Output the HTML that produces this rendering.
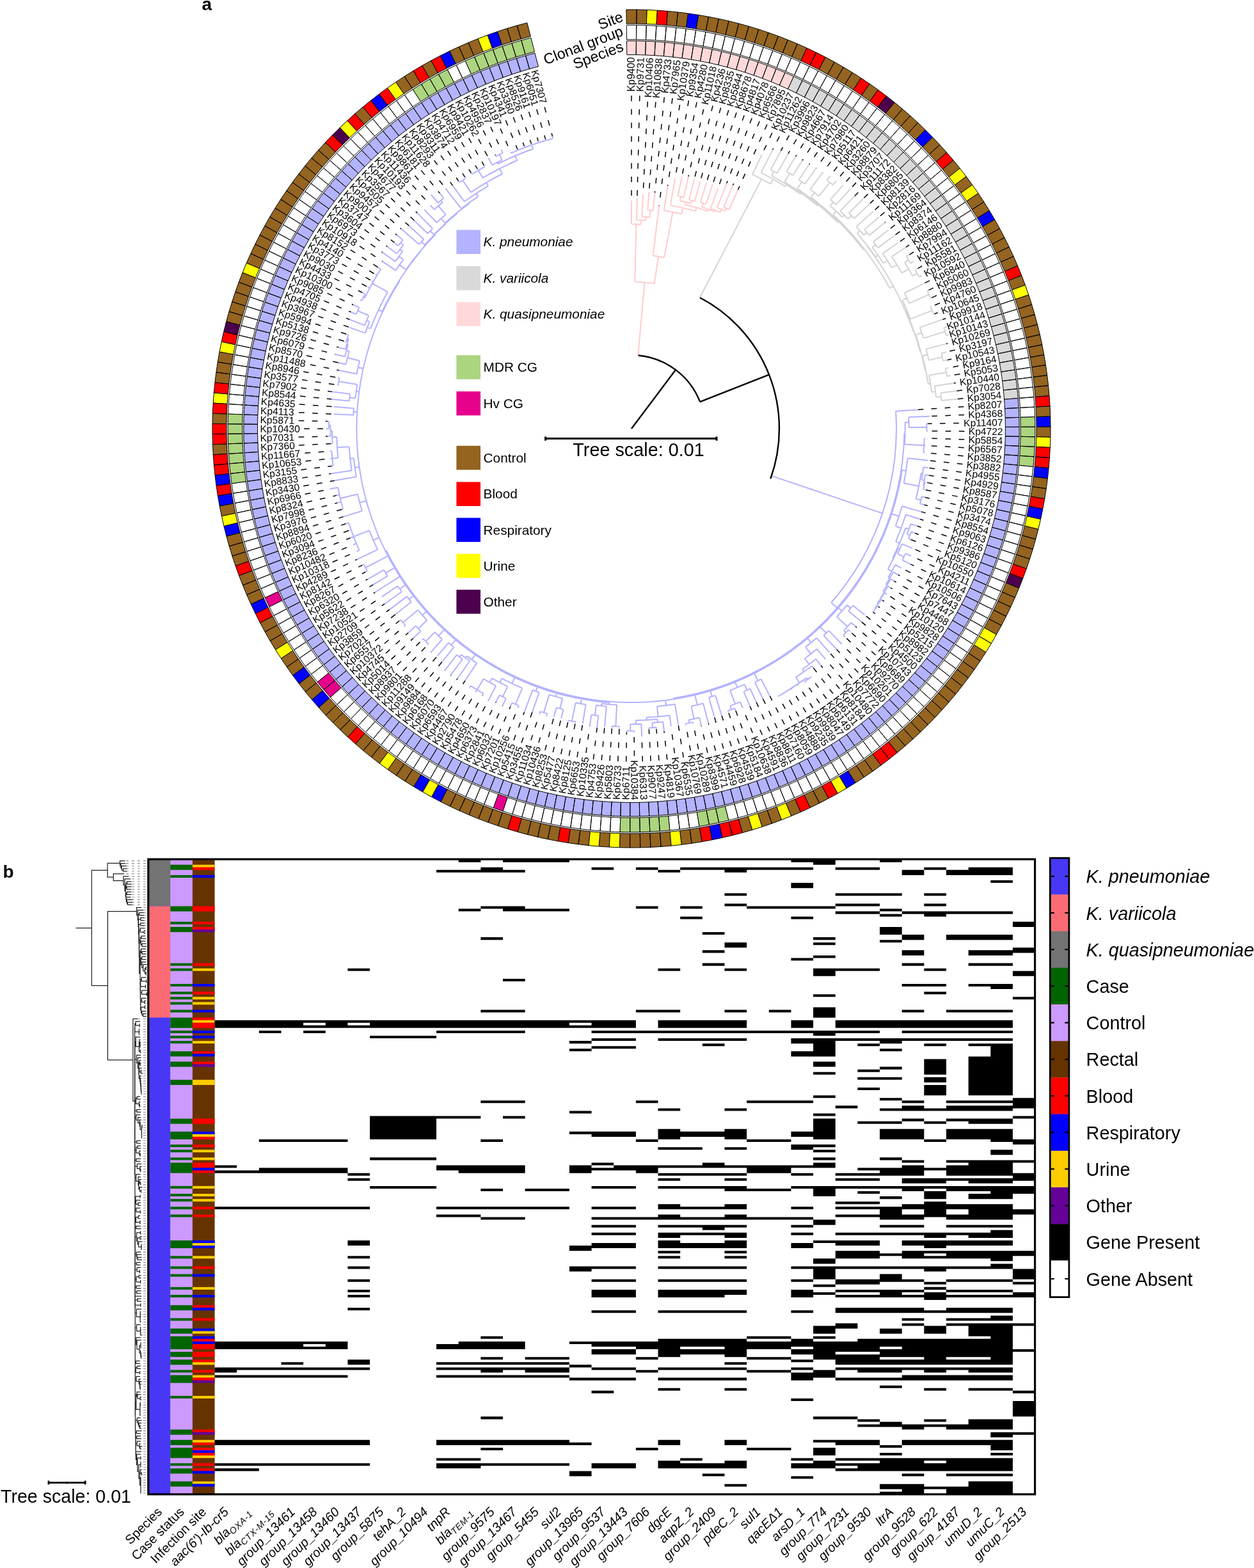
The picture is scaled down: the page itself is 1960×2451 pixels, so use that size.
<!DOCTYPE html>
<html lang="en"><head><meta charset="utf-8"><title>Klebsiella phylogeny and gene presence</title>
<style>html,body{margin:0;padding:0;background:#fff}svg{display:block}</style></head>
<body>
<svg xmlns="http://www.w3.org/2000/svg" width="1960" height="2451" viewBox="0 0 1960 2451">
<rect width="1960" height="2451" fill="#fff"/>
<g id="rings" stroke="#000" stroke-width="1" stroke-linejoin="miter">
<path fill="#ffd9d9" d="M979.79 85.64L979.52 63.95A606.1 606.1 0 0 1 994.48 63.95L994.21 85.64A584.4 584.4 0 0 0 979.79 85.64ZM994.21 85.64L994.48 63.95A606.1 606.1 0 0 1 1009.42 64.31L1008.62 86A584.4 584.4 0 0 0 994.21 85.64ZM1008.62 86L1009.42 64.31A606.1 606.1 0 0 1 1024.36 65.05L1023.02 86.71A584.4 584.4 0 0 0 1008.62 86ZM1023.02 86.71L1024.36 65.05A606.1 606.1 0 0 1 1039.27 66.16L1037.39 87.78A584.4 584.4 0 0 0 1023.02 86.71ZM1037.39 87.78L1039.27 66.16A606.1 606.1 0 0 1 1054.14 67.63L1051.74 89.2A584.4 584.4 0 0 0 1037.39 87.78ZM1051.74 89.2L1054.14 67.63A606.1 606.1 0 0 1 1068.98 69.47L1066.05 90.97A584.4 584.4 0 0 0 1051.74 89.2ZM1066.05 90.97L1068.98 69.47A606.1 606.1 0 0 1 1083.77 71.67L1080.3 93.1A584.4 584.4 0 0 0 1066.05 90.97ZM1080.3 93.1L1083.77 71.67A606.1 606.1 0 0 1 1098.5 74.24L1094.51 95.57A584.4 584.4 0 0 0 1080.3 93.1ZM1094.51 95.57L1098.5 74.24A606.1 606.1 0 0 1 1113.16 77.18L1108.64 98.4A584.4 584.4 0 0 0 1094.51 95.57ZM1108.64 98.4L1113.16 77.18A606.1 606.1 0 0 1 1127.74 80.47L1122.7 101.57A584.4 584.4 0 0 0 1108.64 98.4ZM1122.7 101.57L1127.74 80.47A606.1 606.1 0 0 1 1142.24 84.12L1136.68 105.09A584.4 584.4 0 0 0 1122.7 101.57ZM1136.68 105.09L1142.24 84.12A606.1 606.1 0 0 1 1156.65 88.13L1150.57 108.96A584.4 584.4 0 0 0 1136.68 105.09ZM1150.57 108.96L1156.65 88.13A606.1 606.1 0 0 1 1170.95 92.49L1164.36 113.16A584.4 584.4 0 0 0 1150.57 108.96ZM1164.36 113.16L1170.95 92.49A606.1 606.1 0 0 1 1185.14 97.2L1178.04 117.71A584.4 584.4 0 0 0 1164.36 113.16ZM1178.04 117.71L1185.14 97.2A606.1 606.1 0 0 1 1199.2 102.26L1191.61 122.59A584.4 584.4 0 0 0 1178.04 117.71ZM1191.61 122.59L1199.2 102.26A606.1 606.1 0 0 1 1213.14 107.67L1205.05 127.8A584.4 584.4 0 0 0 1191.61 122.59ZM1205.05 127.8L1213.14 107.67A606.1 606.1 0 0 1 1226.95 113.42L1218.35 133.35A584.4 584.4 0 0 0 1205.05 127.8ZM1218.35 133.35L1226.95 113.42A606.1 606.1 0 0 1 1240.6 119.51L1231.52 139.21A584.4 584.4 0 0 0 1218.35 133.35Z"/>
<path fill="#d9d9d9" d="M1231.52 139.21L1240.6 119.51A606.1 606.1 0 0 1 1254.1 125.93L1244.54 145.41A584.4 584.4 0 0 0 1231.52 139.21ZM1244.54 145.41L1254.1 125.93A606.1 606.1 0 0 1 1267.44 132.68L1257.4 151.92A584.4 584.4 0 0 0 1244.54 145.41ZM1257.4 151.92L1267.44 132.68A606.1 606.1 0 0 1 1280.61 139.76L1270.1 158.75A584.4 584.4 0 0 0 1257.4 151.92ZM1270.1 158.75L1280.61 139.76A606.1 606.1 0 0 1 1293.6 147.17L1282.62 165.89A584.4 584.4 0 0 0 1270.1 158.75ZM1282.62 165.89L1293.6 147.17A606.1 606.1 0 0 1 1306.4 154.89L1294.97 173.33A584.4 584.4 0 0 0 1282.62 165.89ZM1294.97 173.33L1306.4 154.89A606.1 606.1 0 0 1 1319.01 162.92L1307.12 181.08A584.4 584.4 0 0 0 1294.97 173.33ZM1307.12 181.08L1319.01 162.92A606.1 606.1 0 0 1 1331.42 171.27L1319.09 189.12A584.4 584.4 0 0 0 1307.12 181.08ZM1319.09 189.12L1331.42 171.27A606.1 606.1 0 0 1 1343.61 179.91L1330.85 197.46A584.4 584.4 0 0 0 1319.09 189.12ZM1330.85 197.46L1343.61 179.91A606.1 606.1 0 0 1 1355.59 188.86L1342.4 206.09A584.4 584.4 0 0 0 1330.85 197.46ZM1342.4 206.09L1355.59 188.86A606.1 606.1 0 0 1 1367.35 198.1L1353.73 214.99A584.4 584.4 0 0 0 1342.4 206.09ZM1353.73 214.99L1367.35 198.1A606.1 606.1 0 0 1 1378.87 207.62L1364.84 224.18A584.4 584.4 0 0 0 1353.73 214.99ZM1364.84 224.18L1378.87 207.62A606.1 606.1 0 0 1 1390.16 217.43L1375.72 233.63A584.4 584.4 0 0 0 1364.84 224.18ZM1375.72 233.63L1390.16 217.43A606.1 606.1 0 0 1 1401.2 227.51L1386.37 243.35A584.4 584.4 0 0 0 1375.72 233.63ZM1386.37 243.35L1401.2 227.51A606.1 606.1 0 0 1 1411.99 237.86L1396.77 253.33A584.4 584.4 0 0 0 1386.37 243.35ZM1396.77 253.33L1411.99 237.86A606.1 606.1 0 0 1 1422.52 248.48L1406.92 263.57A584.4 584.4 0 0 0 1396.77 253.33ZM1406.92 263.57L1422.52 248.48A606.1 606.1 0 0 1 1432.78 259.35L1416.82 274.05A584.4 584.4 0 0 0 1406.92 263.57ZM1416.82 274.05L1432.78 259.35A606.1 606.1 0 0 1 1442.78 270.47L1426.46 284.77A584.4 584.4 0 0 0 1416.82 274.05ZM1426.46 284.77L1442.78 270.47A606.1 606.1 0 0 1 1452.49 281.83L1435.83 295.73A584.4 584.4 0 0 0 1426.46 284.77ZM1435.83 295.73L1452.49 281.83A606.1 606.1 0 0 1 1461.92 293.43L1444.92 306.91A584.4 584.4 0 0 0 1435.83 295.73ZM1444.92 306.91L1461.92 293.43A606.1 606.1 0 0 1 1471.07 305.26L1453.74 318.32A584.4 584.4 0 0 0 1444.92 306.91ZM1453.74 318.32L1471.07 305.26A606.1 606.1 0 0 1 1479.92 317.31L1462.27 329.94A584.4 584.4 0 0 0 1453.74 318.32ZM1462.27 329.94L1479.92 317.31A606.1 606.1 0 0 1 1488.47 329.58L1470.51 341.77A584.4 584.4 0 0 0 1462.27 329.94ZM1470.51 341.77L1488.47 329.58A606.1 606.1 0 0 1 1496.71 342.05L1478.46 353.79A584.4 584.4 0 0 0 1470.51 341.77ZM1478.46 353.79L1496.71 342.05A606.1 606.1 0 0 1 1504.65 354.72L1486.11 366.01A584.4 584.4 0 0 0 1478.46 353.79ZM1486.11 366.01L1504.65 354.72A606.1 606.1 0 0 1 1512.27 367.59L1493.46 378.41A584.4 584.4 0 0 0 1486.11 366.01ZM1493.46 378.41L1512.27 367.59A606.1 606.1 0 0 1 1519.56 380.64L1500.5 391A584.4 584.4 0 0 0 1493.46 378.41ZM1500.5 391L1519.56 380.64A606.1 606.1 0 0 1 1526.54 393.86L1507.22 403.75A584.4 584.4 0 0 0 1500.5 391ZM1507.22 403.75L1526.54 393.86A606.1 606.1 0 0 1 1533.19 407.25L1513.63 416.66A584.4 584.4 0 0 0 1507.22 403.75ZM1513.63 416.66L1533.19 407.25A606.1 606.1 0 0 1 1539.5 420.8L1519.72 429.73A584.4 584.4 0 0 0 1513.63 416.66ZM1519.72 429.73L1539.5 420.8A606.1 606.1 0 0 1 1545.48 434.51L1525.49 442.94A584.4 584.4 0 0 0 1519.72 429.73ZM1525.49 442.94L1545.48 434.51A606.1 606.1 0 0 1 1551.12 448.35L1530.92 456.29A584.4 584.4 0 0 0 1525.49 442.94ZM1530.92 456.29L1551.12 448.35A606.1 606.1 0 0 1 1556.41 462.34L1536.03 469.77A584.4 584.4 0 0 0 1530.92 456.29ZM1536.03 469.77L1556.41 462.34A606.1 606.1 0 0 1 1561.36 476.45L1540.8 483.37A584.4 584.4 0 0 0 1536.03 469.77ZM1540.8 483.37L1561.36 476.45A606.1 606.1 0 0 1 1565.96 490.67L1545.23 497.09A584.4 584.4 0 0 0 1540.8 483.37ZM1545.23 497.09L1565.96 490.67A606.1 606.1 0 0 1 1570.21 505.01L1549.33 510.91A584.4 584.4 0 0 0 1545.23 497.09ZM1549.33 510.91L1570.21 505.01A606.1 606.1 0 0 1 1574.1 519.44L1553.08 524.83A584.4 584.4 0 0 0 1549.33 510.91ZM1553.08 524.83L1574.1 519.44A606.1 606.1 0 0 1 1577.64 533.97L1556.49 538.84A584.4 584.4 0 0 0 1553.08 524.83ZM1556.49 538.84L1577.64 533.97A606.1 606.1 0 0 1 1580.81 548.58L1559.55 552.93A584.4 584.4 0 0 0 1556.49 538.84ZM1559.55 552.93L1580.81 548.58A606.1 606.1 0 0 1 1583.63 563.26L1562.27 567.08A584.4 584.4 0 0 0 1559.55 552.93ZM1562.27 567.08L1583.63 563.26A606.1 606.1 0 0 1 1586.08 578.01L1564.63 581.31A584.4 584.4 0 0 0 1562.27 567.08ZM1564.63 581.31L1586.08 578.01A606.1 606.1 0 0 1 1588.17 592.82L1566.64 595.58A584.4 584.4 0 0 0 1564.63 581.31ZM1566.64 595.58L1588.17 592.82A606.1 606.1 0 0 1 1589.89 607.67L1568.3 609.9A584.4 584.4 0 0 0 1566.64 595.58ZM1568.3 609.9L1589.89 607.67A606.1 606.1 0 0 1 1591.24 622.56L1569.61 624.26A584.4 584.4 0 0 0 1568.3 609.9Z"/>
<path fill="#b3b3ff" d="M1569.61 624.26L1591.24 622.56A606.1 606.1 0 0 1 1592.23 637.48L1570.56 638.64A584.4 584.4 0 0 0 1569.61 624.26ZM1570.56 638.64L1592.23 637.48A606.1 606.1 0 0 1 1592.84 652.42L1571.15 653.05A584.4 584.4 0 0 0 1570.56 638.64ZM1571.15 653.05L1592.84 652.42A606.1 606.1 0 0 1 1593.09 667.36L1571.39 667.46A584.4 584.4 0 0 0 1571.15 653.05ZM1571.39 667.46L1593.09 667.36A606.1 606.1 0 0 1 1592.97 682.32L1571.28 681.87A584.4 584.4 0 0 0 1571.39 667.46ZM1571.28 681.87L1592.97 682.32A606.1 606.1 0 0 1 1592.49 697.26L1570.81 696.28A584.4 584.4 0 0 0 1571.28 681.87ZM1570.81 696.28L1592.49 697.26A606.1 606.1 0 0 1 1591.63 712.19L1569.98 710.68A584.4 584.4 0 0 0 1570.81 696.28ZM1569.98 710.68L1591.63 712.19A606.1 606.1 0 0 1 1590.41 727.09L1568.8 725.04A584.4 584.4 0 0 0 1569.98 710.68ZM1568.8 725.04L1590.41 727.09A606.1 606.1 0 0 1 1588.81 741.95L1567.27 739.38A584.4 584.4 0 0 0 1568.8 725.04ZM1567.27 739.38L1588.81 741.95A606.1 606.1 0 0 1 1586.86 756.78L1565.38 753.67A584.4 584.4 0 0 0 1567.27 739.38ZM1565.38 753.67L1586.86 756.78A606.1 606.1 0 0 1 1584.53 771.54L1563.14 767.91A584.4 584.4 0 0 0 1565.38 753.67ZM1563.14 767.91L1584.53 771.54A606.1 606.1 0 0 1 1581.85 786.25L1560.55 782.09A584.4 584.4 0 0 0 1563.14 767.91ZM1560.55 782.09L1581.85 786.25A606.1 606.1 0 0 1 1578.8 800.89L1557.61 796.2A584.4 584.4 0 0 0 1560.55 782.09ZM1557.61 796.2L1578.8 800.89A606.1 606.1 0 0 1 1575.39 815.45L1554.32 810.24A584.4 584.4 0 0 0 1557.61 796.2ZM1554.32 810.24L1575.39 815.45A606.1 606.1 0 0 1 1571.62 829.92L1550.69 824.19A584.4 584.4 0 0 0 1554.32 810.24ZM1550.69 824.19L1571.62 829.92A606.1 606.1 0 0 1 1567.5 844.29L1546.72 838.05A584.4 584.4 0 0 0 1550.69 824.19ZM1546.72 838.05L1567.5 844.29A606.1 606.1 0 0 1 1563.03 858.55L1542.4 851.8A584.4 584.4 0 0 0 1546.72 838.05ZM1542.4 851.8L1563.03 858.55A606.1 606.1 0 0 1 1558.2 872.7L1537.75 865.45A584.4 584.4 0 0 0 1542.4 851.8ZM1537.75 865.45L1558.2 872.7A606.1 606.1 0 0 1 1553.03 886.73L1532.76 878.97A584.4 584.4 0 0 0 1537.75 865.45ZM1532.76 878.97L1553.03 886.73A606.1 606.1 0 0 1 1547.51 900.63L1527.44 892.37A584.4 584.4 0 0 0 1532.76 878.97ZM1527.44 892.37L1547.51 900.63A606.1 606.1 0 0 1 1541.65 914.38L1521.79 905.63A584.4 584.4 0 0 0 1527.44 892.37ZM1521.79 905.63L1541.65 914.38A606.1 606.1 0 0 1 1535.45 927.99L1515.82 918.75A584.4 584.4 0 0 0 1521.79 905.63ZM1515.82 918.75L1535.45 927.99A606.1 606.1 0 0 1 1528.92 941.44L1509.52 931.72A584.4 584.4 0 0 0 1515.82 918.75ZM1509.52 931.72L1528.92 941.44A606.1 606.1 0 0 1 1522.06 954.72L1502.9 944.53A584.4 584.4 0 0 0 1509.52 931.72ZM1502.9 944.53L1522.06 954.72A606.1 606.1 0 0 1 1514.87 967.83L1495.98 957.17A584.4 584.4 0 0 0 1502.9 944.53ZM1495.98 957.17L1514.87 967.83A606.1 606.1 0 0 1 1507.37 980.76L1488.74 969.64A584.4 584.4 0 0 0 1495.98 957.17ZM1488.74 969.64L1507.37 980.76A606.1 606.1 0 0 1 1499.54 993.51L1481.19 981.92A584.4 584.4 0 0 0 1488.74 969.64ZM1481.19 981.92L1499.54 993.51A606.1 606.1 0 0 1 1491.41 1006.05L1473.35 994.02A584.4 584.4 0 0 0 1481.19 981.92ZM1473.35 994.02L1491.41 1006.05A606.1 606.1 0 0 1 1482.97 1018.39L1465.21 1005.92A584.4 584.4 0 0 0 1473.35 994.02ZM1465.21 1005.92L1482.97 1018.39A606.1 606.1 0 0 1 1474.22 1030.52L1456.78 1017.61A584.4 584.4 0 0 0 1465.21 1005.92ZM1456.78 1017.61L1474.22 1030.52A606.1 606.1 0 0 1 1465.18 1042.42L1448.06 1029.09A584.4 584.4 0 0 0 1456.78 1017.61ZM1448.06 1029.09L1465.18 1042.42A606.1 606.1 0 0 1 1455.85 1054.11L1439.06 1040.35A584.4 584.4 0 0 0 1448.06 1029.09ZM1439.06 1040.35L1455.85 1054.11A606.1 606.1 0 0 1 1446.23 1065.55L1429.79 1051.39A584.4 584.4 0 0 0 1439.06 1040.35ZM1429.79 1051.39L1446.23 1065.55A606.1 606.1 0 0 1 1436.34 1076.76L1420.25 1062.2A584.4 584.4 0 0 0 1429.79 1051.39ZM1420.25 1062.2L1436.34 1076.76A606.1 606.1 0 0 1 1426.17 1087.72L1410.44 1072.76A584.4 584.4 0 0 0 1420.25 1062.2ZM1410.44 1072.76L1426.17 1087.72A606.1 606.1 0 0 1 1415.73 1098.43L1400.38 1083.09A584.4 584.4 0 0 0 1410.44 1072.76ZM1400.38 1083.09L1415.73 1098.43A606.1 606.1 0 0 1 1405.03 1108.87L1390.06 1093.16A584.4 584.4 0 0 0 1400.38 1083.09ZM1390.06 1093.16L1405.03 1108.87A606.1 606.1 0 0 1 1394.08 1119.05L1379.5 1102.97A584.4 584.4 0 0 0 1390.06 1093.16ZM1379.5 1102.97L1394.08 1119.05A606.1 606.1 0 0 1 1382.88 1128.95L1368.71 1112.52A584.4 584.4 0 0 0 1379.5 1102.97ZM1368.71 1112.52L1382.88 1128.95A606.1 606.1 0 0 1 1371.44 1138.58L1357.67 1121.8A584.4 584.4 0 0 0 1368.71 1112.52ZM1357.67 1121.8L1371.44 1138.58A606.1 606.1 0 0 1 1359.76 1147.92L1346.42 1130.81A584.4 584.4 0 0 0 1357.67 1121.8ZM1346.42 1130.81L1359.76 1147.92A606.1 606.1 0 0 1 1347.86 1156.97L1334.94 1139.53A584.4 584.4 0 0 0 1346.42 1130.81ZM1334.94 1139.53L1347.86 1156.97A606.1 606.1 0 0 1 1335.74 1165.72L1323.25 1147.97A584.4 584.4 0 0 0 1334.94 1139.53ZM1323.25 1147.97L1335.74 1165.72A606.1 606.1 0 0 1 1323.41 1174.17L1311.36 1156.12A584.4 584.4 0 0 0 1323.25 1147.97ZM1311.36 1156.12L1323.41 1174.17A606.1 606.1 0 0 1 1310.87 1182.31L1299.27 1163.97A584.4 584.4 0 0 0 1311.36 1156.12ZM1299.27 1163.97L1310.87 1182.31A606.1 606.1 0 0 1 1298.13 1190.15L1286.99 1171.52A584.4 584.4 0 0 0 1299.27 1163.97ZM1286.99 1171.52L1298.13 1190.15A606.1 606.1 0 0 1 1285.21 1197.66L1274.53 1178.77A584.4 584.4 0 0 0 1286.99 1171.52ZM1274.53 1178.77L1285.21 1197.66A606.1 606.1 0 0 1 1272.1 1204.86L1261.89 1185.71A584.4 584.4 0 0 0 1274.53 1178.77ZM1261.89 1185.71L1272.1 1204.86A606.1 606.1 0 0 1 1258.82 1211.73L1249.09 1192.33A584.4 584.4 0 0 0 1261.89 1185.71ZM1249.09 1192.33L1258.82 1211.73A606.1 606.1 0 0 1 1245.38 1218.27L1236.13 1198.64A584.4 584.4 0 0 0 1249.09 1192.33ZM1236.13 1198.64L1245.38 1218.27A606.1 606.1 0 0 1 1231.78 1224.47L1223.01 1204.62A584.4 584.4 0 0 0 1236.13 1198.64ZM1223.01 1204.62L1231.78 1224.47A606.1 606.1 0 0 1 1218.02 1230.34L1209.75 1210.28A584.4 584.4 0 0 0 1223.01 1204.62ZM1209.75 1210.28L1218.02 1230.34A606.1 606.1 0 0 1 1204.13 1235.87L1196.36 1215.61A584.4 584.4 0 0 0 1209.75 1210.28ZM1196.36 1215.61L1204.13 1235.87A606.1 606.1 0 0 1 1190.11 1241.06L1182.84 1220.61A584.4 584.4 0 0 0 1196.36 1215.61ZM1182.84 1220.61L1190.11 1241.06A606.1 606.1 0 0 1 1175.96 1245.89L1169.2 1225.27A584.4 584.4 0 0 0 1182.84 1220.61ZM1169.2 1225.27L1175.96 1245.89A606.1 606.1 0 0 1 1161.7 1250.38L1155.44 1229.6A584.4 584.4 0 0 0 1169.2 1225.27ZM1155.44 1229.6L1161.7 1250.38A606.1 606.1 0 0 1 1147.33 1254.51L1141.59 1233.58A584.4 584.4 0 0 0 1155.44 1229.6ZM1141.59 1233.58L1147.33 1254.51A606.1 606.1 0 0 1 1132.86 1258.29L1127.64 1237.22A584.4 584.4 0 0 0 1141.59 1233.58ZM1127.64 1237.22L1132.86 1258.29A606.1 606.1 0 0 1 1118.31 1261.71L1113.61 1240.52A584.4 584.4 0 0 0 1127.64 1237.22ZM1113.61 1240.52L1118.31 1261.71A606.1 606.1 0 0 1 1103.67 1264.76L1099.5 1243.47A584.4 584.4 0 0 0 1113.61 1240.52ZM1099.5 1243.47L1103.67 1264.76A606.1 606.1 0 0 1 1088.97 1267.46L1085.32 1246.07A584.4 584.4 0 0 0 1099.5 1243.47ZM1085.32 1246.07L1088.97 1267.46A606.1 606.1 0 0 1 1074.2 1269.79L1071.08 1248.32A584.4 584.4 0 0 0 1085.32 1246.07ZM1071.08 1248.32L1074.2 1269.79A606.1 606.1 0 0 1 1059.38 1271.76L1056.79 1250.22A584.4 584.4 0 0 0 1071.08 1248.32ZM1056.79 1250.22L1059.38 1271.76A606.1 606.1 0 0 1 1044.51 1273.37L1042.45 1251.76A584.4 584.4 0 0 0 1056.79 1250.22ZM1042.45 1251.76L1044.51 1273.37A606.1 606.1 0 0 1 1029.61 1274.6L1028.09 1252.95A584.4 584.4 0 0 0 1042.45 1251.76ZM1028.09 1252.95L1029.61 1274.6A606.1 606.1 0 0 1 1014.69 1275.47L1013.7 1253.79A584.4 584.4 0 0 0 1028.09 1252.95ZM1013.7 1253.79L1014.69 1275.47A606.1 606.1 0 0 1 999.75 1275.97L999.29 1254.27A584.4 584.4 0 0 0 1013.7 1253.79ZM999.29 1254.27L999.75 1275.97A606.1 606.1 0 0 1 984.79 1276.1L984.87 1254.4A584.4 584.4 0 0 0 999.29 1254.27ZM984.87 1254.4L984.79 1276.1A606.1 606.1 0 0 1 969.85 1275.86L970.46 1254.17A584.4 584.4 0 0 0 984.87 1254.4ZM970.46 1254.17L969.85 1275.86A606.1 606.1 0 0 1 954.91 1275.25L956.06 1253.58A584.4 584.4 0 0 0 970.46 1254.17ZM956.06 1253.58L954.91 1275.25A606.1 606.1 0 0 1 939.99 1274.27L941.67 1252.64A584.4 584.4 0 0 0 956.06 1253.58ZM941.67 1252.64L939.99 1274.27A606.1 606.1 0 0 1 925.1 1272.93L927.31 1251.34A584.4 584.4 0 0 0 941.67 1252.64ZM927.31 1251.34L925.1 1272.93A606.1 606.1 0 0 1 910.24 1271.22L912.99 1249.69A584.4 584.4 0 0 0 927.31 1251.34ZM912.99 1249.69L910.24 1271.22A606.1 606.1 0 0 1 895.44 1269.14L898.72 1247.69A584.4 584.4 0 0 0 912.99 1249.69ZM898.72 1247.69L895.44 1269.14A606.1 606.1 0 0 1 880.69 1266.7L884.49 1245.34A584.4 584.4 0 0 0 898.72 1247.69ZM884.49 1245.34L880.69 1266.7A606.1 606.1 0 0 1 866 1263.9L870.33 1242.64A584.4 584.4 0 0 0 884.49 1245.34ZM870.33 1242.64L866 1263.9A606.1 606.1 0 0 1 851.39 1260.73L856.24 1239.58A584.4 584.4 0 0 0 870.33 1242.64ZM856.24 1239.58L851.39 1260.73A606.1 606.1 0 0 1 836.86 1257.21L842.23 1236.19A584.4 584.4 0 0 0 856.24 1239.58ZM842.23 1236.19L836.86 1257.21A606.1 606.1 0 0 1 822.42 1253.33L828.31 1232.44A584.4 584.4 0 0 0 842.23 1236.19ZM828.31 1232.44L822.42 1253.33A606.1 606.1 0 0 1 808.08 1249.09L814.49 1228.36A584.4 584.4 0 0 0 828.31 1232.44ZM814.49 1228.36L808.08 1249.09A606.1 606.1 0 0 1 793.85 1244.5L800.77 1223.93A584.4 584.4 0 0 0 814.49 1228.36ZM800.77 1223.93L793.85 1244.5A606.1 606.1 0 0 1 779.74 1239.56L787.16 1219.17A584.4 584.4 0 0 0 800.77 1223.93ZM787.16 1219.17L779.74 1239.56A606.1 606.1 0 0 1 765.75 1234.28L773.68 1214.07A584.4 584.4 0 0 0 787.16 1219.17ZM773.68 1214.07L765.75 1234.28A606.1 606.1 0 0 1 751.9 1228.65L760.32 1208.65A584.4 584.4 0 0 0 773.68 1214.07ZM760.32 1208.65L751.9 1228.65A606.1 606.1 0 0 1 738.2 1222.68L747.1 1202.89A584.4 584.4 0 0 0 760.32 1208.65ZM747.1 1202.89L738.2 1222.68A606.1 606.1 0 0 1 724.64 1216.37L734.03 1196.81A584.4 584.4 0 0 0 747.1 1202.89ZM734.03 1196.81L724.64 1216.37A606.1 606.1 0 0 1 711.24 1209.74L721.11 1190.41A584.4 584.4 0 0 0 734.03 1196.81ZM721.11 1190.41L711.24 1209.74A606.1 606.1 0 0 1 698.01 1202.77L708.36 1183.7A584.4 584.4 0 0 0 721.11 1190.41ZM708.36 1183.7L698.01 1202.77A606.1 606.1 0 0 1 684.96 1195.48L695.77 1176.67A584.4 584.4 0 0 0 708.36 1183.7ZM695.77 1176.67L684.96 1195.48A606.1 606.1 0 0 1 672.09 1187.87L683.36 1169.33A584.4 584.4 0 0 0 695.77 1176.67ZM683.36 1169.33L672.09 1187.87A606.1 606.1 0 0 1 659.41 1179.94L671.14 1161.69A584.4 584.4 0 0 0 683.36 1169.33ZM671.14 1161.69L659.41 1179.94A606.1 606.1 0 0 1 646.93 1171.71L659.11 1153.75A584.4 584.4 0 0 0 671.14 1161.69ZM659.11 1153.75L646.93 1171.71A606.1 606.1 0 0 1 634.66 1163.17L647.28 1145.51A584.4 584.4 0 0 0 659.11 1153.75ZM647.28 1145.51L634.66 1163.17A606.1 606.1 0 0 1 622.6 1154.33L635.65 1136.99A584.4 584.4 0 0 0 647.28 1145.51ZM635.65 1136.99L622.6 1154.33A606.1 606.1 0 0 1 610.77 1145.19L624.24 1128.18A584.4 584.4 0 0 0 635.65 1136.99ZM624.24 1128.18L610.77 1145.19A606.1 606.1 0 0 1 599.16 1135.77L613.05 1119.09A584.4 584.4 0 0 0 624.24 1128.18ZM613.05 1119.09L599.16 1135.77A606.1 606.1 0 0 1 587.79 1126.06L602.08 1109.73A584.4 584.4 0 0 0 613.05 1119.09ZM602.08 1109.73L587.79 1126.06A606.1 606.1 0 0 1 576.66 1116.07L591.35 1100.1A584.4 584.4 0 0 0 602.08 1109.73ZM591.35 1100.1L576.66 1116.07A606.1 606.1 0 0 1 565.79 1105.82L580.87 1090.21A584.4 584.4 0 0 0 591.35 1100.1ZM580.87 1090.21L565.79 1105.82A606.1 606.1 0 0 1 555.16 1095.29L570.62 1080.07A584.4 584.4 0 0 0 580.87 1090.21ZM570.62 1080.07L555.16 1095.29A606.1 606.1 0 0 1 544.81 1084.51L560.64 1069.67A584.4 584.4 0 0 0 570.62 1080.07ZM560.64 1069.67L544.81 1084.51A606.1 606.1 0 0 1 534.72 1073.48L550.91 1059.03A584.4 584.4 0 0 0 560.64 1069.67ZM550.91 1059.03L534.72 1073.48A606.1 606.1 0 0 1 524.9 1062.2L541.45 1048.16A584.4 584.4 0 0 0 550.91 1059.03ZM541.45 1048.16L524.9 1062.2A606.1 606.1 0 0 1 515.37 1050.68L532.25 1037.05A584.4 584.4 0 0 0 541.45 1048.16ZM532.25 1037.05L515.37 1050.68A606.1 606.1 0 0 1 506.12 1038.93L523.34 1025.73A584.4 584.4 0 0 0 532.25 1037.05ZM523.34 1025.73L506.12 1038.93A606.1 606.1 0 0 1 497.17 1026.96L514.7 1014.18A584.4 584.4 0 0 0 523.34 1025.73ZM514.7 1014.18L497.17 1026.96A606.1 606.1 0 0 1 488.51 1014.77L506.36 1002.43A584.4 584.4 0 0 0 514.7 1014.18ZM506.36 1002.43L488.51 1014.77A606.1 606.1 0 0 1 480.16 1002.37L498.31 990.47A584.4 584.4 0 0 0 506.36 1002.43ZM498.31 990.47L480.16 1002.37A606.1 606.1 0 0 1 472.11 989.77L490.55 978.32A584.4 584.4 0 0 0 498.31 990.47ZM490.55 978.32L472.11 989.77A606.1 606.1 0 0 1 464.38 976.97L483.1 965.98A584.4 584.4 0 0 0 490.55 978.32ZM483.1 965.98L464.38 976.97A606.1 606.1 0 0 1 456.97 963.98L475.95 953.46A584.4 584.4 0 0 0 483.1 965.98ZM475.95 953.46L456.97 963.98A606.1 606.1 0 0 1 449.88 950.82L469.11 940.77A584.4 584.4 0 0 0 475.95 953.46ZM469.11 940.77L449.88 950.82A606.1 606.1 0 0 1 443.12 937.49L462.59 927.91A584.4 584.4 0 0 0 469.11 940.77ZM462.59 927.91L443.12 937.49A606.1 606.1 0 0 1 436.69 923.99L456.39 914.9A584.4 584.4 0 0 0 462.59 927.91ZM456.39 914.9L436.69 923.99A606.1 606.1 0 0 1 430.59 910.34L450.51 901.73A584.4 584.4 0 0 0 456.39 914.9ZM450.51 901.73L430.59 910.34A606.1 606.1 0 0 1 424.83 896.54L444.96 888.43A584.4 584.4 0 0 0 450.51 901.73ZM444.96 888.43L424.83 896.54A606.1 606.1 0 0 1 419.41 882.61L439.73 874.99A584.4 584.4 0 0 0 444.96 888.43ZM439.73 874.99L419.41 882.61A606.1 606.1 0 0 1 414.34 868.54L434.84 861.43A584.4 584.4 0 0 0 439.73 874.99ZM434.84 861.43L414.34 868.54A606.1 606.1 0 0 1 409.62 854.36L430.29 847.76A584.4 584.4 0 0 0 434.84 861.43ZM430.29 847.76L409.62 854.36A606.1 606.1 0 0 1 405.25 840.06L426.07 833.97A584.4 584.4 0 0 0 430.29 847.76ZM426.07 833.97L405.25 840.06A606.1 606.1 0 0 1 401.23 825.66L422.2 820.08A584.4 584.4 0 0 0 426.07 833.97ZM422.2 820.08L401.23 825.66A606.1 606.1 0 0 1 397.57 811.16L418.67 806.11A584.4 584.4 0 0 0 422.2 820.08ZM418.67 806.11L397.57 811.16A606.1 606.1 0 0 1 394.26 796.58L415.49 792.05A584.4 584.4 0 0 0 418.67 806.11ZM415.49 792.05L394.26 796.58A606.1 606.1 0 0 1 391.32 781.92L412.65 777.91A584.4 584.4 0 0 0 415.49 792.05ZM412.65 777.91L391.32 781.92A606.1 606.1 0 0 1 388.74 767.19L410.16 763.71A584.4 584.4 0 0 0 412.65 777.91ZM410.16 763.71L388.74 767.19A606.1 606.1 0 0 1 386.53 752.41L408.03 749.46A584.4 584.4 0 0 0 410.16 763.71ZM408.03 749.46L386.53 752.41A606.1 606.1 0 0 1 384.68 737.57L406.24 735.15A584.4 584.4 0 0 0 408.03 749.46ZM406.24 735.15L384.68 737.57A606.1 606.1 0 0 1 383.19 722.69L404.81 720.81A584.4 584.4 0 0 0 406.24 735.15ZM404.81 720.81L383.19 722.69A606.1 606.1 0 0 1 382.08 707.78L403.74 706.43A584.4 584.4 0 0 0 404.81 720.81ZM403.74 706.43L382.08 707.78A606.1 606.1 0 0 1 381.33 692.85L403.02 692.03A584.4 584.4 0 0 0 403.74 706.43ZM403.02 692.03L381.33 692.85A606.1 606.1 0 0 1 380.95 677.91L402.65 677.62A584.4 584.4 0 0 0 403.02 692.03ZM402.65 677.62L380.95 677.91A606.1 606.1 0 0 1 380.94 662.95L402.64 663.21A584.4 584.4 0 0 0 402.65 677.62ZM402.64 663.21L380.94 662.95A606.1 606.1 0 0 1 381.3 648.01L402.98 648.79A584.4 584.4 0 0 0 402.64 663.21ZM402.98 648.79L381.3 648.01A606.1 606.1 0 0 1 382.03 633.07L403.69 634.4A584.4 584.4 0 0 0 402.98 648.79ZM403.69 634.4L382.03 633.07A606.1 606.1 0 0 1 383.12 618.16L404.74 620.02A584.4 584.4 0 0 0 403.69 634.4ZM404.74 620.02L383.12 618.16A606.1 606.1 0 0 1 384.58 603.28L406.15 605.67A584.4 584.4 0 0 0 404.74 620.02ZM406.15 605.67L384.58 603.28A606.1 606.1 0 0 1 386.41 588.44L407.91 591.36A584.4 584.4 0 0 0 406.15 605.67ZM407.91 591.36L386.41 588.44A606.1 606.1 0 0 1 388.61 573.65L410.03 577.1A584.4 584.4 0 0 0 407.91 591.36ZM410.03 577.1L388.61 573.65A606.1 606.1 0 0 1 391.16 558.92L412.5 562.9A584.4 584.4 0 0 0 410.03 577.1ZM412.5 562.9L391.16 558.92A606.1 606.1 0 0 1 394.09 544.26L415.31 548.76A584.4 584.4 0 0 0 412.5 562.9ZM415.31 548.76L394.09 544.26A606.1 606.1 0 0 1 397.37 529.67L418.48 534.7A584.4 584.4 0 0 0 415.31 548.76ZM418.48 534.7L397.37 529.67A606.1 606.1 0 0 1 401.01 515.17L421.99 520.72A584.4 584.4 0 0 0 418.48 534.7ZM421.99 520.72L401.01 515.17A606.1 606.1 0 0 1 405.01 500.77L425.84 506.83A584.4 584.4 0 0 0 421.99 520.72ZM425.84 506.83L405.01 500.77A606.1 606.1 0 0 1 409.36 486.46L430.04 493.03A584.4 584.4 0 0 0 425.84 506.83ZM430.04 493.03L409.36 486.46A606.1 606.1 0 0 1 414.06 472.27L434.57 479.35A584.4 584.4 0 0 0 430.04 493.03ZM434.57 479.35L414.06 472.27A606.1 606.1 0 0 1 419.11 458.2L439.44 465.78A584.4 584.4 0 0 0 434.57 479.35ZM439.44 465.78L419.11 458.2A606.1 606.1 0 0 1 424.51 444.26L444.65 452.34A584.4 584.4 0 0 0 439.44 465.78ZM444.65 452.34L424.51 444.26A606.1 606.1 0 0 1 430.25 430.45L450.18 439.03A584.4 584.4 0 0 0 444.65 452.34ZM450.18 439.03L430.25 430.45A606.1 606.1 0 0 1 436.33 416.79L456.04 425.86A584.4 584.4 0 0 0 450.18 439.03ZM456.04 425.86L436.33 416.79A606.1 606.1 0 0 1 442.74 403.28L462.23 412.83A584.4 584.4 0 0 0 456.04 425.86ZM462.23 412.83L442.74 403.28A606.1 606.1 0 0 1 449.48 389.94L468.73 399.97A584.4 584.4 0 0 0 462.23 412.83ZM468.73 399.97L449.48 389.94A606.1 606.1 0 0 1 456.56 376.77L475.55 387.27A584.4 584.4 0 0 0 468.73 399.97ZM475.55 387.27L456.56 376.77A606.1 606.1 0 0 1 463.95 363.77L482.68 374.74A584.4 584.4 0 0 0 475.55 387.27ZM482.68 374.74L463.95 363.77A606.1 606.1 0 0 1 471.66 350.96L490.11 362.39A584.4 584.4 0 0 0 482.68 374.74ZM490.11 362.39L471.66 350.96A606.1 606.1 0 0 1 479.69 338.35L497.85 350.22A584.4 584.4 0 0 0 490.11 362.39ZM497.85 350.22L479.69 338.35A606.1 606.1 0 0 1 488.02 325.94L505.89 338.26A584.4 584.4 0 0 0 497.85 350.22ZM505.89 338.26L488.02 325.94A606.1 606.1 0 0 1 496.66 313.73L514.22 326.49A584.4 584.4 0 0 0 505.89 338.26ZM514.22 326.49L496.66 313.73A606.1 606.1 0 0 1 505.6 301.75L522.83 314.93A584.4 584.4 0 0 0 514.22 326.49ZM522.83 314.93L505.6 301.75A606.1 606.1 0 0 1 514.83 289.99L531.73 303.59A584.4 584.4 0 0 0 522.83 314.93ZM531.73 303.59L514.83 289.99A606.1 606.1 0 0 1 524.35 278.45L540.91 292.47A584.4 584.4 0 0 0 531.73 303.59ZM540.91 292.47L524.35 278.45A606.1 606.1 0 0 1 534.14 267.16L550.36 281.58A584.4 584.4 0 0 0 540.91 292.47ZM550.36 281.58L534.14 267.16A606.1 606.1 0 0 1 544.22 256.11L560.07 270.93A584.4 584.4 0 0 0 550.36 281.58ZM560.07 270.93L544.22 256.11A606.1 606.1 0 0 1 554.56 245.32L570.04 260.52A584.4 584.4 0 0 0 560.07 270.93ZM570.04 260.52L554.56 245.32A606.1 606.1 0 0 1 565.17 234.78L580.27 250.36A584.4 584.4 0 0 0 570.04 260.52ZM580.27 250.36L565.17 234.78A606.1 606.1 0 0 1 576.03 224.51L590.75 240.46A584.4 584.4 0 0 0 580.27 250.36ZM590.75 240.46L576.03 224.51A606.1 606.1 0 0 1 587.15 214.51L601.46 230.82A584.4 584.4 0 0 0 590.75 240.46ZM601.46 230.82L587.15 214.51A606.1 606.1 0 0 1 598.5 204.78L612.41 221.44A584.4 584.4 0 0 0 601.46 230.82ZM612.41 221.44L598.5 204.78A606.1 606.1 0 0 1 610.1 195.34L623.59 212.34A584.4 584.4 0 0 0 612.41 221.44ZM623.59 212.34L610.1 195.34A606.1 606.1 0 0 1 621.92 186.19L634.99 203.51A584.4 584.4 0 0 0 623.59 212.34ZM634.99 203.51L621.92 186.19A606.1 606.1 0 0 1 633.96 177.33L646.6 194.97A584.4 584.4 0 0 0 634.99 203.51ZM646.6 194.97L633.96 177.33A606.1 606.1 0 0 1 646.22 168.77L658.42 186.72A584.4 584.4 0 0 0 646.6 194.97ZM658.42 186.72L646.22 168.77A606.1 606.1 0 0 1 658.69 160.52L670.44 178.76A584.4 584.4 0 0 0 658.42 186.72ZM670.44 178.76L658.69 160.52A606.1 606.1 0 0 1 671.36 152.58L682.66 171.1A584.4 584.4 0 0 0 670.44 178.76ZM682.66 171.1L671.36 152.58A606.1 606.1 0 0 1 684.21 144.95L695.06 163.75A584.4 584.4 0 0 0 682.66 171.1ZM695.06 163.75L684.21 144.95A606.1 606.1 0 0 1 697.26 137.64L707.63 156.7A584.4 584.4 0 0 0 695.06 163.75ZM707.63 156.7L697.26 137.64A606.1 606.1 0 0 1 710.48 130.66L720.38 149.97A584.4 584.4 0 0 0 707.63 156.7ZM720.38 149.97L710.48 130.66A606.1 606.1 0 0 1 723.86 124L733.29 143.55A584.4 584.4 0 0 0 720.38 149.97ZM733.29 143.55L723.86 124A606.1 606.1 0 0 1 737.41 117.67L746.35 137.45A584.4 584.4 0 0 0 733.29 143.55ZM746.35 137.45L737.41 117.67A606.1 606.1 0 0 1 751.11 111.69L759.56 131.68A584.4 584.4 0 0 0 746.35 137.45ZM759.56 131.68L751.11 111.69A606.1 606.1 0 0 1 764.96 106.04L772.9 126.23A584.4 584.4 0 0 0 759.56 131.68ZM772.9 126.23L764.96 106.04A606.1 606.1 0 0 1 778.93 100.73L786.38 121.11A584.4 584.4 0 0 0 772.9 126.23ZM786.38 121.11L778.93 100.73A606.1 606.1 0 0 1 793.04 95.77L799.98 116.33A584.4 584.4 0 0 0 786.38 121.11ZM799.98 116.33L793.04 95.77A606.1 606.1 0 0 1 807.26 91.16L813.7 111.89A584.4 584.4 0 0 0 799.98 116.33ZM813.7 111.89L807.26 91.16A606.1 606.1 0 0 1 821.59 86.91L827.52 107.78A584.4 584.4 0 0 0 813.7 111.89ZM827.52 107.78L821.59 86.91A606.1 606.1 0 0 1 836.03 83L841.43 104.02A584.4 584.4 0 0 0 827.52 107.78Z"/>
<path fill="#ffffff" d="M979.5 61.85L979.22 39.25A630.8 630.8 0 0 1 994.78 39.25L994.5 61.85A608.2 608.2 0 0 0 979.5 61.85ZM994.5 61.85L994.78 39.25A630.8 630.8 0 0 1 1010.34 39.63L1009.5 62.22A608.2 608.2 0 0 0 994.5 61.85ZM1009.5 62.22L1010.34 39.63A630.8 630.8 0 0 1 1025.88 40.4L1024.48 62.96A608.2 608.2 0 0 0 1009.5 62.22ZM1024.48 62.96L1025.88 40.4A630.8 630.8 0 0 1 1041.4 41.55L1039.45 64.07A608.2 608.2 0 0 0 1024.48 62.96ZM1039.45 64.07L1041.4 41.55A630.8 630.8 0 0 1 1056.88 43.08L1054.38 65.54A608.2 608.2 0 0 0 1039.45 64.07ZM1054.38 65.54L1056.88 43.08A630.8 630.8 0 0 1 1072.32 45L1069.27 67.39A608.2 608.2 0 0 0 1054.38 65.54ZM1069.27 67.39L1072.32 45A630.8 630.8 0 0 1 1087.71 47.29L1084.1 69.6A608.2 608.2 0 0 0 1069.27 67.39ZM1084.1 69.6L1087.71 47.29A630.8 630.8 0 0 1 1103.04 49.97L1098.88 72.18A608.2 608.2 0 0 0 1084.1 69.6ZM1098.88 72.18L1103.04 49.97A630.8 630.8 0 0 1 1118.3 53.02L1113.6 75.12A608.2 608.2 0 0 0 1098.88 72.18ZM1113.6 75.12L1118.3 53.02A630.8 630.8 0 0 1 1133.48 56.44L1128.23 78.42A608.2 608.2 0 0 0 1113.6 75.12ZM1128.23 78.42L1133.48 56.44A630.8 630.8 0 0 1 1148.57 60.24L1142.78 82.09A608.2 608.2 0 0 0 1128.23 78.42ZM1142.78 82.09L1148.57 60.24A630.8 630.8 0 0 1 1163.56 64.41L1157.23 86.11A608.2 608.2 0 0 0 1142.78 82.09ZM1157.23 86.11L1163.56 64.41A630.8 630.8 0 0 1 1178.44 68.95L1171.58 90.49A608.2 608.2 0 0 0 1157.23 86.11ZM1171.58 90.49L1178.44 68.95A630.8 630.8 0 0 1 1193.21 73.86L1185.82 95.22A608.2 608.2 0 0 0 1171.58 90.49ZM1185.82 95.22L1193.21 73.86A630.8 630.8 0 0 1 1207.85 79.13L1199.94 100.29A608.2 608.2 0 0 0 1185.82 95.22ZM1199.94 100.29L1207.85 79.13A630.8 630.8 0 0 1 1222.36 84.75L1213.93 105.72A608.2 608.2 0 0 0 1199.94 100.29ZM1213.93 105.72L1222.36 84.75A630.8 630.8 0 0 1 1236.72 90.74L1227.78 111.49A608.2 608.2 0 0 0 1213.93 105.72ZM1227.78 111.49L1236.72 90.74A630.8 630.8 0 0 1 1250.94 97.07L1241.48 117.6A608.2 608.2 0 0 0 1227.78 111.49ZM1241.48 117.6L1250.94 97.07A630.8 630.8 0 0 1 1264.99 103.76L1255.03 124.04A608.2 608.2 0 0 0 1241.48 117.6ZM1255.03 124.04L1264.99 103.76A630.8 630.8 0 0 1 1278.87 110.79L1268.41 130.82A608.2 608.2 0 0 0 1255.03 124.04ZM1268.41 130.82L1278.87 110.79A630.8 630.8 0 0 1 1292.57 118.15L1281.63 137.93A608.2 608.2 0 0 0 1268.41 130.82ZM1281.63 137.93L1292.57 118.15A630.8 630.8 0 0 1 1306.09 125.86L1294.66 145.36A608.2 608.2 0 0 0 1281.63 137.93ZM1294.66 145.36L1306.09 125.86A630.8 630.8 0 0 1 1319.42 133.9L1307.51 153.1A608.2 608.2 0 0 0 1294.66 145.36ZM1307.51 153.1L1319.42 133.9A630.8 630.8 0 0 1 1332.54 142.26L1320.16 161.17A608.2 608.2 0 0 0 1307.51 153.1ZM1320.16 161.17L1332.54 142.26A630.8 630.8 0 0 1 1345.45 150.94L1332.61 169.54A608.2 608.2 0 0 0 1320.16 161.17ZM1332.61 169.54L1345.45 150.94A630.8 630.8 0 0 1 1358.15 159.94L1344.85 178.22A608.2 608.2 0 0 0 1332.61 169.54ZM1344.85 178.22L1358.15 159.94A630.8 630.8 0 0 1 1370.61 169.25L1356.87 187.19A608.2 608.2 0 0 0 1344.85 178.22ZM1356.87 187.19L1370.61 169.25A630.8 630.8 0 0 1 1382.85 178.87L1368.67 196.46A608.2 608.2 0 0 0 1356.87 187.19ZM1368.67 196.46L1382.85 178.87A630.8 630.8 0 0 1 1394.84 188.78L1380.23 206.02A608.2 608.2 0 0 0 1368.67 196.46ZM1380.23 206.02L1394.84 188.78A630.8 630.8 0 0 1 1406.59 198.99L1391.56 215.86A608.2 608.2 0 0 0 1380.23 206.02ZM1391.56 215.86L1406.59 198.99A630.8 630.8 0 0 1 1418.08 209.48L1402.63 225.98A608.2 608.2 0 0 0 1391.56 215.86ZM1402.63 225.98L1418.08 209.48A630.8 630.8 0 0 1 1429.31 220.25L1413.46 236.37A608.2 608.2 0 0 0 1402.63 225.98ZM1413.46 236.37L1429.31 220.25A630.8 630.8 0 0 1 1440.27 231.3L1424.03 247.02A608.2 608.2 0 0 0 1413.46 236.37ZM1424.03 247.02L1440.27 231.3A630.8 630.8 0 0 1 1450.95 242.61L1434.33 257.92A608.2 608.2 0 0 0 1424.03 247.02ZM1434.33 257.92L1450.95 242.61A630.8 630.8 0 0 1 1461.35 254.19L1444.36 269.08A608.2 608.2 0 0 0 1434.33 257.92ZM1444.36 269.08L1461.35 254.19A630.8 630.8 0 0 1 1471.46 266.01L1454.1 280.49A608.2 608.2 0 0 0 1444.36 269.08ZM1454.1 280.49L1471.46 266.01A630.8 630.8 0 0 1 1481.28 278.09L1463.57 292.13A608.2 608.2 0 0 0 1454.1 280.49ZM1463.57 292.13L1481.28 278.09A630.8 630.8 0 0 1 1490.8 290.4L1472.75 304A608.2 608.2 0 0 0 1463.57 292.13ZM1472.75 304L1490.8 290.4A630.8 630.8 0 0 1 1500.01 302.94L1481.63 316.09A608.2 608.2 0 0 0 1472.75 304ZM1481.63 316.09L1500.01 302.94A630.8 630.8 0 0 1 1508.9 315.7L1490.21 328.4A608.2 608.2 0 0 0 1481.63 316.09ZM1490.21 328.4L1508.9 315.7A630.8 630.8 0 0 1 1517.48 328.69L1498.48 340.91A608.2 608.2 0 0 0 1490.21 328.4ZM1498.48 340.91L1517.48 328.69A630.8 630.8 0 0 1 1525.74 341.87L1506.44 353.63A608.2 608.2 0 0 0 1498.48 340.91ZM1506.44 353.63L1525.74 341.87A630.8 630.8 0 0 1 1533.67 355.26L1514.09 366.54A608.2 608.2 0 0 0 1506.44 353.63ZM1514.09 366.54L1533.67 355.26A630.8 630.8 0 0 1 1541.27 368.84L1521.41 379.63A608.2 608.2 0 0 0 1514.09 366.54ZM1521.41 379.63L1541.27 368.84A630.8 630.8 0 0 1 1548.53 382.61L1528.41 392.9A608.2 608.2 0 0 0 1521.41 379.63ZM1528.41 392.9L1548.53 382.61A630.8 630.8 0 0 1 1555.45 396.54L1535.08 406.34A608.2 608.2 0 0 0 1528.41 392.9ZM1535.08 406.34L1555.45 396.54A630.8 630.8 0 0 1 1562.02 410.65L1541.42 419.94A608.2 608.2 0 0 0 1535.08 406.34ZM1541.42 419.94L1562.02 410.65A630.8 630.8 0 0 1 1568.24 424.91L1547.42 433.69A608.2 608.2 0 0 0 1541.42 419.94ZM1547.42 433.69L1568.24 424.91A630.8 630.8 0 0 1 1574.11 439.32L1553.07 447.59A608.2 608.2 0 0 0 1547.42 433.69ZM1553.07 447.59L1574.11 439.32A630.8 630.8 0 0 1 1579.62 453.87L1558.39 461.62A608.2 608.2 0 0 0 1553.07 447.59ZM1558.39 461.62L1579.62 453.87A630.8 630.8 0 0 1 1584.77 468.56L1563.35 475.77A608.2 608.2 0 0 0 1558.39 461.62ZM1563.35 475.77L1584.77 468.56A630.8 630.8 0 0 1 1589.56 483.36L1567.97 490.05A608.2 608.2 0 0 0 1563.35 475.77ZM1567.97 490.05L1589.56 483.36A630.8 630.8 0 0 1 1593.98 498.28L1572.23 504.43A608.2 608.2 0 0 0 1567.97 490.05ZM1572.23 504.43L1593.98 498.28A630.8 630.8 0 0 1 1598.03 513.31L1576.14 518.92A608.2 608.2 0 0 0 1572.23 504.43ZM1576.14 518.92L1598.03 513.31A630.8 630.8 0 0 1 1601.71 528.43L1579.68 533.5A608.2 608.2 0 0 0 1576.14 518.92ZM1579.68 533.5L1601.71 528.43A630.8 630.8 0 0 1 1605.01 543.63L1582.87 548.16A608.2 608.2 0 0 0 1579.68 533.5ZM1582.87 548.16L1605.01 543.63A630.8 630.8 0 0 1 1607.94 558.91L1585.69 562.89A608.2 608.2 0 0 0 1582.87 548.16ZM1585.69 562.89L1607.94 558.91A630.8 630.8 0 0 1 1610.49 574.26L1588.15 577.69A608.2 608.2 0 0 0 1585.69 562.89ZM1588.15 577.69L1610.49 574.26A630.8 630.8 0 0 1 1612.66 589.67L1590.25 592.55A608.2 608.2 0 0 0 1588.15 577.69ZM1590.25 592.55L1612.66 589.67A630.8 630.8 0 0 1 1614.46 605.13L1591.98 607.45A608.2 608.2 0 0 0 1590.25 592.55ZM1591.98 607.45L1614.46 605.13A630.8 630.8 0 0 1 1615.86 620.63L1593.33 622.39A608.2 608.2 0 0 0 1591.98 607.45ZM1593.33 622.39L1615.86 620.63A630.8 630.8 0 0 1 1616.89 636.15L1594.32 637.36A608.2 608.2 0 0 0 1593.33 622.39ZM1594.32 637.36L1616.89 636.15A630.8 630.8 0 0 1 1617.53 651.7L1594.94 652.35A608.2 608.2 0 0 0 1594.32 637.36ZM1592.5 727.28L1615 729.41A630.8 630.8 0 0 1 1613.34 744.88L1590.9 742.2A608.2 608.2 0 0 0 1592.5 727.28ZM1590.9 742.2L1613.34 744.88A630.8 630.8 0 0 1 1611.3 760.31L1588.93 757.08A608.2 608.2 0 0 0 1590.9 742.2ZM1588.93 757.08L1611.3 760.31A630.8 630.8 0 0 1 1608.88 775.68L1586.6 771.9A608.2 608.2 0 0 0 1588.93 757.08ZM1586.6 771.9L1608.88 775.68A630.8 630.8 0 0 1 1606.09 790.99L1583.91 786.66A608.2 608.2 0 0 0 1586.6 771.9ZM1583.91 786.66L1606.09 790.99A630.8 630.8 0 0 1 1602.92 806.22L1580.85 801.34A608.2 608.2 0 0 0 1583.91 786.66ZM1580.85 801.34L1602.92 806.22A630.8 630.8 0 0 1 1599.37 821.37L1577.43 815.95A608.2 608.2 0 0 0 1580.85 801.34ZM1577.43 815.95L1599.37 821.37A630.8 630.8 0 0 1 1595.45 836.43L1573.65 830.47A608.2 608.2 0 0 0 1577.43 815.95ZM1573.65 830.47L1595.45 836.43A630.8 630.8 0 0 1 1591.16 851.39L1569.51 844.89A608.2 608.2 0 0 0 1573.65 830.47ZM1569.51 844.89L1591.16 851.39A630.8 630.8 0 0 1 1586.5 866.24L1565.02 859.21A608.2 608.2 0 0 0 1569.51 844.89ZM1565.02 859.21L1586.5 866.24A630.8 630.8 0 0 1 1581.48 880.96L1560.18 873.41A608.2 608.2 0 0 0 1565.02 859.21ZM1560.18 873.41L1581.48 880.96A630.8 630.8 0 0 1 1576.09 895.56L1554.99 887.48A608.2 608.2 0 0 0 1560.18 873.41ZM1554.99 887.48L1576.09 895.56A630.8 630.8 0 0 1 1570.35 910.03L1549.45 901.43A608.2 608.2 0 0 0 1554.99 887.48ZM1549.45 901.43L1570.35 910.03A630.8 630.8 0 0 1 1564.25 924.34L1543.57 915.23A608.2 608.2 0 0 0 1549.45 901.43ZM1543.57 915.23L1564.25 924.34A630.8 630.8 0 0 1 1557.8 938.5L1537.35 928.88A608.2 608.2 0 0 0 1543.57 915.23ZM1537.35 928.88L1557.8 938.5A630.8 630.8 0 0 1 1551.01 952.5L1530.8 942.38A608.2 608.2 0 0 0 1537.35 928.88ZM1530.8 942.38L1551.01 952.5A630.8 630.8 0 0 1 1543.87 966.33L1523.91 955.71A608.2 608.2 0 0 0 1530.8 942.38ZM1523.91 955.71L1543.87 966.33A630.8 630.8 0 0 1 1536.39 979.97L1516.7 968.87A608.2 608.2 0 0 0 1523.91 955.71ZM1516.7 968.87L1536.39 979.97A630.8 630.8 0 0 1 1528.57 993.43L1509.17 981.84A608.2 608.2 0 0 0 1516.7 968.87ZM1509.17 981.84L1528.57 993.43A630.8 630.8 0 0 1 1520.43 1006.69L1501.32 994.63A608.2 608.2 0 0 0 1509.17 981.84ZM1501.32 994.63L1520.43 1006.69A630.8 630.8 0 0 1 1511.96 1019.74L1493.16 1007.21A608.2 608.2 0 0 0 1501.32 994.63ZM1493.16 1007.21L1511.96 1019.74A630.8 630.8 0 0 1 1503.18 1032.59L1484.68 1019.6A608.2 608.2 0 0 0 1493.16 1007.21ZM1484.68 1019.6L1503.18 1032.59A630.8 630.8 0 0 1 1494.08 1045.21L1475.91 1031.77A608.2 608.2 0 0 0 1484.68 1019.6ZM1475.91 1031.77L1494.08 1045.21A630.8 630.8 0 0 1 1484.67 1057.6L1466.84 1043.71A608.2 608.2 0 0 0 1475.91 1031.77ZM1466.84 1043.71L1484.67 1057.6A630.8 630.8 0 0 1 1474.96 1069.76L1457.47 1055.44A608.2 608.2 0 0 0 1466.84 1043.71ZM1457.47 1055.44L1474.96 1069.76A630.8 630.8 0 0 1 1464.95 1081.67L1447.82 1066.92A608.2 608.2 0 0 0 1457.47 1055.44ZM1447.82 1066.92L1464.95 1081.67A630.8 630.8 0 0 1 1454.65 1093.34L1437.89 1078.17A608.2 608.2 0 0 0 1447.82 1066.92ZM1437.89 1078.17L1454.65 1093.34A630.8 630.8 0 0 1 1444.06 1104.74L1427.69 1089.17A608.2 608.2 0 0 0 1437.89 1078.17ZM1427.69 1089.17L1444.06 1104.74A630.8 630.8 0 0 1 1433.2 1115.88L1417.21 1099.91A608.2 608.2 0 0 0 1427.69 1089.17ZM1417.21 1099.91L1433.2 1115.88A630.8 630.8 0 0 1 1422.07 1126.76L1406.48 1110.39A608.2 608.2 0 0 0 1417.21 1099.91ZM1406.48 1110.39L1422.07 1126.76A630.8 630.8 0 0 1 1410.67 1137.35L1395.49 1120.6A608.2 608.2 0 0 0 1406.48 1110.39ZM1395.49 1120.6L1410.67 1137.35A630.8 630.8 0 0 1 1399.01 1147.66L1384.25 1130.54A608.2 608.2 0 0 0 1395.49 1120.6ZM1384.25 1130.54L1399.01 1147.66A630.8 630.8 0 0 1 1387.1 1157.67L1372.77 1140.2A608.2 608.2 0 0 0 1384.25 1130.54ZM1372.77 1140.2L1387.1 1157.67A630.8 630.8 0 0 1 1374.95 1167.39L1361.05 1149.57A608.2 608.2 0 0 0 1372.77 1140.2ZM1361.05 1149.57L1374.95 1167.39A630.8 630.8 0 0 1 1362.57 1176.81L1349.11 1158.65A608.2 608.2 0 0 0 1361.05 1149.57ZM1349.11 1158.65L1362.57 1176.81A630.8 630.8 0 0 1 1349.95 1185.92L1336.95 1167.44A608.2 608.2 0 0 0 1349.11 1158.65ZM1336.95 1167.44L1349.95 1185.92A630.8 630.8 0 0 1 1337.12 1194.72L1324.57 1175.92A608.2 608.2 0 0 0 1336.95 1167.44ZM1324.57 1175.92L1337.12 1194.72A630.8 630.8 0 0 1 1324.07 1203.19L1311.99 1184.09A608.2 608.2 0 0 0 1324.57 1175.92ZM1311.99 1184.09L1324.07 1203.19A630.8 630.8 0 0 1 1310.81 1211.34L1299.21 1191.95A608.2 608.2 0 0 0 1311.99 1184.09ZM1299.21 1191.95L1310.81 1211.34A630.8 630.8 0 0 1 1297.36 1219.17L1286.24 1199.49A608.2 608.2 0 0 0 1299.21 1191.95ZM1286.24 1199.49L1297.36 1219.17A630.8 630.8 0 0 1 1283.72 1226.66L1273.09 1206.71A608.2 608.2 0 0 0 1286.24 1199.49ZM1273.09 1206.71L1283.72 1226.66A630.8 630.8 0 0 1 1269.9 1233.81L1259.76 1213.61A608.2 608.2 0 0 0 1273.09 1206.71ZM1259.76 1213.61L1269.9 1233.81A630.8 630.8 0 0 1 1255.91 1240.61L1246.27 1220.17A608.2 608.2 0 0 0 1259.76 1213.61ZM1246.27 1220.17L1255.91 1240.61A630.8 630.8 0 0 1 1241.75 1247.07L1232.62 1226.4A608.2 608.2 0 0 0 1246.27 1220.17ZM1232.62 1226.4L1241.75 1247.07A630.8 630.8 0 0 1 1227.44 1253.18L1218.82 1232.29A608.2 608.2 0 0 0 1232.62 1226.4ZM1218.82 1232.29L1227.44 1253.18A630.8 630.8 0 0 1 1212.98 1258.93L1204.89 1237.83A608.2 608.2 0 0 0 1218.82 1232.29ZM1204.89 1237.83L1212.98 1258.93A630.8 630.8 0 0 1 1198.39 1264.33L1190.81 1243.03A608.2 608.2 0 0 0 1204.89 1237.83ZM1190.81 1243.03L1198.39 1264.33A630.8 630.8 0 0 1 1183.66 1269.36L1176.62 1247.89A608.2 608.2 0 0 0 1190.81 1243.03ZM1176.62 1247.89L1183.66 1269.36A630.8 630.8 0 0 1 1168.82 1274.03L1162.3 1252.39A608.2 608.2 0 0 0 1176.62 1247.89ZM1162.3 1252.39L1168.82 1274.03A630.8 630.8 0 0 1 1153.86 1278.33L1147.89 1256.53A608.2 608.2 0 0 0 1162.3 1252.39ZM1147.89 1256.53L1153.86 1278.33A630.8 630.8 0 0 1 1138.81 1282.26L1133.37 1260.32A608.2 608.2 0 0 0 1147.89 1256.53ZM1089.32 1269.53L1093.12 1291.81A630.8 630.8 0 0 1 1077.75 1294.24L1074.5 1271.87A608.2 608.2 0 0 0 1089.32 1269.53ZM1074.5 1271.87L1077.75 1294.24A630.8 630.8 0 0 1 1062.33 1296.29L1059.63 1273.85A608.2 608.2 0 0 0 1074.5 1271.87ZM1059.63 1273.85L1062.33 1296.29A630.8 630.8 0 0 1 1046.86 1297.95L1044.71 1275.46A608.2 608.2 0 0 0 1059.63 1273.85ZM969.79 1277.96L969.15 1300.55A630.8 630.8 0 0 1 953.6 1299.92L954.8 1277.35A608.2 608.2 0 0 0 969.79 1277.96ZM954.8 1277.35L953.6 1299.92A630.8 630.8 0 0 1 938.07 1298.9L939.82 1276.37A608.2 608.2 0 0 0 954.8 1277.35ZM939.82 1276.37L938.07 1298.9A630.8 630.8 0 0 1 922.57 1297.5L924.88 1275.02A608.2 608.2 0 0 0 939.82 1276.37ZM924.88 1275.02L922.57 1297.5A630.8 630.8 0 0 1 907.12 1295.72L909.98 1273.3A608.2 608.2 0 0 0 924.88 1275.02ZM909.98 1273.3L907.12 1295.72A630.8 630.8 0 0 1 891.71 1293.56L895.12 1271.22A608.2 608.2 0 0 0 909.98 1273.3ZM895.12 1271.22L891.71 1293.56A630.8 630.8 0 0 1 876.35 1291.02L880.32 1268.77A608.2 608.2 0 0 0 895.12 1271.22ZM880.32 1268.77L876.35 1291.02A630.8 630.8 0 0 1 861.07 1288.1L865.58 1265.96A608.2 608.2 0 0 0 880.32 1268.77ZM865.58 1265.96L861.07 1288.1A630.8 630.8 0 0 1 845.86 1284.81L850.92 1262.78A608.2 608.2 0 0 0 865.58 1265.96ZM850.92 1262.78L845.86 1284.81A630.8 630.8 0 0 1 830.74 1281.14L836.34 1259.24A608.2 608.2 0 0 0 850.92 1262.78ZM836.34 1259.24L830.74 1281.14A630.8 630.8 0 0 1 815.71 1277.1L821.85 1255.35A608.2 608.2 0 0 0 836.34 1259.24ZM821.85 1255.35L815.71 1277.1A630.8 630.8 0 0 1 800.79 1272.69L807.46 1251.1A608.2 608.2 0 0 0 821.85 1255.35ZM807.46 1251.1L800.79 1272.69A630.8 630.8 0 0 1 785.98 1267.91L793.18 1246.49A608.2 608.2 0 0 0 807.46 1251.1ZM779.02 1241.54L771.29 1262.77A630.8 630.8 0 0 1 756.74 1257.27L764.99 1236.23A608.2 608.2 0 0 0 779.02 1241.54ZM764.99 1236.23L756.74 1257.27A630.8 630.8 0 0 1 742.32 1251.41L751.09 1230.58A608.2 608.2 0 0 0 764.99 1236.23ZM751.09 1230.58L742.32 1251.41A630.8 630.8 0 0 1 728.06 1245.2L737.33 1224.59A608.2 608.2 0 0 0 751.09 1230.58ZM737.33 1224.59L728.06 1245.2A630.8 630.8 0 0 1 713.95 1238.64L723.73 1218.27A608.2 608.2 0 0 0 737.33 1224.59ZM723.73 1218.27L713.95 1238.64A630.8 630.8 0 0 1 700 1231.73L710.29 1211.61A608.2 608.2 0 0 0 723.73 1218.27ZM710.29 1211.61L700 1231.73A630.8 630.8 0 0 1 686.24 1224.48L697.01 1204.62A608.2 608.2 0 0 0 710.29 1211.61ZM697.01 1204.62L686.24 1224.48A630.8 630.8 0 0 1 672.65 1216.89L683.91 1197.3A608.2 608.2 0 0 0 697.01 1204.62ZM683.91 1197.3L672.65 1216.89A630.8 630.8 0 0 1 659.26 1208.97L671 1189.66A608.2 608.2 0 0 0 683.91 1197.3ZM671 1189.66L659.26 1208.97A630.8 630.8 0 0 1 646.06 1200.73L658.28 1181.71A608.2 608.2 0 0 0 671 1189.66ZM658.28 1181.71L646.06 1200.73A630.8 630.8 0 0 1 633.07 1192.15L645.75 1173.45A608.2 608.2 0 0 0 658.28 1181.71ZM645.75 1173.45L633.07 1192.15A630.8 630.8 0 0 1 620.3 1183.27L633.44 1164.88A608.2 608.2 0 0 0 645.75 1173.45ZM633.44 1164.88L620.3 1183.27A630.8 630.8 0 0 1 607.75 1174.06L621.34 1156.01A608.2 608.2 0 0 0 633.44 1164.88ZM621.34 1156.01L607.75 1174.06A630.8 630.8 0 0 1 595.44 1164.56L609.47 1146.84A608.2 608.2 0 0 0 621.34 1156.01ZM609.47 1146.84L595.44 1164.56A630.8 630.8 0 0 1 583.36 1154.75L597.82 1137.38A608.2 608.2 0 0 0 609.47 1146.84ZM597.82 1137.38L583.36 1154.75A630.8 630.8 0 0 1 571.52 1144.64L586.41 1127.64A608.2 608.2 0 0 0 597.82 1137.38ZM586.41 1127.64L571.52 1144.64A630.8 630.8 0 0 1 559.94 1134.25L575.24 1117.62A608.2 608.2 0 0 0 586.41 1127.64ZM575.24 1117.62L559.94 1134.25A630.8 630.8 0 0 1 548.62 1123.58L564.33 1107.33A608.2 608.2 0 0 0 575.24 1117.62ZM564.33 1107.33L548.62 1123.58A630.8 630.8 0 0 1 537.57 1112.63L553.67 1096.77A608.2 608.2 0 0 0 564.33 1107.33ZM553.67 1096.77L537.57 1112.63A630.8 630.8 0 0 1 526.78 1101.41L543.27 1085.95A608.2 608.2 0 0 0 553.67 1096.77ZM543.27 1085.95L526.78 1101.41A630.8 630.8 0 0 1 516.28 1089.92L533.15 1074.88A608.2 608.2 0 0 0 543.27 1085.95ZM513.73 1052L496.15 1066.2A630.8 630.8 0 0 1 486.52 1053.97L504.45 1040.21A608.2 608.2 0 0 0 513.73 1052ZM504.45 1040.21L486.52 1053.97A630.8 630.8 0 0 1 477.21 1041.51L495.47 1028.2A608.2 608.2 0 0 0 504.45 1040.21ZM495.47 1028.2L477.21 1041.51A630.8 630.8 0 0 1 468.2 1028.82L486.78 1015.96A608.2 608.2 0 0 0 495.47 1028.2ZM486.78 1015.96L468.2 1028.82A630.8 630.8 0 0 1 459.5 1015.91L478.4 1003.52A608.2 608.2 0 0 0 486.78 1015.96ZM478.4 1003.52L459.5 1015.91A630.8 630.8 0 0 1 451.13 1002.8L470.33 990.87A608.2 608.2 0 0 0 478.4 1003.52ZM470.33 990.87L451.13 1002.8A630.8 630.8 0 0 1 443.09 989.48L462.57 978.03A608.2 608.2 0 0 0 470.33 990.87ZM462.57 978.03L443.09 989.48A630.8 630.8 0 0 1 435.37 975.97L455.14 965A608.2 608.2 0 0 0 462.57 978.03ZM455.14 965L435.37 975.97A630.8 630.8 0 0 1 427.99 962.27L448.02 951.79A608.2 608.2 0 0 0 455.14 965ZM448.02 951.79L427.99 962.27A630.8 630.8 0 0 1 420.95 948.39L441.23 938.41A608.2 608.2 0 0 0 448.02 951.79ZM434.78 924.87L414.26 934.34A630.8 630.8 0 0 1 407.91 920.13L428.66 911.17A608.2 608.2 0 0 0 434.78 924.87ZM428.66 911.17L407.91 920.13A630.8 630.8 0 0 1 401.92 905.77L422.88 897.33A608.2 608.2 0 0 0 428.66 911.17ZM422.88 897.33L401.92 905.77A630.8 630.8 0 0 1 396.28 891.27L417.45 883.34A608.2 608.2 0 0 0 422.88 897.33ZM417.45 883.34L396.28 891.27A630.8 630.8 0 0 1 391 876.63L412.36 869.23A608.2 608.2 0 0 0 417.45 883.34ZM412.36 869.23L391 876.63A630.8 630.8 0 0 1 386.09 861.87L407.62 854.99A608.2 608.2 0 0 0 412.36 869.23ZM407.62 854.99L386.09 861.87A630.8 630.8 0 0 1 381.54 846.99L403.23 840.65A608.2 608.2 0 0 0 407.62 854.99ZM403.23 840.65L381.54 846.99A630.8 630.8 0 0 1 377.36 832L399.2 826.2A608.2 608.2 0 0 0 403.23 840.65ZM399.2 826.2L377.36 832A630.8 630.8 0 0 1 373.55 816.91L395.53 811.65A608.2 608.2 0 0 0 399.2 826.2ZM395.53 811.65L373.55 816.91A630.8 630.8 0 0 1 370.11 801.74L392.21 797.02A608.2 608.2 0 0 0 395.53 811.65ZM392.21 797.02L370.11 801.74A630.8 630.8 0 0 1 367.05 786.48L389.26 782.31A608.2 608.2 0 0 0 392.21 797.02ZM389.26 782.31L367.05 786.48A630.8 630.8 0 0 1 364.36 771.15L386.67 767.53A608.2 608.2 0 0 0 389.26 782.31ZM386.67 767.53L364.36 771.15A630.8 630.8 0 0 1 362.06 755.77L384.45 752.69A608.2 608.2 0 0 0 386.67 767.53ZM379.2 647.93L356.62 647.11A630.8 630.8 0 0 1 357.37 631.57L379.93 632.95A608.2 608.2 0 0 0 379.2 647.93ZM379.93 632.95L357.37 631.57A630.8 630.8 0 0 1 358.51 616.05L381.03 617.98A608.2 608.2 0 0 0 379.93 632.95ZM381.03 617.98L358.51 616.05A630.8 630.8 0 0 1 360.03 600.56L382.5 603.05A608.2 608.2 0 0 0 381.03 617.98ZM382.5 603.05L360.03 600.56A630.8 630.8 0 0 1 361.94 585.12L384.33 588.16A608.2 608.2 0 0 0 382.5 603.05ZM384.33 588.16L361.94 585.12A630.8 630.8 0 0 1 364.22 569.73L386.53 573.32A608.2 608.2 0 0 0 384.33 588.16ZM386.53 573.32L364.22 569.73A630.8 630.8 0 0 1 366.88 554.4L389.1 558.54A608.2 608.2 0 0 0 386.53 573.32ZM389.1 558.54L366.88 554.4A630.8 630.8 0 0 1 369.92 539.14L392.03 543.83A608.2 608.2 0 0 0 389.1 558.54ZM392.03 543.83L369.92 539.14A630.8 630.8 0 0 1 373.34 523.96L395.33 529.19A608.2 608.2 0 0 0 392.03 543.83ZM395.33 529.19L373.34 523.96A630.8 630.8 0 0 1 377.13 508.86L398.98 514.64A608.2 608.2 0 0 0 395.33 529.19ZM398.98 514.64L377.13 508.86A630.8 630.8 0 0 1 381.29 493.87L402.99 500.18A608.2 608.2 0 0 0 398.98 514.64ZM402.99 500.18L381.29 493.87A630.8 630.8 0 0 1 385.82 478.98L407.36 485.83A608.2 608.2 0 0 0 402.99 500.18ZM407.36 485.83L385.82 478.98A630.8 630.8 0 0 1 390.71 464.21L412.08 471.59A608.2 608.2 0 0 0 407.36 485.83ZM412.08 471.59L390.71 464.21A630.8 630.8 0 0 1 395.97 449.57L417.14 457.46A608.2 608.2 0 0 0 412.08 471.59ZM417.14 457.46L395.97 449.57A630.8 630.8 0 0 1 401.59 435.06L422.56 443.47A608.2 608.2 0 0 0 417.14 457.46ZM422.56 443.47L401.59 435.06A630.8 630.8 0 0 1 407.56 420.69L428.32 429.62A608.2 608.2 0 0 0 422.56 443.47ZM428.32 429.62L407.56 420.69A630.8 630.8 0 0 1 413.88 406.47L434.42 415.91A608.2 608.2 0 0 0 428.32 429.62ZM434.42 415.91L413.88 406.47A630.8 630.8 0 0 1 420.56 392.41L440.85 402.36A608.2 608.2 0 0 0 434.42 415.91ZM440.85 402.36L420.56 392.41A630.8 630.8 0 0 1 427.58 378.53L447.62 388.97A608.2 608.2 0 0 0 440.85 402.36ZM447.62 388.97L427.58 378.53A630.8 630.8 0 0 1 434.94 364.82L454.72 375.75A608.2 608.2 0 0 0 447.62 388.97ZM454.72 375.75L434.94 364.82A630.8 630.8 0 0 1 442.63 351.29L462.14 362.71A608.2 608.2 0 0 0 454.72 375.75ZM462.14 362.71L442.63 351.29A630.8 630.8 0 0 1 450.66 337.96L469.88 349.86A608.2 608.2 0 0 0 462.14 362.71ZM469.88 349.86L450.66 337.96A630.8 630.8 0 0 1 459.01 324.83L477.93 337.2A608.2 608.2 0 0 0 469.88 349.86ZM477.93 337.2L459.01 324.83A630.8 630.8 0 0 1 467.69 311.92L486.29 324.74A608.2 608.2 0 0 0 477.93 337.2ZM486.29 324.74L467.69 311.92A630.8 630.8 0 0 1 476.68 299.22L494.96 312.5A608.2 608.2 0 0 0 486.29 324.74ZM494.96 312.5L476.68 299.22A630.8 630.8 0 0 1 485.98 286.74L503.93 300.47A608.2 608.2 0 0 0 494.96 312.5ZM503.93 300.47L485.98 286.74A630.8 630.8 0 0 1 495.59 274.5L513.19 288.67A608.2 608.2 0 0 0 503.93 300.47ZM513.19 288.67L495.59 274.5A630.8 630.8 0 0 1 505.49 262.5L522.74 277.1A608.2 608.2 0 0 0 513.19 288.67ZM522.74 277.1L505.49 262.5A630.8 630.8 0 0 1 515.69 250.75L532.57 265.77A608.2 608.2 0 0 0 522.74 277.1ZM532.57 265.77L515.69 250.75A630.8 630.8 0 0 1 526.17 239.25L542.68 254.68A608.2 608.2 0 0 0 532.57 265.77ZM542.68 254.68L526.17 239.25A630.8 630.8 0 0 1 536.94 228.01L553.06 243.85A608.2 608.2 0 0 0 542.68 254.68ZM553.06 243.85L536.94 228.01A630.8 630.8 0 0 1 547.98 217.05L563.71 233.27A608.2 608.2 0 0 0 553.06 243.85ZM563.71 233.27L547.98 217.05A630.8 630.8 0 0 1 559.28 206.35L574.61 222.97A608.2 608.2 0 0 0 563.71 233.27ZM574.61 222.97L559.28 206.35A630.8 630.8 0 0 1 570.85 195.94L585.76 212.93A608.2 608.2 0 0 0 574.61 222.97ZM585.76 212.93L570.85 195.94A630.8 630.8 0 0 1 582.67 185.82L597.16 203.17A608.2 608.2 0 0 0 585.76 212.93ZM597.16 203.17L582.67 185.82A630.8 630.8 0 0 1 594.74 176L608.79 193.7A608.2 608.2 0 0 0 597.16 203.17ZM608.79 193.7L594.74 176A630.8 630.8 0 0 1 607.04 166.47L620.65 184.51A608.2 608.2 0 0 0 608.79 193.7ZM620.65 184.51L607.04 166.47A630.8 630.8 0 0 1 619.58 157.25L632.74 175.62A608.2 608.2 0 0 0 620.65 184.51ZM632.74 175.62L619.58 157.25A630.8 630.8 0 0 1 632.33 148.35L645.04 167.04A608.2 608.2 0 0 0 632.74 175.62ZM645.04 167.04L632.33 148.35A630.8 630.8 0 0 1 645.31 139.76L657.55 158.76A608.2 608.2 0 0 0 645.04 167.04ZM709.52 128.79L699.21 108.68A630.8 630.8 0 0 1 713.14 101.75L722.95 122.11A608.2 608.2 0 0 0 709.52 128.79ZM722.95 122.11L713.14 101.75A630.8 630.8 0 0 1 727.24 95.17L736.55 115.76A608.2 608.2 0 0 0 722.95 122.11Z"/>
<path fill="#acd580" d="M1594.94 652.35L1617.53 651.7A630.8 630.8 0 0 1 1617.79 667.26L1595.19 667.36A608.2 608.2 0 0 0 1594.94 652.35ZM1595.19 667.36L1617.79 667.26A630.8 630.8 0 0 1 1617.67 682.82L1595.07 682.36A608.2 608.2 0 0 0 1595.19 667.36ZM1595.07 682.36L1617.67 682.82A630.8 630.8 0 0 1 1617.16 698.37L1594.58 697.35A608.2 608.2 0 0 0 1595.07 682.36ZM1594.58 697.35L1617.16 698.37A630.8 630.8 0 0 1 1616.27 713.9L1593.73 712.33A608.2 608.2 0 0 0 1594.58 697.35ZM1593.73 712.33L1616.27 713.9A630.8 630.8 0 0 1 1615 729.41L1592.5 727.28A608.2 608.2 0 0 0 1593.73 712.33ZM1133.37 1260.32L1138.81 1282.26A630.8 630.8 0 0 1 1123.66 1285.82L1118.76 1263.76A608.2 608.2 0 0 0 1133.37 1260.32ZM1118.76 1263.76L1123.66 1285.82A630.8 630.8 0 0 1 1108.43 1289L1104.08 1266.82A608.2 608.2 0 0 0 1118.76 1263.76ZM1104.08 1266.82L1108.43 1289A630.8 630.8 0 0 1 1093.12 1291.81L1089.32 1269.53A608.2 608.2 0 0 0 1104.08 1266.82ZM1044.71 1275.46L1046.86 1297.95A630.8 630.8 0 0 1 1031.35 1299.24L1029.76 1276.69A608.2 608.2 0 0 0 1044.71 1275.46ZM1029.76 1276.69L1031.35 1299.24A630.8 630.8 0 0 1 1015.82 1300.14L1014.78 1277.57A608.2 608.2 0 0 0 1029.76 1276.69ZM1014.78 1277.57L1015.82 1300.14A630.8 630.8 0 0 1 1000.26 1300.66L999.79 1278.07A608.2 608.2 0 0 0 1014.78 1277.57ZM999.79 1278.07L1000.26 1300.66A630.8 630.8 0 0 1 984.7 1300.8L984.79 1278.2A608.2 608.2 0 0 0 999.79 1278.07ZM984.79 1278.2L984.7 1300.8A630.8 630.8 0 0 1 969.15 1300.55L969.79 1277.96A608.2 608.2 0 0 0 984.79 1278.2ZM384.45 752.69L362.06 755.77A630.8 630.8 0 0 1 360.13 740.32L382.59 737.8A608.2 608.2 0 0 0 384.45 752.69ZM382.59 737.8L360.13 740.32A630.8 630.8 0 0 1 358.59 724.84L381.1 722.88A608.2 608.2 0 0 0 382.59 737.8ZM381.1 722.88L358.59 724.84A630.8 630.8 0 0 1 357.43 709.32L379.98 707.91A608.2 608.2 0 0 0 381.1 722.88ZM379.98 707.91L357.43 709.32A630.8 630.8 0 0 1 356.65 693.78L379.23 692.93A608.2 608.2 0 0 0 379.98 707.91ZM379.23 692.93L356.65 693.78A630.8 630.8 0 0 1 356.25 678.23L378.85 677.93A608.2 608.2 0 0 0 379.23 692.93ZM378.85 677.93L356.25 678.23A630.8 630.8 0 0 1 356.24 662.67L378.84 662.93A608.2 608.2 0 0 0 378.85 677.93ZM378.84 662.93L356.24 662.67A630.8 630.8 0 0 1 356.62 647.11L379.2 647.93A608.2 608.2 0 0 0 378.84 662.93ZM657.55 158.76L645.31 139.76A630.8 630.8 0 0 1 658.49 131.49L670.26 150.78A608.2 608.2 0 0 0 657.55 158.76ZM670.26 150.78L658.49 131.49A630.8 630.8 0 0 1 671.88 123.55L683.17 143.13A608.2 608.2 0 0 0 670.26 150.78ZM683.17 143.13L671.88 123.55A630.8 630.8 0 0 1 685.45 115.95L696.25 135.8A608.2 608.2 0 0 0 683.17 143.13ZM696.25 135.8L685.45 115.95A630.8 630.8 0 0 1 699.21 108.68L709.52 128.79A608.2 608.2 0 0 0 696.25 135.8ZM736.55 115.76L727.24 95.17A630.8 630.8 0 0 1 741.5 88.93L750.29 109.75A608.2 608.2 0 0 0 736.55 115.76ZM750.29 109.75L741.5 88.93A630.8 630.8 0 0 1 755.91 83.06L764.19 104.08A608.2 608.2 0 0 0 750.29 109.75ZM764.19 104.08L755.91 83.06A630.8 630.8 0 0 1 770.45 77.53L778.21 98.76A608.2 608.2 0 0 0 764.19 104.08ZM778.21 98.76L770.45 77.53A630.8 630.8 0 0 1 785.13 72.37L792.37 93.78A608.2 608.2 0 0 0 778.21 98.76ZM792.37 93.78L785.13 72.37A630.8 630.8 0 0 1 799.94 67.58L806.64 89.16A608.2 608.2 0 0 0 792.37 93.78ZM806.64 89.16L799.94 67.58A630.8 630.8 0 0 1 814.85 63.14L821.02 84.89A608.2 608.2 0 0 0 806.64 89.16ZM821.02 84.89L814.85 63.14A630.8 630.8 0 0 1 829.87 59.08L835.5 80.97A608.2 608.2 0 0 0 821.02 84.89Z"/>
<path fill="#e6008c" d="M793.18 1246.49L785.98 1267.91A630.8 630.8 0 0 1 771.29 1262.77L779.02 1241.54A608.2 608.2 0 0 0 793.18 1246.49ZM533.15 1074.88L516.28 1089.92A630.8 630.8 0 0 1 506.07 1078.18L523.3 1063.56A608.2 608.2 0 0 0 533.15 1074.88ZM523.3 1063.56L506.07 1078.18A630.8 630.8 0 0 1 496.15 1066.2L513.73 1052A608.2 608.2 0 0 0 523.3 1063.56ZM441.23 938.41L420.95 948.39A630.8 630.8 0 0 1 414.26 934.34L434.78 924.87A608.2 608.2 0 0 0 441.23 938.41Z"/>
<path fill="#946420" d="M979.19 37.05L978.92 15.05A655 655 0 0 1 995.08 15.05L994.81 37.05A633 633 0 0 0 979.19 37.05ZM994.81 37.05L995.08 15.05A655 655 0 0 1 1011.23 15.45L1010.42 37.43A633 633 0 0 0 994.81 37.05ZM1041.59 39.36L1043.48 17.44A655 655 0 0 1 1059.56 19.03L1057.12 40.9A633 633 0 0 0 1041.59 39.36ZM1057.12 40.9L1059.56 19.03A655 655 0 0 1 1075.6 21.02L1072.62 42.82A633 633 0 0 0 1057.12 40.9ZM1088.06 45.12L1091.58 23.4A655 655 0 0 1 1107.49 26.18L1103.45 47.8A633 633 0 0 0 1088.06 45.12ZM1103.45 47.8L1107.49 26.18A655 655 0 0 1 1123.34 29.35L1118.76 50.86A633 633 0 0 0 1103.45 47.8ZM1118.76 50.86L1123.34 29.35A655 655 0 0 1 1139.1 32.9L1133.99 54.3A633 633 0 0 0 1118.76 50.86ZM1133.99 54.3L1139.1 32.9A655 655 0 0 1 1154.77 36.85L1149.13 58.12A633 633 0 0 0 1133.99 54.3ZM1149.13 58.12L1154.77 36.85A655 655 0 0 1 1170.33 41.18L1164.18 62.3A633 633 0 0 0 1149.13 58.12ZM1164.18 62.3L1170.33 41.18A655 655 0 0 1 1185.79 45.89L1179.11 66.86A633 633 0 0 0 1164.18 62.3ZM1179.11 66.86L1185.79 45.89A655 655 0 0 1 1201.12 50.99L1193.93 71.78A633 633 0 0 0 1179.11 66.86ZM1193.93 71.78L1201.12 50.99A655 655 0 0 1 1216.32 56.46L1208.62 77.06A633 633 0 0 0 1193.93 71.78ZM1208.62 77.06L1216.32 56.46A655 655 0 0 1 1231.39 62.3L1223.18 82.71A633 633 0 0 0 1208.62 77.06ZM1223.18 82.71L1231.39 62.3A655 655 0 0 1 1246.3 68.51L1237.59 88.72A633 633 0 0 0 1223.18 82.71ZM1237.59 88.72L1246.3 68.51A655 655 0 0 1 1261.06 75.09L1251.86 95.07A633 633 0 0 0 1237.59 88.72ZM1279.89 108.84L1290.07 89.33A655 655 0 0 1 1304.3 96.98L1293.64 116.23A633 633 0 0 0 1279.89 108.84ZM1293.64 116.23L1304.3 96.98A655 655 0 0 1 1318.33 104.98L1307.21 123.96A633 633 0 0 0 1293.64 116.23ZM1307.21 123.96L1318.33 104.98A655 655 0 0 1 1332.17 113.33L1320.58 132.03A633 633 0 0 0 1307.21 123.96ZM1320.58 132.03L1332.17 113.33A655 655 0 0 1 1345.8 122.01L1333.75 140.42A633 633 0 0 0 1320.58 132.03ZM1346.7 149.13L1359.2 131.03A655 655 0 0 1 1372.38 140.37L1359.44 158.16A633 633 0 0 0 1346.7 149.13ZM1384.23 177.15L1398.04 160.02A655 655 0 0 1 1410.49 170.32L1396.27 187.1A633 633 0 0 0 1384.23 177.15ZM1396.27 187.1L1410.49 170.32A655 655 0 0 1 1422.69 180.92L1408.05 197.34A633 633 0 0 0 1396.27 187.1ZM1408.05 197.34L1422.69 180.92A655 655 0 0 1 1434.62 191.81L1419.58 207.87A633 633 0 0 0 1408.05 197.34ZM1419.58 207.87L1434.62 191.81A655 655 0 0 1 1446.28 203L1430.85 218.68A633 633 0 0 0 1419.58 207.87ZM1441.85 229.77L1457.66 214.47A655 655 0 0 1 1468.75 226.22L1452.57 241.12A633 633 0 0 0 1441.85 229.77ZM1452.57 241.12L1468.75 226.22A655 655 0 0 1 1479.55 238.23L1463 252.74A633 633 0 0 0 1452.57 241.12ZM1473.15 264.6L1490.05 250.51A655 655 0 0 1 1500.24 263.05L1483 276.72A633 633 0 0 0 1473.15 264.6ZM1492.55 289.07L1510.12 275.83A655 655 0 0 1 1519.69 288.86L1501.8 301.66A633 633 0 0 0 1492.55 289.07ZM1510.72 314.47L1528.93 302.11A655 655 0 0 1 1537.84 315.59L1519.33 327.5A633 633 0 0 0 1510.72 314.47ZM1519.33 327.5L1537.84 315.59A655 655 0 0 1 1546.41 329.29L1527.62 340.73A633 633 0 0 0 1519.33 327.5ZM1535.58 354.17L1554.64 343.19A655 655 0 0 1 1562.53 357.29L1543.2 367.79A633 633 0 0 0 1535.58 354.17ZM1543.2 367.79L1562.53 357.29A655 655 0 0 1 1570.07 371.58L1550.49 381.6A633 633 0 0 0 1543.2 367.79ZM1550.49 381.6L1570.07 371.58A655 655 0 0 1 1577.25 386.05L1557.43 395.59A633 633 0 0 0 1550.49 381.6ZM1557.43 395.59L1577.25 386.05A655 655 0 0 1 1584.08 400.7L1564.02 409.74A633 633 0 0 0 1557.43 395.59ZM1564.02 409.74L1584.08 400.7A655 655 0 0 1 1590.54 415.51L1570.27 424.06A633 633 0 0 0 1564.02 409.74ZM1576.16 438.52L1596.63 430.47A655 655 0 0 1 1602.36 445.58L1581.69 453.12A633 633 0 0 0 1576.16 438.52ZM1586.86 467.85L1607.7 460.83A655 655 0 0 1 1612.67 476.2L1591.66 482.71A633 633 0 0 0 1586.86 467.85ZM1591.66 482.71L1612.67 476.2A655 655 0 0 1 1617.26 491.69L1596.09 497.68A633 633 0 0 0 1591.66 482.71ZM1596.09 497.68L1617.26 491.69A655 655 0 0 1 1621.47 507.3L1600.16 512.76A633 633 0 0 0 1596.09 497.68ZM1600.16 512.76L1621.47 507.3A655 655 0 0 1 1625.29 522.99L1603.85 527.93A633 633 0 0 0 1600.16 512.76ZM1603.85 527.93L1625.29 522.99A655 655 0 0 1 1628.72 538.78L1607.17 543.19A633 633 0 0 0 1603.85 527.93ZM1607.17 543.19L1628.72 538.78A655 655 0 0 1 1631.76 554.65L1610.11 558.53A633 633 0 0 0 1607.17 543.19ZM1610.11 558.53L1631.76 554.65A655 655 0 0 1 1634.41 570.59L1612.67 573.93A633 633 0 0 0 1610.11 558.53ZM1612.67 573.93L1634.41 570.59A655 655 0 0 1 1636.67 586.59L1614.85 589.39A633 633 0 0 0 1612.67 573.93ZM1614.85 589.39L1636.67 586.59A655 655 0 0 1 1638.53 602.64L1616.64 604.9A633 633 0 0 0 1614.85 589.39ZM1616.64 604.9L1638.53 602.64A655 655 0 0 1 1639.99 618.73L1618.06 620.45A633 633 0 0 0 1616.64 604.9ZM1619.09 636.03L1641.06 634.85A655 655 0 0 1 1641.72 651L1619.73 651.64A633 633 0 0 0 1619.09 636.03ZM1619.99 667.25L1641.99 667.15A655 655 0 0 1 1641.86 683.31L1619.87 682.86A633 633 0 0 0 1619.99 667.25ZM1615.52 745.15L1637.37 747.76A655 655 0 0 1 1635.25 763.78L1613.48 760.63A633 633 0 0 0 1615.52 745.15ZM1613.48 760.63L1635.25 763.78A655 655 0 0 1 1632.74 779.74L1611.05 776.05A633 633 0 0 0 1613.48 760.63ZM1601.5 821.9L1622.86 827.18A655 655 0 0 1 1618.79 842.82L1597.57 837.01A633 633 0 0 0 1601.5 821.9ZM1597.57 837.01L1618.79 842.82A655 655 0 0 1 1614.34 858.35L1593.26 852.02A633 633 0 0 0 1597.57 837.01ZM1593.26 852.02L1614.34 858.35A655 655 0 0 1 1609.5 873.77L1588.59 866.92A633 633 0 0 0 1593.26 852.02ZM1588.59 866.92L1609.5 873.77A655 655 0 0 1 1604.28 889.06L1583.55 881.7A633 633 0 0 0 1588.59 866.92ZM1572.38 910.86L1592.73 919.23A655 655 0 0 1 1586.4 934.1L1566.26 925.23A633 633 0 0 0 1572.38 910.86ZM1566.26 925.23L1586.4 934.1A655 655 0 0 1 1579.7 948.8L1559.79 939.44A633 633 0 0 0 1566.26 925.23ZM1559.79 939.44L1579.7 948.8A655 655 0 0 1 1572.64 963.34L1552.97 953.49A633 633 0 0 0 1559.79 939.44ZM1552.97 953.49L1572.64 963.34A655 655 0 0 1 1565.23 977.69L1545.81 967.36A633 633 0 0 0 1552.97 953.49ZM1545.81 967.36L1565.23 977.69A655 655 0 0 1 1557.46 991.86L1538.3 981.05A633 633 0 0 0 1545.81 967.36ZM1522.29 1007.86L1540.9 1019.61A655 655 0 0 1 1532.1 1033.16L1513.8 1020.96A633 633 0 0 0 1522.29 1007.86ZM1513.8 1020.96L1532.1 1033.16A655 655 0 0 1 1522.98 1046.5L1504.98 1033.85A633 633 0 0 0 1513.8 1020.96ZM1504.98 1033.85L1522.98 1046.5A655 655 0 0 1 1513.53 1059.6L1495.85 1046.52A633 633 0 0 0 1504.98 1033.85ZM1495.85 1046.52L1513.53 1059.6A655 655 0 0 1 1503.76 1072.47L1486.4 1058.95A633 633 0 0 0 1495.85 1046.52ZM1486.4 1058.95L1503.76 1072.47A655 655 0 0 1 1493.68 1085.1L1476.66 1071.15A633 633 0 0 0 1486.4 1058.95ZM1476.66 1071.15L1493.68 1085.1A655 655 0 0 1 1483.28 1097.47L1466.61 1083.11A633 633 0 0 0 1476.66 1071.15ZM1466.61 1083.11L1483.28 1097.47A655 655 0 0 1 1472.59 1109.58L1456.28 1094.81A633 633 0 0 0 1466.61 1083.11ZM1456.28 1094.81L1472.59 1109.58A655 655 0 0 1 1461.6 1121.42L1445.66 1106.26A633 633 0 0 0 1456.28 1094.81ZM1445.66 1106.26L1461.6 1121.42A655 655 0 0 1 1450.32 1132.99L1434.76 1117.44A633 633 0 0 0 1445.66 1106.26ZM1434.76 1117.44L1450.32 1132.99A655 655 0 0 1 1438.76 1144.28L1423.58 1128.35A633 633 0 0 0 1434.76 1117.44ZM1423.58 1128.35L1438.76 1144.28A655 655 0 0 1 1426.92 1155.28L1412.15 1138.98A633 633 0 0 0 1423.58 1128.35ZM1412.15 1138.98L1426.92 1155.28A655 655 0 0 1 1414.82 1165.98L1400.45 1149.32A633 633 0 0 0 1412.15 1138.98ZM1400.45 1149.32L1414.82 1165.98A655 655 0 0 1 1402.45 1176.38L1388.5 1159.37A633 633 0 0 0 1400.45 1149.32ZM1363.88 1178.58L1376.98 1196.25A655 655 0 0 1 1363.88 1205.71L1351.22 1187.72A633 633 0 0 0 1363.88 1178.58ZM1351.22 1187.72L1363.88 1205.71A655 655 0 0 1 1350.55 1214.85L1338.34 1196.55A633 633 0 0 0 1351.22 1187.72ZM1338.34 1196.55L1350.55 1214.85A655 655 0 0 1 1337 1223.65L1325.24 1205.05A633 633 0 0 0 1338.34 1196.55ZM1284.76 1228.6L1295.1 1248.01A655 655 0 0 1 1280.75 1255.43L1270.89 1235.77A633 633 0 0 0 1284.76 1228.6ZM1270.89 1235.77L1280.75 1255.43A655 655 0 0 1 1266.22 1262.5L1256.85 1242.6A633 633 0 0 0 1270.89 1235.77ZM1242.64 1249.08L1251.52 1269.21A655 655 0 0 1 1236.66 1275.55L1228.28 1255.21A633 633 0 0 0 1242.64 1249.08ZM1213.77 1260.99L1221.65 1281.53A655 655 0 0 1 1206.5 1287.13L1199.12 1266.4A633 633 0 0 0 1213.77 1260.99ZM1199.12 1266.4L1206.5 1287.13A655 655 0 0 1 1191.21 1292.35L1184.35 1271.45A633 633 0 0 0 1199.12 1266.4ZM1169.45 1276.14L1175.79 1297.2A655 655 0 0 1 1160.27 1301.67L1154.45 1280.45A633 633 0 0 0 1169.45 1276.14ZM1093.49 1293.98L1097.19 1315.66A655 655 0 0 1 1081.24 1318.19L1078.07 1296.41A633 633 0 0 0 1093.49 1293.98ZM1078.07 1296.41L1081.24 1318.19A655 655 0 0 1 1065.22 1320.31L1062.59 1298.47A633 633 0 0 0 1078.07 1296.41ZM1047.07 1300.14L1049.15 1322.04A655 655 0 0 1 1033.05 1323.38L1031.51 1301.43A633 633 0 0 0 1047.07 1300.14ZM1031.51 1301.43L1033.05 1323.38A655 655 0 0 1 1016.92 1324.32L1015.92 1302.34A633 633 0 0 0 1031.51 1301.43ZM1015.92 1302.34L1016.92 1324.32A655 655 0 0 1 1000.77 1324.86L1000.31 1302.86A633 633 0 0 0 1015.92 1302.34ZM1000.31 1302.86L1000.77 1324.86A655 655 0 0 1 984.62 1325L984.7 1303A633 633 0 0 0 1000.31 1302.86ZM984.7 1303L984.62 1325A655 655 0 0 1 968.46 1324.74L969.08 1302.75A633 633 0 0 0 984.7 1303ZM953.48 1302.11L952.32 1324.08A655 655 0 0 1 936.19 1323.03L937.9 1301.09A633 633 0 0 0 953.48 1302.11ZM922.35 1299.69L920.1 1321.57A655 655 0 0 1 904.05 1319.73L906.84 1297.9A633 633 0 0 0 922.35 1299.69ZM906.84 1297.9L904.05 1319.73A655 655 0 0 1 888.05 1317.48L891.37 1295.74A633 633 0 0 0 906.84 1297.9ZM875.97 1293.19L872.11 1314.84A655 655 0 0 1 856.24 1311.81L860.63 1290.26A633 633 0 0 0 875.97 1293.19ZM860.63 1290.26L856.24 1311.81A655 655 0 0 1 840.45 1308.39L845.37 1286.95A633 633 0 0 0 860.63 1290.26ZM845.37 1286.95L840.45 1308.39A655 655 0 0 1 824.74 1304.59L830.19 1283.27A633 633 0 0 0 845.37 1286.95ZM830.19 1283.27L824.74 1304.59A655 655 0 0 1 809.14 1300.39L815.12 1279.22A633 633 0 0 0 830.19 1283.27ZM800.14 1274.79L793.65 1295.81A655 655 0 0 1 778.27 1290.85L785.28 1270A633 633 0 0 0 800.14 1274.79ZM785.28 1270L778.27 1290.85A655 655 0 0 1 763.02 1285.51L770.54 1264.84A633 633 0 0 0 785.28 1270ZM770.54 1264.84L763.02 1285.51A655 655 0 0 1 747.9 1279.8L755.94 1259.32A633 633 0 0 0 770.54 1264.84ZM755.94 1259.32L747.9 1279.8A655 655 0 0 1 732.94 1273.72L741.47 1253.44A633 633 0 0 0 755.94 1259.32ZM741.47 1253.44L732.94 1273.72A655 655 0 0 1 718.12 1267.27L727.15 1247.21A633 633 0 0 0 741.47 1253.44ZM727.15 1247.21L718.12 1267.27A655 655 0 0 1 703.47 1260.45L712.99 1240.62A633 633 0 0 0 727.15 1247.21ZM712.99 1240.62L703.47 1260.45A655 655 0 0 1 688.99 1253.28L699 1233.69A633 633 0 0 0 712.99 1240.62ZM658.11 1210.85L646.68 1229.65A655 655 0 0 1 632.98 1221.09L644.87 1202.58A633 633 0 0 0 658.11 1210.85ZM644.87 1202.58L632.98 1221.09A655 655 0 0 1 619.5 1212.19L631.84 1193.98A633 633 0 0 0 644.87 1202.58ZM631.84 1193.98L619.5 1212.19A655 655 0 0 1 606.23 1202.96L619.02 1185.06A633 633 0 0 0 631.84 1193.98ZM606.43 1175.82L593.2 1193.4A655 655 0 0 1 580.41 1183.53L594.07 1166.28A633 633 0 0 0 606.43 1175.82ZM594.07 1166.28L580.41 1183.53A655 655 0 0 1 567.87 1173.34L581.95 1156.44A633 633 0 0 0 594.07 1166.28ZM581.95 1156.44L567.87 1173.34A655 655 0 0 1 555.58 1162.85L570.07 1146.3A633 633 0 0 0 581.95 1156.44ZM558.45 1135.87L543.56 1152.06A655 655 0 0 1 531.8 1140.98L547.09 1125.16A633 633 0 0 0 558.45 1135.87ZM547.09 1125.16L531.8 1140.98A655 655 0 0 1 520.32 1129.61L536 1114.17A633 633 0 0 0 547.09 1125.16ZM536 1114.17L520.32 1129.61A655 655 0 0 1 509.13 1117.96L525.18 1102.91A633 633 0 0 0 536 1114.17ZM525.18 1102.91L509.13 1117.96A655 655 0 0 1 498.23 1106.03L514.64 1091.39A633 633 0 0 0 525.18 1102.91ZM504.39 1079.61L487.62 1093.84A655 655 0 0 1 477.32 1081.4L494.44 1067.58A633 633 0 0 0 504.39 1079.61ZM494.44 1067.58L477.32 1081.4A655 655 0 0 1 467.32 1068.7L484.78 1055.31A633 633 0 0 0 494.44 1067.58ZM475.43 1042.8L457.65 1055.76A655 655 0 0 1 448.29 1042.59L466.39 1030.07A633 633 0 0 0 475.43 1042.8ZM466.39 1030.07L448.29 1042.59A655 655 0 0 1 439.27 1029.18L457.66 1017.12A633 633 0 0 0 466.39 1030.07ZM449.26 1003.96L430.57 1015.56A655 655 0 0 1 422.22 1001.74L441.19 990.59A633 633 0 0 0 449.26 1003.96ZM441.19 990.59L422.22 1001.74A655 655 0 0 1 414.21 987.7L433.45 977.03A633 633 0 0 0 441.19 990.59ZM433.45 977.03L414.21 987.7A655 655 0 0 1 406.55 973.48L426.04 963.28A633 633 0 0 0 433.45 977.03ZM412.26 935.26L392.29 944.48A655 655 0 0 1 385.7 929.73L405.89 921.01A633 633 0 0 0 412.26 935.26ZM405.89 921.01L385.7 929.73A655 655 0 0 1 379.47 914.82L399.88 906.6A633 633 0 0 0 405.89 921.01ZM399.88 906.6L379.47 914.82A655 655 0 0 1 373.62 899.76L394.22 892.04A633 633 0 0 0 399.88 906.6ZM388.93 877.35L368.14 884.56A655 655 0 0 1 363.03 869.23L383.99 862.54A633 633 0 0 0 388.93 877.35ZM383.99 862.54L363.03 869.23A655 655 0 0 1 358.31 853.78L379.43 847.61A633 633 0 0 0 383.99 862.54ZM379.43 847.61L358.31 853.78A655 655 0 0 1 353.97 838.22L375.23 832.57A633 633 0 0 0 379.43 847.61ZM367.96 802.2L346.44 806.79A655 655 0 0 1 343.26 790.95L364.89 786.89A633 633 0 0 0 367.96 802.2ZM355.23 709.46L333.27 710.83A655 655 0 0 1 332.47 694.7L354.45 693.87A633 633 0 0 0 355.23 709.46ZM354.04 662.64L332.04 662.39A655 655 0 0 1 332.43 646.23L354.42 647.03A633 633 0 0 0 354.04 662.64ZM357.85 600.32L335.98 597.9A655 655 0 0 1 337.96 581.86L359.76 584.82A633 633 0 0 0 357.85 600.32ZM359.76 584.82L337.96 581.86A655 655 0 0 1 340.33 565.88L362.05 569.38A633 633 0 0 0 359.76 584.82ZM362.05 569.38L340.33 565.88A655 655 0 0 1 343.09 549.96L364.72 553.99A633 633 0 0 0 362.05 569.38ZM375 508.3L353.73 502.68A655 655 0 0 1 358.05 487.11L379.18 493.26A633 633 0 0 0 375 508.3ZM379.18 493.26L358.05 487.11A655 655 0 0 1 362.75 471.65L383.72 478.32A633 633 0 0 0 379.18 493.26ZM383.72 478.32L362.75 471.65A655 655 0 0 1 367.84 456.32L388.63 463.49A633 633 0 0 0 383.72 478.32ZM388.63 463.49L367.84 456.32A655 655 0 0 1 373.29 441.11L393.91 448.8A633 633 0 0 0 388.63 463.49ZM393.91 448.8L373.29 441.11A655 655 0 0 1 379.13 426.04L399.54 434.24A633 633 0 0 0 393.91 448.8ZM405.54 419.82L385.33 411.12A655 655 0 0 1 391.9 396.36L411.89 405.55A633 633 0 0 0 405.54 419.82ZM411.89 405.55L391.9 396.36A655 655 0 0 1 398.83 381.76L418.58 391.45A633 633 0 0 0 411.89 405.55ZM418.58 391.45L398.83 381.76A655 655 0 0 1 406.12 367.34L425.63 377.51A633 633 0 0 0 418.58 391.45ZM425.63 377.51L406.12 367.34A655 655 0 0 1 413.76 353.11L433.01 363.75A633 633 0 0 0 425.63 377.51ZM433.01 363.75L413.76 353.11A655 655 0 0 1 421.75 339.07L440.74 350.18A633 633 0 0 0 433.01 363.75ZM440.74 350.18L421.75 339.07A655 655 0 0 1 430.08 325.22L448.79 336.8A633 633 0 0 0 440.74 350.18ZM448.79 336.8L430.08 325.22A655 655 0 0 1 438.76 311.59L457.17 323.63A633 633 0 0 0 448.79 336.8ZM457.17 323.63L438.76 311.59A655 655 0 0 1 447.77 298.18L465.88 310.67A633 633 0 0 0 457.17 323.63ZM465.88 310.67L447.77 298.18A655 655 0 0 1 457.1 284.99L474.9 297.92A633 633 0 0 0 465.88 310.67ZM474.9 297.92L457.1 284.99A655 655 0 0 1 466.76 272.04L484.23 285.4A633 633 0 0 0 474.9 297.92ZM484.23 285.4L466.76 272.04A655 655 0 0 1 476.73 259.33L493.87 273.12A633 633 0 0 0 484.23 285.4ZM493.87 273.12L476.73 259.33A655 655 0 0 1 487.02 246.86L503.81 261.08A633 633 0 0 0 493.87 273.12ZM503.81 261.08L487.02 246.86A655 655 0 0 1 497.61 234.66L514.05 249.28A633 633 0 0 0 503.81 261.08ZM514.05 249.28L497.61 234.66A655 655 0 0 1 508.49 222.72L524.57 237.75A633 633 0 0 0 514.05 249.28ZM569.4 194.29L554.89 177.76A655 655 0 0 1 567.16 167.25L581.26 184.14A633 633 0 0 0 569.4 194.29ZM631.1 146.53L618.73 128.33A655 655 0 0 1 632.2 119.42L644.12 137.91A633 633 0 0 0 631.1 146.53ZM644.12 137.91L632.2 119.42A655 655 0 0 1 645.89 110.83L657.35 129.61A633 633 0 0 0 644.12 137.91ZM670.78 121.65L659.79 102.59A655 655 0 0 1 673.88 94.69L684.4 114.01A633 633 0 0 0 670.78 121.65ZM712.19 99.77L702.64 79.95A655 655 0 0 1 717.28 73.11L726.34 93.16A633 633 0 0 0 712.19 99.77ZM726.34 93.16L717.28 73.11A655 655 0 0 1 732.08 66.64L740.64 86.91A633 633 0 0 0 726.34 93.16ZM740.64 86.91L732.08 66.64A655 655 0 0 1 747.04 60.54L755.1 81.01A633 633 0 0 0 740.64 86.91ZM784.43 70.29L777.39 49.45A655 655 0 0 1 792.76 44.46L799.28 65.47A633 633 0 0 0 784.43 70.29ZM799.28 65.47L792.76 44.46A655 655 0 0 1 808.25 39.86L814.25 61.03A633 633 0 0 0 799.28 65.47ZM814.25 61.03L808.25 39.86A655 655 0 0 1 823.85 35.65L829.33 56.95A633 633 0 0 0 814.25 61.03Z"/>
<path fill="#ffff00" d="M1010.42 37.43L1011.23 15.45A655 655 0 0 1 1027.37 16.25L1026.01 38.2A633 633 0 0 0 1010.42 37.43ZM1483 276.72L1500.24 263.05A655 655 0 0 1 1510.12 275.83L1492.55 289.07A633 633 0 0 0 1483 276.72ZM1501.8 301.66L1519.69 288.86A655 655 0 0 1 1528.93 302.11L1510.72 314.47A633 633 0 0 0 1501.8 301.66ZM1581.69 453.12L1602.36 445.58A655 655 0 0 1 1607.7 460.83L1586.86 467.85A633 633 0 0 0 1581.69 453.12ZM1619.87 682.86L1641.86 683.31A655 655 0 0 1 1641.34 699.46L1619.36 698.47A633 633 0 0 0 1619.87 682.86ZM1605.06 806.7L1626.54 811.45A655 655 0 0 1 1622.86 827.18L1601.5 821.9A633 633 0 0 0 1605.06 806.7ZM1538.3 981.05L1557.46 991.86A655 655 0 0 1 1549.35 1005.84L1530.46 994.56A633 633 0 0 0 1538.3 981.05ZM1530.46 994.56L1549.35 1005.84A655 655 0 0 1 1540.9 1019.61L1522.29 1007.86A633 633 0 0 0 1530.46 994.56ZM1311.94 1213.23L1323.24 1232.11A655 655 0 0 1 1309.27 1240.24L1298.44 1221.08A633 633 0 0 0 1311.94 1213.23ZM1228.28 1255.21L1236.66 1275.55A655 655 0 0 1 1221.65 1281.53L1213.77 1260.99A633 633 0 0 0 1228.28 1255.21ZM1184.35 1271.45L1191.21 1292.35A655 655 0 0 1 1175.79 1297.2L1169.45 1276.14A633 633 0 0 0 1184.35 1271.45ZM1062.59 1298.47L1065.22 1320.31A655 655 0 0 1 1049.15 1322.04L1047.07 1300.14A633 633 0 0 0 1062.59 1298.47ZM969.08 1302.75L968.46 1324.74A655 655 0 0 1 952.32 1324.08L953.48 1302.11A633 633 0 0 0 969.08 1302.75ZM937.9 1301.09L936.19 1323.03A655 655 0 0 1 920.1 1321.57L922.35 1299.69A633 633 0 0 0 937.9 1301.09ZM685.19 1226.42L674.7 1245.75A655 655 0 0 1 660.59 1237.87L671.55 1218.8A633 633 0 0 0 685.19 1226.42ZM619.02 1185.06L606.23 1202.96A655 655 0 0 1 593.2 1193.4L606.43 1175.82A633 633 0 0 0 619.02 1185.06ZM457.66 1017.12L439.27 1029.18A655 655 0 0 1 430.57 1015.56L449.26 1003.96A633 633 0 0 0 457.66 1017.12ZM371.41 817.43L350.01 822.55A655 655 0 0 1 346.44 806.79L367.96 802.2A633 633 0 0 0 371.41 817.43ZM355.18 631.43L333.22 630.09A655 655 0 0 1 334.4 613.98L356.32 615.86A633 633 0 0 0 355.18 631.43ZM364.72 553.99L343.09 549.96A655 655 0 0 1 346.25 534.12L367.77 538.68A633 633 0 0 0 364.72 553.99ZM399.54 434.24L379.13 426.04A655 655 0 0 1 385.33 411.12L405.54 419.82A633 633 0 0 0 399.54 434.24ZM546.45 215.47L531.14 199.67A655 655 0 0 1 542.88 188.57L557.79 204.74A633 633 0 0 0 546.45 215.47ZM618.29 155.47L605.48 137.58A655 655 0 0 1 618.73 128.33L631.1 146.53A633 633 0 0 0 618.29 155.47ZM755.1 81.01L747.04 60.54A655 655 0 0 1 762.15 54.8L769.7 75.47A633 633 0 0 0 755.1 81.01Z"/>
<path fill="#ff0000" d="M1026.01 38.2L1027.37 16.25A655 655 0 0 1 1043.48 17.44L1041.59 39.36A633 633 0 0 0 1026.01 38.2ZM1251.86 95.07L1261.06 75.09A655 655 0 0 1 1275.65 82.03L1265.96 101.78A633 633 0 0 0 1251.86 95.07ZM1265.96 101.78L1275.65 82.03A655 655 0 0 1 1290.07 89.33L1279.89 108.84A633 633 0 0 0 1265.96 101.78ZM1333.75 140.42L1345.8 122.01A655 655 0 0 1 1359.2 131.03L1346.7 149.13A633 633 0 0 0 1333.75 140.42ZM1359.44 158.16L1372.38 140.37A655 655 0 0 1 1385.33 150.04L1371.95 167.51A633 633 0 0 0 1359.44 158.16ZM1463 252.74L1479.55 238.23A655 655 0 0 1 1490.05 250.51L1473.15 264.6A633 633 0 0 0 1463 252.74ZM1570.27 424.06L1590.54 415.51A655 655 0 0 1 1596.63 430.47L1576.16 438.52A633 633 0 0 0 1570.27 424.06ZM1618.06 620.45L1639.99 618.73A655 655 0 0 1 1641.06 634.85L1619.09 636.03A633 633 0 0 0 1618.06 620.45ZM1619.36 698.47L1641.34 699.46A655 655 0 0 1 1640.41 715.59L1618.46 714.06A633 633 0 0 0 1619.36 698.47ZM1618.46 714.06L1640.41 715.59A655 655 0 0 1 1639.09 731.69L1617.19 729.62A633 633 0 0 0 1618.46 714.06ZM1611.05 776.05L1632.74 779.74A655 655 0 0 1 1629.84 795.63L1608.25 791.41A633 633 0 0 0 1611.05 776.05ZM1583.55 881.7L1604.28 889.06A655 655 0 0 1 1598.69 904.22L1578.15 896.35A633 633 0 0 0 1583.55 881.7ZM1388.5 1159.37L1402.45 1176.38A655 655 0 0 1 1389.84 1186.48L1376.31 1169.13A633 633 0 0 0 1388.5 1159.37ZM1376.31 1169.13L1389.84 1186.48A655 655 0 0 1 1376.98 1196.25L1363.88 1178.58A633 633 0 0 0 1376.31 1169.13ZM1298.44 1221.08L1309.27 1240.24A655 655 0 0 1 1295.1 1248.01L1284.76 1228.6A633 633 0 0 0 1298.44 1221.08ZM1256.85 1242.6L1266.22 1262.5A655 655 0 0 1 1251.52 1269.21L1242.64 1249.08A633 633 0 0 0 1256.85 1242.6ZM1154.45 1280.45L1160.27 1301.67A655 655 0 0 1 1144.63 1305.75L1139.34 1284.4A633 633 0 0 0 1154.45 1280.45ZM1139.34 1284.4L1144.63 1305.75A655 655 0 0 1 1128.9 1309.44L1124.14 1287.97A633 633 0 0 0 1139.34 1284.4ZM1108.85 1291.16L1113.09 1312.75A655 655 0 0 1 1097.19 1315.66L1093.49 1293.98A633 633 0 0 0 1108.85 1291.16ZM891.37 1295.74L888.05 1317.48A655 655 0 0 1 872.11 1314.84L875.97 1293.19A633 633 0 0 0 891.37 1295.74ZM815.12 1279.22L809.14 1300.39A655 655 0 0 1 793.65 1295.81L800.14 1274.79A633 633 0 0 0 815.12 1279.22ZM570.07 1146.3L555.58 1162.85A655 655 0 0 1 543.56 1152.06L558.45 1135.87A633 633 0 0 0 570.07 1146.3ZM426.04 963.28L406.55 973.48A655 655 0 0 1 399.24 959.07L418.98 949.36A633 633 0 0 0 426.04 963.28ZM394.22 892.04L373.62 899.76A655 655 0 0 1 368.14 884.56L388.93 877.35A633 633 0 0 0 394.22 892.04ZM362.19 771.51L340.48 775.03A655 655 0 0 1 338.08 759.06L359.88 756.06A633 633 0 0 0 362.19 771.51ZM357.95 740.57L336.08 743.02A655 655 0 0 1 334.48 726.94L356.4 725.03A633 633 0 0 0 357.95 740.57ZM356.4 725.03L334.48 726.94A655 655 0 0 1 333.27 710.83L355.23 709.46A633 633 0 0 0 356.4 725.03ZM354.45 693.87L332.47 694.7A655 655 0 0 1 332.06 678.54L354.05 678.26A633 633 0 0 0 354.45 693.87ZM354.05 678.26L332.06 678.54A655 655 0 0 1 332.04 662.39L354.04 662.64A633 633 0 0 0 354.05 678.26ZM354.42 647.03L332.43 646.23A655 655 0 0 1 333.22 630.09L355.18 631.43A633 633 0 0 0 354.42 647.03ZM356.32 615.86L334.4 613.98A655 655 0 0 1 335.98 597.9L357.85 600.32A633 633 0 0 0 356.32 615.86ZM367.77 538.68L346.25 534.12A655 655 0 0 1 349.8 518.35L371.2 523.45A633 633 0 0 0 367.77 538.68ZM524.57 237.75L508.49 222.72A655 655 0 0 1 519.67 211.06L535.37 226.47A633 633 0 0 0 524.57 237.75ZM557.79 204.74L542.88 188.57A655 655 0 0 1 554.89 177.76L569.4 194.29A633 633 0 0 0 557.79 204.74ZM581.26 184.14L567.16 167.25A655 655 0 0 1 579.69 157.05L593.37 174.28A633 633 0 0 0 581.26 184.14ZM605.72 164.72L592.46 147.16A655 655 0 0 1 605.48 137.58L618.29 155.47A633 633 0 0 0 605.72 164.72ZM657.35 129.61L645.89 110.83A655 655 0 0 1 659.79 102.59L670.78 121.65A633 633 0 0 0 657.35 129.61ZM684.4 114.01L673.88 94.69A655 655 0 0 1 688.17 87.14L698.2 106.72A633 633 0 0 0 684.4 114.01Z"/>
<path fill="#0000ff" d="M1072.62 42.82L1075.6 21.02A655 655 0 0 1 1091.58 23.4L1088.06 45.12A633 633 0 0 0 1072.62 42.82ZM1430.85 218.68L1446.28 203A655 655 0 0 1 1457.66 214.47L1441.85 229.77A633 633 0 0 0 1430.85 218.68ZM1527.62 340.73L1546.41 329.29A655 655 0 0 1 1554.64 343.19L1535.58 354.17A633 633 0 0 0 1527.62 340.73ZM1619.73 651.64L1641.72 651A655 655 0 0 1 1641.99 667.15L1619.99 667.25A633 633 0 0 0 1619.73 651.64ZM1617.19 729.62L1639.09 731.69A655 655 0 0 1 1637.37 747.76L1615.52 745.15A633 633 0 0 0 1617.19 729.62ZM1608.25 791.41L1629.84 795.63A655 655 0 0 1 1626.54 811.45L1605.06 806.7A633 633 0 0 0 1608.25 791.41ZM1325.24 1205.05L1337 1223.65A655 655 0 0 1 1323.24 1232.11L1311.94 1213.23A633 633 0 0 0 1325.24 1205.05ZM1124.14 1287.97L1128.9 1309.44A655 655 0 0 1 1113.09 1312.75L1108.85 1291.16A633 633 0 0 0 1124.14 1287.97ZM699 1233.69L688.99 1253.28A655 655 0 0 1 674.7 1245.75L685.19 1226.42A633 633 0 0 0 699 1233.69ZM671.55 1218.8L660.59 1237.87A655 655 0 0 1 646.68 1229.65L658.11 1210.85A633 633 0 0 0 671.55 1218.8ZM514.64 1091.39L498.23 1106.03A655 655 0 0 1 487.62 1093.84L504.39 1079.61A633 633 0 0 0 514.64 1091.39ZM484.78 1055.31L467.32 1068.7A655 655 0 0 1 457.65 1055.76L475.43 1042.8A633 633 0 0 0 484.78 1055.31ZM418.98 949.36L399.24 959.07A655 655 0 0 1 392.29 944.48L412.26 935.26A633 633 0 0 0 418.98 949.36ZM375.23 832.57L353.97 838.22A655 655 0 0 1 350.01 822.55L371.41 817.43A633 633 0 0 0 375.23 832.57ZM364.89 786.89L343.26 790.95A655 655 0 0 1 340.48 775.03L362.19 771.51A633 633 0 0 0 364.89 786.89ZM359.88 756.06L338.08 759.06A655 655 0 0 1 336.08 743.02L357.95 740.57A633 633 0 0 0 359.88 756.06ZM593.37 174.28L579.69 157.05A655 655 0 0 1 592.46 147.16L605.72 164.72A633 633 0 0 0 593.37 174.28ZM698.2 106.72L688.17 87.14A655 655 0 0 1 702.64 79.95L712.19 99.77A633 633 0 0 0 698.2 106.72ZM769.7 75.47L762.15 54.8A655 655 0 0 1 777.39 49.45L784.43 70.29A633 633 0 0 0 769.7 75.47Z"/>
<path fill="#4d004d" d="M1371.95 167.51L1385.33 150.04A655 655 0 0 1 1398.04 160.02L1384.23 177.15A633 633 0 0 0 1371.95 167.51ZM1578.15 896.35L1598.69 904.22A655 655 0 0 1 1592.73 919.23L1572.38 910.86A633 633 0 0 0 1578.15 896.35ZM371.2 523.45L349.8 518.35A655 655 0 0 1 353.73 502.68L375 508.3A633 633 0 0 0 371.2 523.45ZM535.37 226.47L519.67 211.06A655 655 0 0 1 531.14 199.67L546.45 215.47A633 633 0 0 0 535.37 226.47Z"/>
</g>
<g id="tiplabels" font-family='"Liberation Sans", Arial, Helvetica, sans-serif' font-size="15.6" fill="#000">
<text transform="translate(987 89.4) rotate(-90)" text-anchor="end" dy="5.4">Kp9400</text>
<text transform="translate(1001.32 89.58) rotate(-88.59)" text-anchor="end" dy="5.4">Kp9731</text>
<text transform="translate(1015.63 90.11) rotate(-87.17)" text-anchor="end" dy="5.4">Kp10406</text>
<text transform="translate(1029.93 90.99) rotate(-85.76)" text-anchor="end" dy="5.4">Kp10838</text>
<text transform="translate(1044.2 92.22) rotate(-84.35)" text-anchor="end" dy="5.4">Kp4733</text>
<text transform="translate(1058.43 93.81) rotate(-82.93)" text-anchor="end" dy="5.4">Kp7965</text>
<text transform="translate(1072.62 95.75) rotate(-81.52)" text-anchor="end" dy="5.4">Kp10379</text>
<text transform="translate(1086.76 98.03) rotate(-80.11)" text-anchor="end" dy="5.4">Kp9354</text>
<text transform="translate(1100.84 100.67) rotate(-78.69)" text-anchor="end" dy="5.4">Kp4280</text>
<text transform="translate(1114.85 103.65) rotate(-77.28)" text-anchor="end" dy="5.4">Kp11018</text>
<text transform="translate(1128.78 106.98) rotate(-75.87)" text-anchor="end" dy="5.4">Kp4236</text>
<text transform="translate(1142.62 110.64) rotate(-74.45)" text-anchor="end" dy="5.4">Kp8335</text>
<text transform="translate(1156.37 114.65) rotate(-73.04)" text-anchor="end" dy="5.4">Kp5844</text>
<text transform="translate(1170.02 119) rotate(-71.63)" text-anchor="end" dy="5.4">Kp8678</text>
<text transform="translate(1183.55 123.68) rotate(-70.21)" text-anchor="end" dy="5.4">Kp4817</text>
<text transform="translate(1196.97 128.7) rotate(-68.8)" text-anchor="end" dy="5.4">Kp4078</text>
<text transform="translate(1210.26 134.04) rotate(-67.39)" text-anchor="end" dy="5.4">Kp6566</text>
<text transform="translate(1223.41 139.71) rotate(-65.97)" text-anchor="end" dy="5.4">Kp7895</text>
<text transform="translate(1236.42 145.7) rotate(-64.56)" text-anchor="end" dy="5.4">Kp10237</text>
<text transform="translate(1249.27 152.01) rotate(-63.15)" text-anchor="end" dy="5.4">Kp11262</text>
<text transform="translate(1261.97 158.64) rotate(-61.73)" text-anchor="end" dy="5.4">Kp3996</text>
<text transform="translate(1274.5 165.58) rotate(-60.32)" text-anchor="end" dy="5.4">Kp9823</text>
<text transform="translate(1286.85 172.82) rotate(-58.91)" text-anchor="end" dy="5.4">Kp4667</text>
<text transform="translate(1299.03 180.37) rotate(-57.49)" text-anchor="end" dy="5.4">Kp7914</text>
<text transform="translate(1311.01 188.22) rotate(-56.08)" text-anchor="end" dy="5.4">Kp4702</text>
<text transform="translate(1322.79 196.36) rotate(-54.66)" text-anchor="end" dy="5.4">Kp7980</text>
<text transform="translate(1334.37 204.78) rotate(-53.25)" text-anchor="end" dy="5.4">Kp5117</text>
<text transform="translate(1345.74 213.49) rotate(-51.84)" text-anchor="end" dy="5.4">Kp6421</text>
<text transform="translate(1356.89 222.48) rotate(-50.42)" text-anchor="end" dy="5.4">Kp3260</text>
<text transform="translate(1367.82 231.74) rotate(-49.01)" text-anchor="end" dy="5.4">Kp8879</text>
<text transform="translate(1378.51 241.27) rotate(-47.6)" text-anchor="end" dy="5.4">Kp3707</text>
<text transform="translate(1388.97 251.05) rotate(-46.18)" text-anchor="end" dy="5.4">Kp11172</text>
<text transform="translate(1399.18 261.1) rotate(-44.77)" text-anchor="end" dy="5.4">Kp8382</text>
<text transform="translate(1409.14 271.39) rotate(-43.36)" text-anchor="end" dy="5.4">Kp6805</text>
<text transform="translate(1418.85 281.92) rotate(-41.94)" text-anchor="end" dy="5.4">Kp8139</text>
<text transform="translate(1428.29 292.69) rotate(-40.53)" text-anchor="end" dy="5.4">Kp2816</text>
<text transform="translate(1437.46 303.69) rotate(-39.12)" text-anchor="end" dy="5.4">Kp11169</text>
<text transform="translate(1446.36 314.91) rotate(-37.7)" text-anchor="end" dy="5.4">Kp9364</text>
<text transform="translate(1454.98 326.35) rotate(-36.29)" text-anchor="end" dy="5.4">Kp8374</text>
<text transform="translate(1463.31 338) rotate(-34.88)" text-anchor="end" dy="5.4">Kp6146</text>
<text transform="translate(1471.36 349.85) rotate(-33.46)" text-anchor="end" dy="5.4">Kp8880</text>
<text transform="translate(1479.1 361.89) rotate(-32.05)" text-anchor="end" dy="5.4">Kp7994</text>
<text transform="translate(1486.55 374.13) rotate(-30.64)" text-anchor="end" dy="5.4">Kp11162</text>
<text transform="translate(1493.7 386.54) rotate(-29.22)" text-anchor="end" dy="5.4">Kp5581</text>
<text transform="translate(1500.54 399.12) rotate(-27.81)" text-anchor="end" dy="5.4">Kp10592</text>
<text transform="translate(1507.06 411.87) rotate(-26.4)" text-anchor="end" dy="5.4">Kp6840</text>
<text transform="translate(1513.27 424.78) rotate(-24.98)" text-anchor="end" dy="5.4">Kp5060</text>
<text transform="translate(1519.16 437.83) rotate(-23.57)" text-anchor="end" dy="5.4">Kp9983</text>
<text transform="translate(1524.73 451.03) rotate(-22.16)" text-anchor="end" dy="5.4">Kp4760</text>
<text transform="translate(1529.96 464.36) rotate(-20.74)" text-anchor="end" dy="5.4">Kp10645</text>
<text transform="translate(1534.87 477.82) rotate(-19.33)" text-anchor="end" dy="5.4">Kp9918</text>
<text transform="translate(1539.44 491.39) rotate(-17.92)" text-anchor="end" dy="5.4">Kp10144</text>
<text transform="translate(1543.68 505.07) rotate(-16.5)" text-anchor="end" dy="5.4">Kp10143</text>
<text transform="translate(1547.58 518.85) rotate(-15.09)" text-anchor="end" dy="5.4">Kp10269</text>
<text transform="translate(1551.14 532.72) rotate(-13.68)" text-anchor="end" dy="5.4">Kp3197</text>
<text transform="translate(1554.35 546.68) rotate(-12.26)" text-anchor="end" dy="5.4">Kp10543</text>
<text transform="translate(1557.22 560.71) rotate(-10.85)" text-anchor="end" dy="5.4">Kp9164</text>
<text transform="translate(1559.74 574.81) rotate(-9.44)" text-anchor="end" dy="5.4">Kp5053</text>
<text transform="translate(1561.92 588.97) rotate(-8.02)" text-anchor="end" dy="5.4">Kp10440</text>
<text transform="translate(1563.74 603.17) rotate(-6.61)" text-anchor="end" dy="5.4">Kp7028</text>
<text transform="translate(1565.21 617.42) rotate(-5.2)" text-anchor="end" dy="5.4">Kp3054</text>
<text transform="translate(1566.34 631.7) rotate(-3.78)" text-anchor="end" dy="5.4">Kp8207</text>
<text transform="translate(1567.1 646) rotate(-2.37)" text-anchor="end" dy="5.4">Kp4368</text>
<text transform="translate(1567.52 660.31) rotate(-0.96)" text-anchor="end" dy="5.4">Kp11407</text>
<text transform="translate(1567.58 674.64) rotate(0.46)" text-anchor="end" dy="5.4">Kp4722</text>
<text transform="translate(1567.29 688.96) rotate(1.87)" text-anchor="end" dy="5.4">Kp5854</text>
<text transform="translate(1566.65 703.26) rotate(3.28)" text-anchor="end" dy="5.4">Kp6567</text>
<text transform="translate(1565.65 717.55) rotate(4.7)" text-anchor="end" dy="5.4">Kp3852</text>
<text transform="translate(1564.3 731.81) rotate(6.11)" text-anchor="end" dy="5.4">Kp3882</text>
<text transform="translate(1562.6 746.03) rotate(7.52)" text-anchor="end" dy="5.4">Kp4955</text>
<text transform="translate(1560.55 760.21) rotate(8.94)" text-anchor="end" dy="5.4">Kp4929</text>
<text transform="translate(1558.15 774.32) rotate(10.35)" text-anchor="end" dy="5.4">Kp8587</text>
<text transform="translate(1555.4 788.38) rotate(11.76)" text-anchor="end" dy="5.4">Kp3176</text>
<text transform="translate(1552.31 802.37) rotate(13.18)" text-anchor="end" dy="5.4">Kp5078</text>
<text transform="translate(1548.87 816.27) rotate(14.59)" text-anchor="end" dy="5.4">Kp3474</text>
<text transform="translate(1545.09 830.08) rotate(16)" text-anchor="end" dy="5.4">Kp8554</text>
<text transform="translate(1540.98 843.8) rotate(17.42)" text-anchor="end" dy="5.4">Kp9063</text>
<text transform="translate(1536.52 857.41) rotate(18.83)" text-anchor="end" dy="5.4">Kp6126</text>
<text transform="translate(1531.73 870.91) rotate(20.25)" text-anchor="end" dy="5.4">Kp9386</text>
<text transform="translate(1526.61 884.29) rotate(21.66)" text-anchor="end" dy="5.4">Kp5120</text>
<text transform="translate(1521.16 897.53) rotate(23.07)" text-anchor="end" dy="5.4">Kp10550</text>
<text transform="translate(1515.38 910.64) rotate(24.49)" text-anchor="end" dy="5.4">Kp4211</text>
<text transform="translate(1509.29 923.6) rotate(25.9)" text-anchor="end" dy="5.4">Kp10614</text>
<text transform="translate(1502.87 936.4) rotate(27.31)" text-anchor="end" dy="5.4">Kp10506</text>
<text transform="translate(1496.15 949.05) rotate(28.73)" text-anchor="end" dy="5.4">Kp7643</text>
<text transform="translate(1489.11 961.52) rotate(30.14)" text-anchor="end" dy="5.4">Kp7447</text>
<text transform="translate(1481.77 973.82) rotate(31.55)" text-anchor="end" dy="5.4">Kp4468</text>
<text transform="translate(1474.12 985.93) rotate(32.97)" text-anchor="end" dy="5.4">Kp10120</text>
<text transform="translate(1466.18 997.85) rotate(34.38)" text-anchor="end" dy="5.4">Kp9828</text>
<text transform="translate(1457.95 1009.57) rotate(35.79)" text-anchor="end" dy="5.4">Kp5215</text>
<text transform="translate(1449.43 1021.08) rotate(37.21)" text-anchor="end" dy="5.4">Kp8982</text>
<text transform="translate(1440.63 1032.38) rotate(38.62)" text-anchor="end" dy="5.4">Kp5123</text>
<text transform="translate(1431.55 1043.46) rotate(40.03)" text-anchor="end" dy="5.4">Kp4500</text>
<text transform="translate(1422.2 1054.31) rotate(41.45)" text-anchor="end" dy="5.4">Kp10743</text>
<text transform="translate(1412.59 1064.93) rotate(42.86)" text-anchor="end" dy="5.4">Kp9689</text>
<text transform="translate(1402.72 1075.3) rotate(44.27)" text-anchor="end" dy="5.4">Kp9270</text>
<text transform="translate(1392.6 1085.43) rotate(45.69)" text-anchor="end" dy="5.4">Kp10201</text>
<text transform="translate(1382.23 1095.31) rotate(47.1)" text-anchor="end" dy="5.4">Kp6690</text>
<text transform="translate(1371.62 1104.93) rotate(48.51)" text-anchor="end" dy="5.4">Kp7772</text>
<text transform="translate(1360.77 1114.29) rotate(49.93)" text-anchor="end" dy="5.4">Kp10480</text>
<text transform="translate(1349.7 1123.37) rotate(51.34)" text-anchor="end" dy="5.4">Kp8184</text>
<text transform="translate(1338.41 1132.18) rotate(52.75)" text-anchor="end" dy="5.4">Kp6131</text>
<text transform="translate(1326.9 1140.71) rotate(54.17)" text-anchor="end" dy="5.4">Kp6149</text>
<text transform="translate(1315.19 1148.95) rotate(55.58)" text-anchor="end" dy="5.4">Kp8047</text>
<text transform="translate(1303.27 1156.9) rotate(56.99)" text-anchor="end" dy="5.4">Kp9939</text>
<text transform="translate(1291.17 1164.55) rotate(58.41)" text-anchor="end" dy="5.4">Kp9235</text>
<text transform="translate(1278.87 1171.9) rotate(59.82)" text-anchor="end" dy="5.4">Kp4888</text>
<text transform="translate(1266.41 1178.95) rotate(61.23)" text-anchor="end" dy="5.4">Kp8059</text>
<text transform="translate(1253.77 1185.69) rotate(62.65)" text-anchor="end" dy="5.4">Kp7160</text>
<text transform="translate(1240.97 1192.11) rotate(64.06)" text-anchor="end" dy="5.4">Kp8611</text>
<text transform="translate(1228.01 1198.21) rotate(65.47)" text-anchor="end" dy="5.4">Kp8836</text>
<text transform="translate(1214.91 1204) rotate(66.89)" text-anchor="end" dy="5.4">Kp4591</text>
<text transform="translate(1201.67 1209.46) rotate(68.3)" text-anchor="end" dy="5.4">Kp10638</text>
<text transform="translate(1188.3 1214.59) rotate(69.71)" text-anchor="end" dy="5.4">Kp5184</text>
<text transform="translate(1174.8 1219.39) rotate(71.13)" text-anchor="end" dy="5.4">Kp4539</text>
<text transform="translate(1161.19 1223.85) rotate(72.54)" text-anchor="end" dy="5.4">Kp6928</text>
<text transform="translate(1147.48 1227.98) rotate(73.95)" text-anchor="end" dy="5.4">Kp4459</text>
<text transform="translate(1133.67 1231.77) rotate(75.37)" text-anchor="end" dy="5.4">Kp4571</text>
<text transform="translate(1119.77 1235.22) rotate(76.78)" text-anchor="end" dy="5.4">Kp8399</text>
<text transform="translate(1105.78 1238.32) rotate(78.19)" text-anchor="end" dy="5.4">Kp10289</text>
<text transform="translate(1091.73 1241.08) rotate(79.61)" text-anchor="end" dy="5.4">Kp10769</text>
<text transform="translate(1077.61 1243.49) rotate(81.02)" text-anchor="end" dy="5.4">Kp6535</text>
<text transform="translate(1063.44 1245.55) rotate(82.43)" text-anchor="end" dy="5.4">Kp10367</text>
<text transform="translate(1049.22 1247.26) rotate(83.85)" text-anchor="end" dy="5.4">Kp4819</text>
<text transform="translate(1034.96 1248.62) rotate(85.26)" text-anchor="end" dy="5.4">Kp9247</text>
<text transform="translate(1020.67 1249.62) rotate(86.68)" text-anchor="end" dy="5.4">Kp9077</text>
<text transform="translate(1006.37 1250.28) rotate(88.09)" text-anchor="end" dy="5.4">Kp6313</text>
<text transform="translate(992.05 1250.58) rotate(89.5)" text-anchor="end" dy="5.4">Kp10384</text>
<text transform="translate(977.73 1250.53) rotate(-89.08)" text-anchor="start" dy="5.4">Kp6711</text>
<text transform="translate(963.41 1250.12) rotate(-87.67)" text-anchor="start" dy="5.4">Kp6733</text>
<text transform="translate(949.11 1249.36) rotate(-86.26)" text-anchor="start" dy="5.4">Kp5803</text>
<text transform="translate(934.83 1248.25) rotate(-84.84)" text-anchor="start" dy="5.4">Kp9426</text>
<text transform="translate(920.58 1246.79) rotate(-83.43)" text-anchor="start" dy="5.4">Kp4753</text>
<text transform="translate(906.37 1244.97) rotate(-82.02)" text-anchor="start" dy="5.4">Kp10335</text>
<text transform="translate(892.22 1242.81) rotate(-80.6)" text-anchor="start" dy="5.4">Kp6653</text>
<text transform="translate(878.12 1240.3) rotate(-79.19)" text-anchor="start" dy="5.4">Kp8125</text>
<text transform="translate(864.08 1237.44) rotate(-77.78)" text-anchor="start" dy="5.4">Kp8422</text>
<text transform="translate(850.12 1234.24) rotate(-76.36)" text-anchor="start" dy="5.4">Kp5477</text>
<text transform="translate(836.25 1230.69) rotate(-74.95)" text-anchor="start" dy="5.4">Kp8253</text>
<text transform="translate(822.46 1226.8) rotate(-73.54)" text-anchor="start" dy="5.4">Kp10436</text>
<text transform="translate(808.78 1222.57) rotate(-72.12)" text-anchor="start" dy="5.4">Kp11034</text>
<text transform="translate(795.2 1218.01) rotate(-70.71)" text-anchor="start" dy="5.4">Kp3455</text>
<text transform="translate(781.75 1213.11) rotate(-69.3)" text-anchor="start" dy="5.4">Kp5415</text>
<text transform="translate(768.41 1207.88) rotate(-67.88)" text-anchor="start" dy="5.4">Kp10256</text>
<text transform="translate(755.21 1202.33) rotate(-66.47)" text-anchor="start" dy="5.4">Kp7201</text>
<text transform="translate(742.15 1196.45) rotate(-65.06)" text-anchor="start" dy="5.4">Kp6032</text>
<text transform="translate(729.24 1190.25) rotate(-63.64)" text-anchor="start" dy="5.4">Kp2841</text>
<text transform="translate(716.49 1183.73) rotate(-62.23)" text-anchor="start" dy="5.4">Kp6373</text>
<text transform="translate(703.9 1176.9) rotate(-60.82)" text-anchor="start" dy="5.4">Kp4650</text>
<text transform="translate(691.48 1169.76) rotate(-59.4)" text-anchor="start" dy="5.4">Kp5478</text>
<text transform="translate(679.24 1162.32) rotate(-57.99)" text-anchor="start" dy="5.4">Kp2790</text>
<text transform="translate(667.19 1154.58) rotate(-56.58)" text-anchor="start" dy="5.4">Kp4467</text>
<text transform="translate(655.34 1146.55) rotate(-55.16)" text-anchor="start" dy="5.4">Kp6593</text>
<text transform="translate(643.68 1138.22) rotate(-53.75)" text-anchor="start" dy="5.4">Kp6070</text>
<text transform="translate(632.24 1129.61) rotate(-52.34)" text-anchor="start" dy="5.4">Kp6168</text>
<text transform="translate(621.01 1120.72) rotate(-50.92)" text-anchor="start" dy="5.4">Kp9884</text>
<text transform="translate(610 1111.55) rotate(-49.51)" text-anchor="start" dy="5.4">Kp9149</text>
<text transform="translate(599.23 1102.12) rotate(-48.1)" text-anchor="start" dy="5.4">Kp11288</text>
<text transform="translate(588.69 1092.43) rotate(-46.68)" text-anchor="start" dy="5.4">Kp9801</text>
<text transform="translate(578.39 1082.47) rotate(-45.27)" text-anchor="start" dy="5.4">Kp8937</text>
<text transform="translate(568.34 1072.27) rotate(-43.86)" text-anchor="start" dy="5.4">Kp5014</text>
<text transform="translate(558.54 1061.82) rotate(-42.44)" text-anchor="start" dy="5.4">Kp4745</text>
<text transform="translate(549.01 1051.13) rotate(-41.03)" text-anchor="start" dy="5.4">Kp10372</text>
<text transform="translate(539.74 1040.21) rotate(-39.62)" text-anchor="start" dy="5.4">Kp6557</text>
<text transform="translate(530.75 1029.07) rotate(-38.2)" text-anchor="start" dy="5.4">Kp7021</text>
<text transform="translate(522.03 1017.7) rotate(-36.79)" text-anchor="start" dy="5.4">Kp3859</text>
<text transform="translate(513.59 1006.13) rotate(-35.38)" text-anchor="start" dy="5.4">Kp2709</text>
<text transform="translate(505.45 994.35) rotate(-33.96)" text-anchor="start" dy="5.4">Kp10521</text>
<text transform="translate(497.59 982.37) rotate(-32.55)" text-anchor="start" dy="5.4">Kp7238</text>
<text transform="translate(490.04 970.21) rotate(-31.14)" text-anchor="start" dy="5.4">Kp5622</text>
<text transform="translate(482.78 957.86) rotate(-29.72)" text-anchor="start" dy="5.4">Kp6320</text>
<text transform="translate(475.84 945.33) rotate(-28.31)" text-anchor="start" dy="5.4">Kp8267</text>
<text transform="translate(469.2 932.64) rotate(-26.9)" text-anchor="start" dy="5.4">Kp8142</text>
<text transform="translate(462.88 919.79) rotate(-25.48)" text-anchor="start" dy="5.4">Kp4289</text>
<text transform="translate(456.88 906.78) rotate(-24.07)" text-anchor="start" dy="5.4">Kp10318</text>
<text transform="translate(451.2 893.64) rotate(-22.66)" text-anchor="start" dy="5.4">Kp10482</text>
<text transform="translate(445.85 880.35) rotate(-21.24)" text-anchor="start" dy="5.4">Kp8236</text>
<text transform="translate(440.82 866.94) rotate(-19.83)" text-anchor="start" dy="5.4">Kp3094</text>
<text transform="translate(436.13 853.41) rotate(-18.41)" text-anchor="start" dy="5.4">Kp6020</text>
<text transform="translate(431.77 839.76) rotate(-17)" text-anchor="start" dy="5.4">Kp8894</text>
<text transform="translate(427.76 826.02) rotate(-15.59)" text-anchor="start" dy="5.4">Kp3976</text>
<text transform="translate(424.08 812.18) rotate(-14.17)" text-anchor="start" dy="5.4">Kp7998</text>
<text transform="translate(420.74 798.25) rotate(-12.76)" text-anchor="start" dy="5.4">Kp8324</text>
<text transform="translate(417.75 784.24) rotate(-11.35)" text-anchor="start" dy="5.4">Kp6966</text>
<text transform="translate(415.11 770.17) rotate(-9.93)" text-anchor="start" dy="5.4">Kp3430</text>
<text transform="translate(412.81 756.03) rotate(-8.52)" text-anchor="start" dy="5.4">Kp8833</text>
<text transform="translate(410.86 741.84) rotate(-7.11)" text-anchor="start" dy="5.4">Kp3155</text>
<text transform="translate(409.26 727.61) rotate(-5.69)" text-anchor="start" dy="5.4">Kp10653</text>
<text transform="translate(408.02 713.34) rotate(-4.28)" text-anchor="start" dy="5.4">Kp11667</text>
<text transform="translate(407.13 699.04) rotate(-2.87)" text-anchor="start" dy="5.4">Kp7360</text>
<text transform="translate(406.59 684.73) rotate(-1.45)" text-anchor="start" dy="5.4">Kp7031</text>
<text transform="translate(406.4 670.41) rotate(-0.04)" text-anchor="start" dy="5.4">Kp10430</text>
<text transform="translate(406.57 656.09) rotate(1.37)" text-anchor="start" dy="5.4">Kp5871</text>
<text transform="translate(407.09 641.78) rotate(2.79)" text-anchor="start" dy="5.4">Kp4113</text>
<text transform="translate(407.96 627.48) rotate(4.2)" text-anchor="start" dy="5.4">Kp4635</text>
<text transform="translate(409.18 613.21) rotate(5.61)" text-anchor="start" dy="5.4">Kp8544</text>
<text transform="translate(410.76 598.98) rotate(7.03)" text-anchor="start" dy="5.4">Kp7902</text>
<text transform="translate(412.69 584.79) rotate(8.44)" text-anchor="start" dy="5.4">Kp3577</text>
<text transform="translate(414.96 570.65) rotate(9.85)" text-anchor="start" dy="5.4">Kp8946</text>
<text transform="translate(417.59 556.57) rotate(11.27)" text-anchor="start" dy="5.4">Kp11488</text>
<text transform="translate(420.56 542.56) rotate(12.68)" text-anchor="start" dy="5.4">Kp8570</text>
<text transform="translate(423.88 528.62) rotate(14.09)" text-anchor="start" dy="5.4">Kp6079</text>
<text transform="translate(427.53 514.77) rotate(15.51)" text-anchor="start" dy="5.4">Kp9726</text>
<text transform="translate(431.53 501.02) rotate(16.92)" text-anchor="start" dy="5.4">Kp5138</text>
<text transform="translate(435.87 487.37) rotate(18.33)" text-anchor="start" dy="5.4">Kp5994</text>
<text transform="translate(440.54 473.83) rotate(19.75)" text-anchor="start" dy="5.4">Kp3967</text>
<text transform="translate(445.55 460.41) rotate(21.16)" text-anchor="start" dy="5.4">Kp4938</text>
<text transform="translate(450.88 447.12) rotate(22.57)" text-anchor="start" dy="5.4">Kp4705</text>
<text transform="translate(456.54 433.97) rotate(23.99)" text-anchor="start" dy="5.4">Kp9085</text>
<text transform="translate(462.53 420.95) rotate(25.4)" text-anchor="start" dy="5.4">Kp10300</text>
<text transform="translate(468.83 408.09) rotate(26.81)" text-anchor="start" dy="5.4">Kp4433</text>
<text transform="translate(475.45 395.39) rotate(28.23)" text-anchor="start" dy="5.4">Kp9030</text>
<text transform="translate(482.38 382.86) rotate(29.64)" text-anchor="start" dy="5.4">Kp3773</text>
<text transform="translate(489.61 370.5) rotate(31.05)" text-anchor="start" dy="5.4">Kp4140</text>
<text transform="translate(497.15 358.32) rotate(32.47)" text-anchor="start" dy="5.4">Kp8152</text>
<text transform="translate(504.99 346.33) rotate(33.88)" text-anchor="start" dy="5.4">Kp10918</text>
<text transform="translate(513.12 334.54) rotate(35.29)" text-anchor="start" dy="5.4">Kp6973</text>
<text transform="translate(521.54 322.96) rotate(36.71)" text-anchor="start" dy="5.4">Kp3604</text>
<text transform="translate(530.24 311.58) rotate(38.12)" text-anchor="start" dy="5.4">Kp3747</text>
<text transform="translate(539.22 300.42) rotate(39.53)" text-anchor="start" dy="5.4">Kp9001</text>
<text transform="translate(548.47 289.49) rotate(40.95)" text-anchor="start" dy="5.4">Kp9457</text>
<text transform="translate(557.99 278.79) rotate(42.36)" text-anchor="start" dy="5.4">Kp4505</text>
<text transform="translate(567.77 268.33) rotate(43.77)" text-anchor="start" dy="5.4">Kp3567</text>
<text transform="translate(577.8 258.11) rotate(45.19)" text-anchor="start" dy="5.4">Kp4677</text>
<text transform="translate(588.09 248.14) rotate(46.6)" text-anchor="start" dy="5.4">Kp10193</text>
<text transform="translate(598.62 238.43) rotate(48.01)" text-anchor="start" dy="5.4">Kp11436</text>
<text transform="translate(609.38 228.98) rotate(49.43)" text-anchor="start" dy="5.4">Kp9861</text>
<text transform="translate(620.37 219.8) rotate(50.84)" text-anchor="start" dy="5.4">Kp6181</text>
<text transform="translate(631.59 210.89) rotate(52.26)" text-anchor="start" dy="5.4">Kp11628</text>
<text transform="translate(643.02 202.27) rotate(53.67)" text-anchor="start" dy="5.4">Kp8293</text>
<text transform="translate(654.66 193.92) rotate(55.08)" text-anchor="start" dy="5.4">Kp9311</text>
<text transform="translate(666.51 185.87) rotate(56.5)" text-anchor="start" dy="5.4">Kp3874</text>
<text transform="translate(678.55 178.11) rotate(57.91)" text-anchor="start" dy="5.4">Kp4712</text>
<text transform="translate(690.77 170.65) rotate(59.32)" text-anchor="start" dy="5.4">Kp6959</text>
<text transform="translate(703.18 163.5) rotate(60.74)" text-anchor="start" dy="5.4">Kp9421</text>
<text transform="translate(715.76 156.65) rotate(62.15)" text-anchor="start" dy="5.4">Kp10262</text>
<text transform="translate(728.5 150.12) rotate(63.56)" text-anchor="start" dy="5.4">Kp4956</text>
<text transform="translate(741.41 143.9) rotate(64.98)" text-anchor="start" dy="5.4">Kp2837</text>
<text transform="translate(754.46 138) rotate(66.39)" text-anchor="start" dy="5.4">Kp10197</text>
<text transform="translate(767.65 132.43) rotate(67.8)" text-anchor="start" dy="5.4">Kp4341</text>
<text transform="translate(780.98 127.18) rotate(69.22)" text-anchor="start" dy="5.4">Kp3360</text>
<text transform="translate(794.43 122.27) rotate(70.63)" text-anchor="start" dy="5.4">Kp8526</text>
<text transform="translate(808 117.68) rotate(72.04)" text-anchor="start" dy="5.4">Kp9161</text>
<text transform="translate(821.68 113.44) rotate(73.46)" text-anchor="start" dy="5.4">Kp6051</text>
<text transform="translate(835.45 109.53) rotate(74.87)" text-anchor="start" dy="5.4">Kp7307</text>
</g>
<g id="dashes" stroke="#000" stroke-width="1.5" fill="none">
<path d="M987 149.47L987 158.17M987 170.57L987 179.27M987 191.67L987 200.37M987 212.77L987 221.47M987 233.87L987 242.57M987 254.97L987 263.67M987 276.07L987 284.77M987 297.17L987 305.87M999.84 149.63L999.62 158.33M999.32 170.73L999.1 179.42M998.8 191.82L998.58 200.52M998.28 212.91L998.06 221.61M997.76 234.01L997.54 242.7M997.24 255.1L997.02 263.8M996.72 276.19L996.5 284.89M996.2 297.29L995.98 305.98M1012.24 158.77L1011.81 167.46M1011.2 179.84L1010.77 188.53M1010.16 200.92L1009.73 209.61M1009.12 221.99L1008.69 230.68M1008.08 243.07L1007.65 251.76M1007.04 264.14L1006.61 272.83M1006 285.22L1005.57 293.9M1024.85 159.55L1024.2 168.22M1023.29 180.59L1022.64 189.27M1021.73 201.63L1021.08 210.31M1020.17 222.67L1019.52 231.35M1018.6 243.72L1017.96 252.39M1017.04 264.76L1016.4 273.44M1015.48 285.8L1014.84 294.48M1038.28 152.01L1037.42 160.66M1036.2 173L1035.34 181.66M1034.12 194L1033.26 202.66M1032.04 215L1031.19 223.65M1029.96 235.99L1029.11 244.65M1027.89 256.99L1027.03 265.65M1025.81 277.99L1024.95 286.65M1023.73 298.99L1023.49 301.4M1051.04 153.43L1049.97 162.06M1048.44 174.37L1047.37 183M1045.85 195.31L1044.78 203.94M1043.25 216.25L1042.18 224.88M1040.66 237.19L1039.59 245.82M1038.06 258.13L1036.99 266.76M1035.46 279.07L1034.39 287.7M1032.87 300.01L1031.8 308.64M1030.27 320.95L1030.16 321.87M1062.48 163.74L1061.2 172.35M1059.37 184.61L1058.09 193.22M1056.26 205.48L1054.98 214.09M1053.15 226.35L1051.87 234.96M1050.04 247.22L1048.75 255.83M1046.93 268.09L1045.64 276.69M1043.81 288.96L1043.57 290.59M1076.44 157.21L1074.94 165.79M1072.81 178L1071.32 186.57M1069.19 198.79L1067.69 207.36M1065.56 219.57L1064.07 228.14M1061.94 240.36L1060.44 248.93M1058.31 261.15L1056.82 269.72M1089.06 159.58L1087.35 168.11M1084.92 180.27L1083.22 188.8M1080.79 200.96L1079.08 209.49M1076.65 221.65L1074.94 230.18M1072.51 242.34L1070.81 250.87M1068.37 263.03L1066.67 271.56M1099.71 170.71L1097.79 179.2M1095.06 191.29L1093.15 199.78M1090.42 211.87L1088.5 220.36M1085.77 232.46L1083.85 240.94M1081.12 253.04L1079.21 261.52M1076.48 273.62L1075.96 275.92M1114.11 165.23L1111.98 173.67M1108.96 185.69L1106.83 194.13M1103.8 206.15L1101.68 214.59M1098.65 226.61L1096.53 235.05M1093.5 247.08L1091.37 255.51M1088.35 267.54L1086.22 275.97M1126.52 168.52L1124.19 176.9M1120.86 188.85L1118.53 197.23M1115.21 209.18L1112.88 217.56M1109.55 229.5L1107.22 237.89M1103.9 249.83L1101.57 258.21M1098.24 270.16L1095.91 278.54M1138.85 172.11L1136.31 180.44M1132.69 192.3L1130.15 200.62M1126.54 212.48L1124 220.8M1120.38 232.66L1117.84 240.98M1114.23 252.84L1111.69 261.16M1108.07 273.02L1105.53 281.35M1151.08 176.01L1148.34 184.27M1144.43 196.03L1141.69 204.29M1137.78 216.06L1135.04 224.32M1131.13 236.08L1128.39 244.34M1124.48 256.11L1121.73 264.36M1117.83 276.13L1115.08 284.39M1163.22 180.21L1160.27 188.39M1156.07 200.06L1153.13 208.25M1148.93 219.92L1145.98 228.1M1141.79 239.77L1138.84 247.96M1134.64 259.62L1131.7 267.81M1127.5 279.48L1124.56 287.67M1175.24 184.7L1172.1 192.81M1167.61 204.38L1164.47 212.49M1159.98 224.05L1156.84 232.16M1152.35 243.72L1149.21 251.83M1144.72 263.39L1141.57 271.5M1137.09 283.06L1135.67 286.72M1187.16 189.49L1183.81 197.53M1179.04 208.97L1175.7 217M1170.93 228.45L1167.58 236.48M1162.82 247.93L1159.47 255.96M1154.7 267.41L1151.36 275.44M1146.59 286.88L1145.5 289.49M1198.95 194.58L1195.41 202.52M1190.36 213.85L1186.81 221.8M1181.77 233.12L1178.22 241.07M1173.17 252.39L1169.63 260.34M1164.58 271.66L1161.04 279.61M1155.99 290.94L1153.37 296.81M1206.88 207.78L1203.15 215.64M1197.82 226.84L1194.08 234.69M1218.22 213.35L1214.29 221.11M1208.69 232.17L1207.62 234.27M1233.52 211.55L1229.4 219.21M1223.53 230.13L1220.39 235.97M1244.75 217.77L1240.44 225.33M1234.3 236.1L1231.82 240.47M1255.83 224.27L1251.34 231.72M1244.93 242.33L1243.58 244.58M1266.74 231.03L1262.07 238.37M1255.4 248.83L1254.04 250.96M1277.48 238.07L1272.63 245.29M1265.71 255.57L1264.75 257.01M1288.05 245.36L1283.02 252.46M1275.85 262.58L1275.48 263.09M1298.43 252.92L1293.23 259.89M1308.63 260.73L1303.25 267.57M1318.62 268.78L1313.08 275.49M1328.42 277.09L1322.71 283.65M1338.01 285.63L1332.14 292.05M1341.37 300.66L1335.8 306.47M1356.53 303.4L1350.36 309.53M1365.46 312.63L1359.92 317.87M1374.16 322.08L1367.69 327.89M1382.63 331.73L1376.02 337.38M1384.12 347.06L1383.15 347.86M1398.83 351.65L1391.95 356.97M1406.56 361.91L1399.54 367.06M1414.03 372.35L1406.89 377.33M1421.24 382.97L1415.96 386.46M1428.19 393.77L1421.38 398.03M1441.27 415.87L1434.44 419.69M1439.73 431.2L1439.24 431.45M1453.25 438.58L1445.46 442.45M1458.82 450.15L1451.45 453.58M1464.1 461.86L1456.13 465.33M1469.09 473.69L1461.03 476.97M1465.67 488.71L1460.39 490.71M1478.18 497.7L1473.25 499.43M1481.2 536.75L1478.93 537.36M1492.77 546.93L1484.31 548.98M1487.17 561.28L1480.77 562.67M1498.22 572.02L1489.68 573.66M1500.48 584.66L1491.9 586.09M1493.84 598.56L1490.62 599.02M1504.07 610.09L1495.43 611.09M1505.39 622.86L1496.72 623.65M1506.39 635.66L1497.71 636.23M1485.34 637.05L1476.66 637.63M1464.28 638.44L1455.6 639.02M1443.23 639.84L1434.55 640.41M1507.08 648.48L1498.39 648.84M1486 649.35L1477.31 649.71M1464.92 650.23L1456.23 650.59M1498.78 661.46L1490.08 661.61M1477.68 661.81L1468.99 661.96M1456.59 662.17L1450.04 662.27M1507.51 674.16L1498.81 674.09M1486.41 673.99L1477.71 673.92M1465.31 673.82L1456.61 673.75M1507.25 686.99L1498.55 686.71M1486.16 686.31L1477.47 686.02M1465.07 685.62L1456.38 685.33M1506.67 699.82L1497.99 699.32M1485.61 698.61L1476.92 698.11M1464.54 697.4L1455.86 696.91M1505.78 712.63L1497.11 711.92M1484.75 710.9L1476.08 710.19M1463.72 709.18L1455.05 708.46M1504.57 725.41L1495.92 724.49M1483.59 723.17L1474.94 722.24M1462.61 720.92L1453.96 720M1503.04 738.16L1494.42 737.02M1482.13 735.4L1473.5 734.26M1461.21 732.64L1452.58 731.5M1501.21 750.87L1492.61 749.52M1480.36 747.59L1471.77 746.24M1459.52 744.32L1451.79 743.1M1499.05 763.53L1490.5 761.97M1478.3 759.74L1469.74 758.18M1457.54 755.95L1448.98 754.38M1496.59 776.13L1488.07 774.36M1475.94 771.83L1467.42 770.06M1455.28 767.53L1446.76 765.75M1493.82 788.67L1485.35 786.69M1473.27 783.86L1464.8 781.88M1452.73 779.05L1446.08 777.49M1490.74 801.14L1482.32 798.94M1470.32 795.82L1461.9 793.63M1449.9 790.5L1444.36 789.06M1487.35 813.52L1478.99 811.12M1467.07 807.7L1458.71 805.3M1446.79 801.88L1439.74 799.86M1483.66 825.82L1475.36 823.21M1463.53 819.5L1455.22 816.9M1443.39 813.19L1437.83 811.44M1479.66 838.02L1471.43 835.21M1459.69 831.21L1451.46 828.4M1439.72 824.4L1433.64 822.33M1475.37 850.12L1467.21 847.11M1455.57 842.82L1447.41 839.81M1435.78 835.52L1430.12 833.43M1470.78 862.11L1462.69 858.9M1451.17 854.33L1443.08 851.12M1431.56 846.54L1423.91 843.5M1457.91 870.59L1449.91 867.18M1438.5 862.32L1430.5 858.91M1460.71 885.74L1452.8 882.13M1441.51 876.99L1433.59 873.39M1447.45 893.57L1439.62 889.77M1428.47 884.35L1423.29 881.84M1441.79 904.86L1434.06 900.87M1423.04 895.18L1415.31 891.18M1443.47 920.17L1435.84 915.99M1424.96 910.03L1417.33 905.85M1406.46 899.89L1403.54 898.29M1437.16 931.36L1429.63 926.99M1418.91 920.76L1411.39 916.39M1400.66 910.17L1397.35 908.25M1430.57 942.38L1423.16 937.83M1412.59 931.34L1405.18 926.79M1394.61 920.3L1392.12 918.77M1416.44 948.52L1409.14 943.78M1398.74 937.04L1391.44 932.3M1416.6 963.92L1409.42 959.01M1399.19 952.01L1392.01 947.1M1381.77 940.1L1379.11 938.27M1409.22 974.43L1402.16 969.34M1392.1 962.09L1385.05 957M1374.99 949.75L1372.62 948.04M1401.58 984.75L1394.65 979.49M1384.78 971.99L1377.85 966.73M1367.97 959.24L1364.13 956.32M1393.69 994.88L1386.89 989.45M1377.21 981.71L1370.41 976.28M1360.72 968.54L1353.92 963.11M1385.56 1004.82L1378.89 999.22M1369.4 991.24L1362.74 985.65M1353.24 977.67L1346.58 972.08M1370.67 1008.8L1364.15 1003.05M1354.86 994.84L1348.34 989.08M1339.04 980.87L1337.35 979.38M1368.56 1024.06L1362.18 1018.15M1353.09 1009.71L1346.71 1003.79M1337.62 995.36L1331.25 989.44M1359.71 1033.37L1353.48 1027.3M1344.6 1018.64L1338.37 1012.57M1329.49 1003.91L1323.26 997.84M1344.57 1036.24L1338.5 1030.02M1329.83 1021.15L1323.76 1014.92M1341.33 1051.31L1335.41 1044.93M1326.97 1035.85L1321.05 1029.48M1312.61 1020.39L1307.55 1014.95M1331.82 1059.93L1326.06 1053.41M1317.84 1044.12L1312.08 1037.61M1303.87 1028.32L1298.1 1021.8M1316.51 1061.68L1310.91 1055.02M1302.93 1045.53L1297.33 1038.88M1312.17 1076.46L1306.74 1069.67M1298.99 1059.99L1293.56 1053.19M1285.81 1043.51L1283.36 1040.44M1302.05 1084.36L1296.78 1077.43M1289.28 1067.56L1284.01 1060.64M1276.51 1050.77L1271.24 1043.84M1291.73 1092L1286.64 1084.95M1279.38 1074.9L1274.28 1067.84M1281.23 1099.39L1276.31 1092.22M1269.3 1081.99L1264.38 1074.81M1270.55 1106.52L1265.81 1099.22M1259.05 1088.82L1254.31 1081.53M1247.56 1071.13L1247.22 1070.6M1259.69 1113.38L1255.14 1105.97M1248.64 1095.41L1244.08 1088M1237.59 1077.43L1237.26 1076.9M1248.68 1119.97L1244.3 1112.45M1238.07 1101.73L1233.69 1094.21M1237.5 1126.29L1233.31 1118.66M1227.34 1107.79L1223.16 1100.17M1226.17 1132.33L1222.17 1124.6M1216.47 1113.59L1212.47 1105.86M1206.78 1094.85L1203.27 1088.07M1214.69 1138.09L1210.88 1130.26M1205.46 1119.11L1201.65 1111.29M1196.23 1100.14L1192.42 1092.32M1203.07 1143.56L1199.46 1135.65M1194.32 1124.37L1190.7 1116.45M1185.56 1105.17L1182.14 1097.68M1191.33 1148.75L1187.91 1140.75M1183.04 1129.34L1179.63 1121.34M1174.76 1109.93L1172.24 1104.02M1176.25 1145.58L1173.03 1137.5M1168.45 1125.98L1165.23 1117.89M1167.47 1158.24L1164.45 1150.08M1160.15 1138.45L1157.14 1130.29M1152.84 1118.66L1149.82 1110.5M1155.37 1162.54L1152.56 1154.31M1148.55 1142.58L1145.73 1134.35M1141.72 1122.61L1138.91 1114.38M1143.17 1166.55L1140.56 1158.25M1136.84 1146.42L1134.23 1138.12M1130.51 1126.29L1128.13 1118.73M1130.87 1170.25L1128.47 1161.89M1125.04 1149.97L1122.64 1141.61M1119.21 1129.69L1116.81 1121.33M1118.49 1173.64L1116.29 1165.23M1113.16 1153.23L1110.96 1144.81M1107.83 1132.81L1107.24 1130.56M1106.03 1176.73L1104.04 1168.27M1101.2 1156.19L1099.21 1147.72M1096.38 1135.65L1096.12 1134.56M1091.72 1171.03L1089.94 1162.51M1087.4 1150.37L1085.62 1141.86M1079.33 1173.46L1077.76 1164.9M1075.52 1152.7L1073.95 1144.15M1068.24 1184.15L1066.88 1175.56M1064.94 1163.31L1063.59 1154.71M1061.65 1142.47L1060.29 1133.87M1054.39 1177.4L1053.24 1168.77M1051.61 1156.48L1050.46 1147.86M1042.78 1187.53L1041.85 1178.88M1040.52 1166.55L1039.59 1157.9M1038.26 1145.57L1037.99 1143.06M1030 1188.75L1029.28 1180.08M1028.26 1167.72L1027.54 1159.05M1026.51 1146.69L1025.92 1139.59M1017.19 1189.65L1016.69 1180.97M1015.97 1168.59L1015.46 1159.9M1014.74 1147.52L1014.32 1140.21M1004.36 1190.24L1004.07 1181.54M1003.66 1169.15L1003.37 1160.45M991.45 1181.83L991.37 1173.13M991.27 1160.73L991.19 1152.03M978.69 1190.46L978.82 1181.76M979.02 1169.36L979.16 1160.66M979.36 1148.27L979.42 1144.44M965.85 1190.1L966.2 1181.4M966.71 1169.01L967.06 1160.32M967.57 1147.93L967.92 1139.24M953.03 1189.42L953.6 1180.74M954.41 1168.36L954.97 1159.68M955.78 1147.31L956.35 1138.63M940.23 1188.42L941.01 1179.76M942.12 1167.41L942.9 1158.74M944.02 1146.39L944.8 1137.73M927.45 1187.11L928.45 1178.47M929.87 1166.15L930.86 1157.51M932.28 1145.19L933.18 1137.41M915.92 1176.89L917.13 1168.28M918.85 1156L920.06 1147.38M902.02 1183.54L903.44 1174.96M905.47 1162.73L906.89 1154.14M908.91 1141.91L910.33 1133.33M889.38 1181.29L891.01 1172.75M893.34 1160.57L894.97 1152.02M897.3 1139.84L898.93 1131.29M876.8 1178.73L878.64 1170.23M881.27 1158.11L883.11 1149.6M885.73 1137.48L887.58 1128.98M864.29 1175.86L866.34 1167.4M869.26 1155.35L871.31 1146.9M874.23 1134.84L876.29 1126.39M851.85 1172.67L854.1 1164.27M857.32 1152.3L859.58 1143.9M862.8 1131.92L865.06 1123.52M841.95 1160.87L844.41 1152.53M847.93 1140.63L850.39 1132.29M829.88 1157.14L832.55 1148.86M836.36 1137.06L839.03 1128.78M815.05 1161.31L817.92 1153.09M822.02 1141.39L824.89 1133.18M828.99 1121.47L831.84 1113.33M802.98 1156.91L806.06 1148.78M810.44 1137.18L813.52 1129.04M817.9 1117.44L819.54 1113.11M794.29 1144.19L797.57 1136.13M802.24 1124.64L805.51 1116.58M779.19 1147.25L782.67 1139.27M787.62 1127.9L791.09 1119.92M796.04 1108.56L797.89 1104.31M767.49 1141.98L771.15 1134.09M776.38 1122.84L780.05 1114.96M785.28 1103.71L785.55 1103.14M755.91 1136.42L759.77 1128.62M765.28 1117.51L769.14 1109.72M774.65 1098.6L775.28 1097.33M744.48 1130.58L748.53 1122.88M754.31 1111.91L758.36 1104.21M733.19 1124.45L737.43 1116.86M743.48 1106.03L747.72 1098.44M753.77 1087.61L754.07 1087.06M722.06 1118.06L726.49 1110.57M732.8 1099.89L737.22 1092.4M711.09 1111.38L715.7 1104.01M722.27 1093.49L726.88 1086.11M700.28 1104.44L705.07 1097.18M711.9 1086.83L716.7 1079.57M723.53 1069.22L727.18 1063.69M689.65 1097.24L694.62 1090.1M701.71 1079.92L706.68 1072.78M713.76 1062.6L715.26 1060.45M679.21 1089.77L684.35 1082.76M691.68 1072.76L696.83 1065.74M704.16 1055.74L704.83 1054.83M668.95 1082.06L674.26 1075.17M681.84 1065.35L687.15 1058.47M658.88 1074.08L664.36 1067.33M672.18 1057.7L677.66 1050.95M685.48 1041.32L690.96 1034.57M649.01 1065.87L654.66 1059.25M662.71 1049.82L668.36 1043.2M676.41 1033.77L682.06 1027.16M645.14 1050.96L650.95 1044.48M659.23 1035.25L665.05 1028.78M629.9 1048.72L635.87 1042.39M644.37 1033.37L650.34 1027.04M658.85 1018.01L664.82 1011.68M620.67 1039.79L626.79 1033.61M635.52 1024.8L641.64 1018.62M650.37 1009.81L656.49 1003.63M611.66 1030.65L617.93 1024.62M626.87 1016.03L633.15 1010M642.09 1001.41L646.14 997.51M602.88 1021.28L609.3 1015.41M618.45 1007.04L624.87 1001.17M634.02 992.8L638.24 988.93M600.87 1006L607.43 1000.29M616.79 992.15L623.35 986.44M586.02 1001.91L592.72 996.36M602.27 988.45L608.97 982.91M618.53 975L624.25 970.26M577.95 991.92L584.79 986.53M594.53 978.87L601.37 973.49M611.12 965.82L617.95 960.44M570.14 981.73L577.11 976.52M587.04 969.09L594 963.88M603.93 956.46L609.08 952.61M562.58 971.35L569.67 966.31M579.78 959.14L586.87 954.1M596.98 946.92L601.16 943.95M562.47 955.94L569.68 951.08M579.97 944.16L587.18 939.3M548.23 950.05L555.56 945.37M566.02 938.7L573.35 934.02M583.8 927.35L586.27 925.77M541.46 939.14L548.9 934.65M559.52 928.23L566.96 923.74M577.58 917.32L583.3 913.87M534.95 928.07L542.51 923.76M553.28 917.61L560.83 913.3M571.6 907.15L574.72 905.37M528.72 916.84L536.38 912.72M547.3 906.84L554.96 902.71M565.88 896.83L571.18 893.97M522.78 905.47L530.53 901.53M541.59 895.92L549.35 891.99M560.41 886.38L566.32 883.38M517.11 893.94L524.96 890.2M536.16 884.87L544.01 881.12M555.2 875.79L558.12 874.4M519.65 878.75L527.59 875.2M538.91 870.14L546.86 866.59M514.64 867.16L522.67 863.81M534.11 859.03L542.14 855.68M501.84 858.59L509.95 855.44M521.5 850.94L529.61 847.79M541.17 843.3L547.63 840.79M497.33 846.56L505.52 843.61M517.18 839.41L525.37 836.46M537.03 832.25L545.22 829.3M493.13 834.43L501.38 831.68M513.15 827.77L521.4 825.02M533.17 821.1L540.21 818.75M489.22 822.2L497.54 819.66M509.4 816.03L517.72 813.49M529.58 809.86L536.87 807.63M485.62 809.87L494 807.54M505.94 804.21L514.32 801.87M526.27 798.54L534.65 796.2M482.32 797.47L490.76 795.33M502.78 792.3L511.21 790.17M523.24 787.13L527.43 786.07M479.33 784.98L487.82 783.06M499.91 780.32L508.39 778.4M520.49 775.66L526.07 774.39M476.65 772.42L485.18 770.71M497.34 768.27L505.87 766.56M474.28 759.8L482.85 758.3M495.06 756.16L503.63 754.66M515.85 752.52L522.96 751.27M472.22 747.13L480.82 745.84M493.09 744L501.69 742.71M513.95 740.87L517.54 740.34M470.47 734.41L479.11 733.33M491.41 731.8L500.04 730.72M512.35 729.18L518.63 728.4M477.67 720.79L486.33 719.92M498.67 718.69L507.33 717.83M476.57 708.21L485.25 707.56M497.62 706.63L506.29 705.98M467.12 696.04L475.81 695.6M488.2 694.98L496.89 694.55M509.27 693.93L517.49 693.52M466.64 683.21L475.34 682.99M487.73 682.67L496.43 682.45M508.83 682.14L512.15 682.05M475.15 670.36L483.85 670.36M496.25 670.35L504.95 670.34M466.62 657.53L475.32 657.74M487.72 658.03L496.41 658.24M508.81 658.54L512.14 658.62M467.09 644.7L475.78 645.12M488.16 645.72L496.85 646.15M509.24 646.75L517.93 647.17M467.87 631.88L476.55 632.52M488.91 633.43L497.59 634.06M509.96 634.97L518.63 635.61M468.97 619.09L477.63 619.94M489.97 621.15L498.63 622M510.97 623.22L518.46 623.95M470.38 606.33L479.02 607.39M491.32 608.91L499.96 609.97M512.27 611.49L519.54 612.38M472.11 593.6L480.72 594.88M492.98 596.7L501.59 597.98M513.85 599.8L522.46 601.07M474.15 580.93L482.72 582.41M494.94 584.54L503.51 586.02M515.73 588.15L524.3 589.64M485.01 570L493.54 571.7M505.7 574.12L514.24 575.82M526.4 578.24L529.98 578.96M479.17 555.74L487.66 557.65M499.75 560.37L508.24 562.28M520.34 565L528.83 566.91M482.14 543.25L490.58 545.37M502.61 548.39L511.04 550.51M523.07 553.53L523.68 553.68M485.42 530.84L493.8 533.16M505.75 536.48L514.14 538.8M526.08 542.12L529.1 542.95M489.01 518.51L497.33 521.04M509.19 524.65L517.52 527.18M529.38 530.79L537.7 533.32M492.89 506.27L501.15 509.01M512.92 512.91L521.18 515.64M532.95 519.54L541.21 522.28M497.08 494.13L505.27 497.07M516.94 501.26L525.13 504.2M536.8 508.39L544.99 511.33M501.57 482.1L509.68 485.24M521.25 489.72L529.36 492.86M540.93 497.33L546.64 499.55M506.35 470.18L514.39 473.52M525.84 478.28L533.87 481.62M545.32 486.38L548.67 487.78M511.43 458.39L519.38 461.93M530.71 466.97L538.65 470.5M549.98 475.54L552.11 476.49M524.63 450.44L532.49 454.18M543.69 459.49L551.55 463.23M522.44 435.19L530.21 439.12M541.27 444.71L549.04 448.64M560.1 454.23L566.11 457.26M528.38 423.81L536.04 427.92M546.97 433.79L554.63 437.9M565.56 443.76L573.22 447.88M534.59 412.57L542.15 416.87M552.93 423L560.49 427.31M571.27 433.44L578.83 437.74M541.08 401.49L548.53 405.97M559.15 412.37L566.6 416.86M577.23 423.26L584.68 427.74M547.83 390.57L555.17 395.24M565.64 401.9L572.98 406.57M583.44 413.22L590.78 417.89M562.06 384.66L569.28 389.51M579.58 396.42L586.8 401.27M597.1 408.18L598.05 408.83M562.15 369.25L569.25 374.28M579.37 381.44L586.47 386.47M596.59 393.63L597.84 394.52M569.7 358.86L576.67 364.06M586.61 371.48L593.59 376.68M603.53 384.09L605.31 385.42M577.5 348.66L584.34 354.04M594.1 361.69L600.94 367.06M610.7 374.72L616.38 379.18M585.55 338.66L592.26 344.2M601.82 352.09L608.53 357.63M618.1 365.52L620.43 367.45M593.84 328.86L600.41 334.56M609.78 342.69L616.35 348.39M625.72 356.52L627.25 357.85M602.38 319.27L608.81 325.13M617.97 333.48L624.4 339.35M633.56 347.7L639.27 352.91M611.15 309.89L617.43 315.91M626.38 324.48L632.66 330.5M641.62 339.08L647.49 344.7M620.14 300.72L626.27 306.9M635.01 315.69L641.15 321.87M649.88 330.66L652.3 333.09M635.32 298.09L641.3 304.41M649.82 313.42L655.8 319.74M644.6 289.53L650.42 296M658.72 305.21L664.54 311.68M648.45 274.61L654.11 281.22M662.17 290.64L667.83 297.25M658.31 266.38L663.8 273.13M671.63 282.74L677.12 289.49M684.95 299.1L687.43 302.15M673.67 265.25L679 272.13M686.59 281.94L691.91 288.82M678.61 250.66L683.77 257.67M691.11 267.66L696.27 274.67M703.61 284.66L707.6 290.08M689.05 243.18L694.03 250.32M701.13 260.48L706.11 267.62M713.2 277.79L716.88 283.06M699.67 235.96L704.47 243.22M711.31 253.56L716.12 260.81M722.96 271.15L726.73 276.84M710.46 229.01L715.08 236.38M721.67 246.88L726.29 254.25M732.88 264.76L736.51 270.54M721.42 222.32L725.86 229.8M732.19 240.47L736.63 247.95M742.95 258.62L746.13 263.97M732.55 215.91L736.8 223.5M742.86 234.31L747.11 241.9M753.17 252.72L756.56 258.76M747.88 217.44L751.94 225.13M757.73 236.09L761.8 243.79M755.25 203.91L759.12 211.7M764.64 222.8L768.52 230.59M774.04 241.7L774.63 242.88M766.82 198.34L770.5 206.22M775.74 217.45L779.42 225.34M781.99 201L785.48 208.97M790.44 220.33L793.93 228.3M790.35 188.05L793.63 196.11M798.32 207.59L801.6 215.64M806.29 227.12L808.98 233.72M802.29 183.35L805.38 191.48M809.78 203.07L812.87 211.21M817.27 222.8L819.44 228.53M814.35 178.94L817.24 187.15M821.35 198.84L824.24 207.05M828.35 218.75L830.48 224.81M826.52 174.83L829.2 183.11M833.02 194.9L835.71 203.18M839.53 214.97L841.29 220.42M838.78 171.02L841.26 179.36M844.79 191.25L847.27 199.59M850.8 211.47L852.66 217.73M851.13 167.52L853.4 175.92M856.64 187.89L858.91 196.28M862.15 208.25L863.49 213.2"/>
</g>
<g id="treea" fill="none" stroke-width="2" stroke-linecap="butt">
<path stroke="#b3b3ff" d="M1448.44 662.3A461.5 461.5 0 0 1 1448.49 673.69M1448.44 662.3L1450.04 662.27M1448.49 673.69L1450.09 673.7M1420.23 652.08A433.6 433.6 0 0 1 1420.6 668.11M1420.23 652.08L1452.9 650.72M1420.6 668.11L1448.5 667.99M1444.76 684.95A458 458 0 0 1 1443.46 707.51M1444.76 684.95L1445.96 684.99M1444.25 696.24L1446.54 696.37M1443.46 707.51L1445.45 707.67M1414.59 660.23A427.7 427.7 0 0 1 1414 694.5M1414.59 660.23L1420.49 660.09M1414 694.5L1444.25 696.24M1445.42 753.73A466 466 0 0 1 1443.21 765.01M1445.42 753.73L1446.69 753.97M1443.21 765.01L1445.46 765.48M1446.16 742.21A464.8 464.8 0 0 1 1443.17 759.15M1446.16 742.21L1451.79 743.1M1443.17 759.15L1444.35 759.38M1443.44 730.29A460.4 460.4 0 0 1 1440.41 749.93M1443.44 730.29L1450.67 731.25M1440.41 749.93L1444.74 750.7M1440.73 776.24A466 466 0 0 1 1437.97 787.4M1440.73 776.24L1446.08 777.49M1437.97 787.4L1444.36 789.06M1439.66 739.76A458 458 0 0 1 1431.62 779.91M1439.66 739.76L1442.03 740.13M1431.62 779.91L1439.38 781.83M1418.73 716.22A434.2 434.2 0 0 1 1412.75 755.25M1418.73 716.22L1450.65 719.64M1412.75 755.25L1436.09 759.92M1424.21 831.25A466 466 0 0 1 1420.1 841.99M1424.21 831.25L1430.12 833.43M1420.1 841.99L1423.91 843.5M1423.51 818.87A461.2 461.2 0 0 1 1417.71 834.92M1423.51 818.87L1433.64 822.33M1417.71 834.92L1422.19 836.63M1415.37 865.09A470.7 470.7 0 0 1 1410.43 875.59M1415.37 865.09L1424.2 869.11M1410.43 875.59L1423.29 881.84M1409.93 850.15A459.7 459.7 0 0 1 1402.98 865.67M1409.93 850.15L1426.12 857.05M1402.98 865.67L1412.93 870.36M1371.48 947.22A474 474 0 0 1 1364.53 956.62M1371.48 947.22L1372.62 948.04M1377.38 937.09A473 473 0 0 1 1367.23 951.35M1377.38 937.09L1379.11 938.27M1367.23 951.35L1368.03 951.94M1382.59 926.56A471.5 471.5 0 0 1 1371.15 943.39M1382.59 926.56L1386.19 928.9M1371.15 943.39L1372.37 944.26M1388.11 916.31A470.7 470.7 0 0 1 1376.3 934.59M1388.11 916.31L1392.12 918.77M1376.3 934.59L1376.96 935.04M1392.08 905.18A468.4 468.4 0 0 1 1380.38 924.27M1392.08 905.18L1397.35 908.25M1380.38 924.27L1382.31 925.52M1396.09 894.21A466.5 466.5 0 0 1 1384.72 913.8M1396.09 894.21L1403.54 898.29M1384.72 913.8L1386.34 914.8M1399.18 882.86A463.9 463.9 0 0 1 1388.28 902.77M1399.18 882.86L1408.78 887.81M1388.28 902.77L1390.52 904.07M1404.06 856.84A457 457 0 0 1 1387.8 889.56M1404.06 856.84L1406.52 857.94M1387.8 889.56L1393.85 892.88M1415.61 825.08A455.8 455.8 0 0 1 1395.18 872.83M1415.61 825.08L1420.68 826.92M1395.18 872.83L1396.26 873.36M1415.7 804.5A449.3 449.3 0 0 1 1400.1 846.69M1415.7 804.5L1437.83 811.44M1400.1 846.69L1406.07 849.25M1409.94 791.32A440 440 0 0 1 1399.7 822.57M1409.94 791.32L1439.74 799.86M1399.7 822.57L1408.43 825.79M1333.12 946.5A443 443 0 0 1 1326.19 954.95M1333.12 946.5L1351.64 961.29M1326.19 954.95L1345.87 971.48M1326.02 984.59A462.5 462.5 0 0 1 1318.16 992.86M1326.02 984.59L1328.52 986.91M1318.16 992.86L1321.02 995.65M1330.31 973.16A458 458 0 0 1 1318.86 985.65M1330.31 973.16L1337.35 979.38M1318.86 985.65L1322.12 988.75M1323.73 945.86A435.3 435.3 0 0 1 1307.9 964.12M1323.73 945.86L1329.68 950.74M1307.9 964.12L1324.64 979.46M1295.36 985.83A441.4 441.4 0 0 1 1287.47 993.34M1295.36 985.83L1316.03 1007.01M1287.47 993.34L1307.55 1014.95M1267.42 1058.34A479 479 0 0 1 1257.76 1065.14M1267.42 1058.34L1268.18 1059.39M1257.76 1065.14L1258.94 1066.87M1226.84 1082.43A477.1 477.1 0 0 1 1216.6 1088.22M1226.84 1082.43L1227.25 1083.12M1216.6 1088.22L1217.08 1089.1M1236.84 1076.22A476.9 476.9 0 0 1 1221.64 1085.18M1236.84 1076.22L1237.26 1076.9M1221.64 1085.18L1221.74 1085.36M1246.62 1069.68A476.6 476.6 0 0 1 1229.13 1080.51M1246.62 1069.68L1247.22 1070.6M1229.13 1080.51L1229.28 1080.77M1261.06 1059.56A476.3 476.3 0 0 1 1237.77 1074.94M1261.06 1059.56L1262.61 1061.77M1237.77 1074.94L1237.93 1075.19M1269.04 1040.95A466 466 0 0 1 1243.85 1058.82M1269.04 1040.95L1271.1 1043.66M1243.85 1058.82L1249.53 1067.42M1275.17 1030.21A461.3 461.3 0 0 1 1253.88 1046.26M1275.17 1030.21L1283.36 1040.44M1253.88 1046.26L1256.6 1050.1M1276.76 1014.43A450.1 450.1 0 0 1 1257.9 1029.45M1276.76 1014.43L1290.21 1030.42M1257.9 1029.45L1264.64 1038.39M1276.29 997.14A436.7 436.7 0 0 1 1259.08 1011.58M1276.29 997.14L1296.3 1019.76M1259.08 1011.58L1267.43 1022.06M1189.58 1061.6A440.9 440.9 0 0 1 1179.86 1066.48M1189.58 1061.6L1203.27 1088.07M1179.86 1066.48L1192.41 1092.29M1172.55 1076.67A447 447 0 0 1 1162.47 1081.12M1172.55 1076.67L1182.14 1097.68M1162.47 1081.12L1172.24 1104.02M1148.56 1107.1A466 466 0 0 1 1137.73 1110.95M1148.56 1107.1L1149.78 1110.38M1137.73 1110.95L1138.44 1113.03M1157.08 1097.4A460 460 0 0 1 1141.15 1103.4M1157.08 1097.4L1160.77 1106.69M1141.15 1103.4L1143.16 1109.06M1163.56 1069.96A437.2 437.2 0 0 1 1141.1 1079.14M1163.56 1069.96L1167.52 1078.93M1141.1 1079.14L1149.14 1100.48M1118.2 1087.15A437.3 437.3 0 0 1 1107.87 1090.26M1118.2 1087.15L1128.13 1118.73M1107.87 1090.26L1116.44 1120.06M1082.91 1128.88A468.8 468.8 0 0 1 1071.56 1131.11M1082.91 1128.88L1083.38 1131.14M1071.56 1131.11L1072 1133.47M1093.13 1121.8A464.1 464.1 0 0 1 1076.34 1125.42M1093.13 1121.8L1096.12 1134.56M1076.34 1125.42L1077.24 1130.03M1099.13 1099.5A443.9 443.9 0 0 1 1080.49 1103.94M1099.13 1099.5L1107.24 1130.56M1080.49 1103.94L1084.75 1123.69M1025.7 1136.9A468.5 468.5 0 0 1 1014.17 1137.71M1025.7 1136.9L1025.92 1139.59M1014.17 1137.71L1014.32 1140.21M1036.39 1128.25A460.9 460.9 0 0 1 1019.41 1129.76M1036.39 1128.25L1037.99 1143.06M1019.41 1129.76L1019.94 1137.34M991.11 1142.48A472.5 472.5 0 0 1 979.45 1142.44M991.11 1142.48L991.13 1145.08M979.45 1142.44L979.42 1144.44M1002.41 1131.64A461.9 461.9 0 0 1 985.32 1131.9M1002.41 1131.64L1003.06 1151.33M985.32 1131.9L985.28 1142.5M1027.48 1124.3A456.1 456.1 0 0 1 993.78 1126.05M1027.48 1124.3L1027.91 1129.08M993.78 1126.05L993.86 1131.85M1046.52 1118.16A452.1 452.1 0 0 1 1010.44 1121.49M1046.52 1118.16L1048.81 1135.41M1010.44 1121.49L1010.65 1125.49M1055.04 1100.66A436 436 0 0 1 1027.03 1104.16M1055.04 1100.66L1060.09 1132.56M1027.03 1104.16L1028.51 1120.19M968.07 1135.62A466 466 0 0 1 956.59 1135.01M968.07 1135.62L967.99 1137.41M956.59 1135.01L956.43 1137.4M935.33 1118.73A451.7 451.7 0 0 1 924.27 1117.32M935.33 1118.73L933.18 1137.41M924.27 1117.32L921.65 1136.04M947.84 1104.04A435.8 435.8 0 0 1 931.81 1102.29M947.84 1104.04L944.96 1136.01M931.81 1102.29L929.8 1118.06M964.1 1101.79A432.4 432.4 0 0 1 940.19 1099.86M964.1 1101.79L962.32 1135.35M940.19 1099.86L939.82 1103.24M899.51 1128.22A466.5 466.5 0 0 1 888.24 1125.93M899.51 1128.22L899.12 1130.29M888.24 1125.93L887.77 1128.08M915.63 1101.33A437.2 437.2 0 0 1 899.72 1098.4M915.63 1101.33L910.68 1131.23M899.72 1098.4L893.87 1127.11M880.54 1108.87A451.6 451.6 0 0 1 869.74 1106.11M880.54 1108.87L877.14 1122.87M869.74 1106.11L865.82 1120.69M855.37 1115.46A464.5 464.5 0 0 1 844.42 1112.08M855.37 1115.46L854.03 1119.97M844.42 1112.08L842.98 1116.55M879.17 1091.73A435.3 435.3 0 0 1 858.5 1085.9M879.17 1091.73L875.13 1107.52M858.5 1085.9L849.88 1113.8M842.71 1082.28A436.8 436.8 0 0 1 832.58 1078.59M842.71 1082.28L831.84 1113.33M832.58 1078.59L819.54 1113.11M810.99 1103.1A467.5 467.5 0 0 1 800.36 1098.63M810.99 1103.1L809.6 1106.53M800.36 1098.63L797.89 1104.31M790.9 1091.63A465 465 0 0 1 780.56 1086.66M790.9 1091.63L785.55 1103.14M780.56 1086.66L775.28 1097.33M755.73 1084.09A474.3 474.3 0 0 1 735.59 1072.19M755.73 1084.09L754.07 1087.06M745.59 1078.26L743.35 1082.05M735.59 1072.19L733.68 1075.24M775.24 1072.15A454.5 454.5 0 0 1 755.66 1061.22M775.24 1072.15L762.66 1096.04M755.66 1061.22L745.59 1078.26M793.46 1073.04A447.1 447.1 0 0 1 768.99 1060.35M793.46 1073.04L785.72 1089.18M768.99 1060.35L765.38 1066.81M816.33 1075.55A440 440 0 0 1 784.4 1060.58M816.33 1075.55L805.66 1100.9M784.4 1060.58L781.13 1066.88M722.86 1030.24A446.7 446.7 0 0 1 714.06 1023.61M722.86 1030.24L704.83 1054.83M714.06 1023.61L694.99 1048.31M734.34 1033.03A442.3 442.3 0 0 1 721.08 1023.44M734.34 1033.03L715.26 1060.45M721.08 1023.44L718.44 1026.95M745.19 1036.4A439 439 0 0 1 729.6 1025.62M745.19 1036.4L727.18 1063.69M729.6 1025.62L727.67 1028.3M709.51 1011.73A440.2 440.2 0 0 1 701.17 1004.78M709.51 1011.73L691.74 1033.62M701.17 1004.78L683.51 1025.46M669.71 1006.5A462.5 462.5 0 0 1 661.5 998.57M669.71 1006.5L668.13 1008.17M661.5 998.57L659.74 1000.35M691.33 999.49A442.7 442.7 0 0 1 679.34 988.32M691.33 999.49L673.16 1019.73M679.34 988.32L665.58 1002.56M657.61 986.49A456.8 456.8 0 0 1 649.9 978.27M657.61 986.49L646.14 997.51M649.9 978.27L638.24 988.93M633.58 977.54A468.5 468.5 0 0 1 626.1 968.73M633.58 977.54L631.76 979.12M626.1 968.73L624.25 970.26M667.45 969.55A438 438 0 0 1 653.06 953.43M667.45 969.55L653.73 982.41M653.06 953.43L629.81 973.16M642.65 941A438.2 438.2 0 0 1 636.07 932.42M642.65 941L618.52 959.99M636.07 932.42L609.08 952.61M627.91 924.96A440.4 440.4 0 0 1 621.73 916.03M627.91 924.96L601.16 943.95M621.73 916.03L596.76 932.84M605.62 900.38A445.56 445.56 0 0 1 600.06 890.91M605.62 900.38L583.3 913.87M600.06 890.91L574.72 905.37M574.09 892.41A469 469 0 0 1 568.73 882.16M574.09 892.41L571.18 893.97M568.73 882.16L566.32 883.38M561.51 860.05A466 466 0 0 1 544.86 817.21M561.51 860.05L557.22 861.96M556.96 849.49L551.97 851.57M552.66 838.83L547.63 840.79M548.63 828.07L546.46 828.85M544.86 817.21L540.21 818.75M590.16 859.13A439.6 439.6 0 0 1 577.27 829.27M590.16 859.13L558.12 874.4M577.27 829.27L552.66 838.83M536.21 795.76A468 468 0 0 1 528.15 762.09M536.21 795.76L534.77 796.16M533.25 784.6L527.43 786.07M530.56 773.38L526.07 774.39M528.15 762.09L515.6 764.6M565.94 798.74A440.3 440.3 0 0 1 558.81 772.55M565.94 798.74L536.87 807.63M558.81 772.55L531.87 779M520.61 728.15A470 470 0 0 1 518.31 705.08M520.61 728.15L518.63 728.4M519.32 716.63L516.43 716.92M518.31 705.08L515.42 705.3M514 670.34A473 473 0 0 1 514.14 658.67M514 670.34L510 670.34M514.14 658.67L512.14 658.62M516.65 681.94A470.5 470.5 0 0 1 516.53 664.53M516.65 681.94L512.15 682.05M516.53 664.53L514.03 664.5M519.59 693.41A468 468 0 0 1 519.01 673.22M519.59 693.41L517.49 693.52M519.01 673.22L516.51 673.24M528.37 715.73A460.9 460.9 0 0 1 526.29 683.12M528.37 715.73L519.32 716.63M526.29 683.12L519.19 683.32M549.68 735.52A442.2 442.2 0 0 1 545.7 698.25M549.68 735.52L517.54 740.34M545.7 698.25L527.04 699.44M556.95 745.32A436.6 436.6 0 0 1 552.87 716.33M556.95 745.32L522.96 751.27M552.87 716.33L547.3 716.93M552.31 648.85A435.2 435.2 0 0 1 552.97 638.13M552.31 648.85L521.75 647.36M552.97 638.13L521.65 635.83M545.93 626.65A443.2 443.2 0 0 1 547.13 615.78M545.93 626.65L518.46 623.95M547.13 615.78L519.54 612.38M528.52 601.97A463.5 463.5 0 0 1 530.34 590.68M528.52 601.97L526.94 601.74M530.34 590.68L527.97 590.27M555.54 622.22A434.1 434.1 0 0 1 558.42 601M555.54 622.22L546.49 621.21M558.42 601L529.39 596.32M541.17 534.38A466 466 0 0 1 544.65 523.42M541.17 534.38L539.26 533.79M544.65 523.42L541.62 522.41M539.89 545.95A464 464 0 0 1 544.79 529.49M539.89 545.95L529.1 542.95M544.79 529.49L542.88 528.89M538.91 557.5A462 462 0 0 1 544.18 538.27M538.91 557.5L523.68 553.68M544.18 538.27L542.26 537.7M540.66 569.58A457.5 457.5 0 0 1 545.78 549.05M540.66 569.58L528.95 566.94M545.78 549.05L541.44 547.86M557.54 584.45A437.9 437.9 0 0 1 562.12 564.02M557.54 584.45L529.98 578.96M562.12 564.02L543.1 559.28M556.79 491.15A465.9 465.9 0 0 1 561.34 480.6M556.79 491.15L548.67 487.78M561.34 480.6L552.11 476.49M570.05 508.61A447.1 447.1 0 0 1 576.3 493.29M570.05 508.61L546.64 499.55M576.3 493.29L559.03 485.86M570.8 520.6A442.2 442.2 0 0 1 577.64 502.77M570.8 520.6L545.86 511.64M577.64 502.77L573.1 500.92M565.6 469.9A466.5 466.5 0 0 1 570.66 459.56M565.6 469.9L562.89 468.61M570.66 459.56L566.11 457.26M569.89 465.6A464.5 464.5 0 0 1 595.1 420.65M569.89 465.6L568.1 464.72M577.74 450.3L574.74 448.7M583.28 440.28L581.11 439.04M589.07 430.39L586.59 428.89M595.1 420.65L591.05 418.07M579.17 513.58A436.8 436.8 0 0 1 606.03 456.32M579.17 513.58L574.13 511.65M606.03 456.32L581.87 442.77M622.52 383.99A463.3 463.3 0 0 1 629.68 375.09M622.52 383.99L616.38 379.18M629.68 375.09L620.43 367.45M620.14 396.48A457.6 457.6 0 0 1 630.51 383.09M620.14 396.48L605.31 385.42M630.51 383.09L626.07 379.52M617.84 408.67A452.3 452.3 0 0 1 629.46 392.98M617.84 408.67L597.84 394.52M629.46 392.98L625.27 389.74M618.56 422.59A443.8 443.8 0 0 1 630.39 405.82M618.56 422.59L598.05 408.83M630.39 405.82L623.56 400.76M655.19 382.09A439.3 439.3 0 0 1 662.4 374M655.19 382.09L627.25 357.85M662.4 374L639.27 352.91M668.64 364.97A440.9 440.9 0 0 1 676.26 357.21M668.64 364.97L647.49 344.7M676.26 357.21L652.3 333.09M684.76 317.02A464.7 464.7 0 0 1 693.56 309.67M684.76 317.02L673.83 304.26M693.56 309.67L687.43 302.15M678.82 327.55A460.7 460.7 0 0 1 691.7 316.39M678.82 327.55L672.53 320.57M691.7 316.39L689.14 313.32M682.56 348.05A443.1 443.1 0 0 1 696.74 335.21M682.56 348.05L663.25 327.63M696.74 335.21L685.21 321.91M718.26 285.02A469.5 469.5 0 0 1 727.83 278.51M718.26 285.02L716.88 283.06M727.83 278.51L726.73 276.84M737.68 272.41A469.3 469.3 0 0 1 757.59 260.6M737.68 272.41L736.51 270.54M747.56 266.38L746.13 263.97M757.59 260.6L756.56 258.76M775.3 244.23A475.5 475.5 0 0 1 785.86 239.14M775.3 244.23L774.63 242.88M785.86 239.14L783.54 234.15M769.3 257.98A466 466 0 0 1 784.69 250.21M769.3 257.98L763.5 247.02M784.69 250.21L780.56 241.65M798.75 239.34A470 470 0 0 1 864.32 216.29M798.75 239.34L798.11 237.88M809.43 234.83L808.98 233.72M820.22 230.59L819.44 228.53M831.11 226.61L830.48 224.81M842.1 222.9L841.29 220.42M853.17 219.46L852.66 217.73M864.32 216.29L863.49 213.2M778.08 256.25A463.5 463.5 0 0 1 833.27 232.74M778.08 256.25L776.96 254.02M833.27 232.74L831.11 226.61M754.5 278.08A455.7 455.7 0 0 1 808.35 250.78M754.5 278.08L747.56 266.38M808.35 250.78L805.29 243.6M735.96 300.76A446.5 446.5 0 0 1 785.13 271.74M735.96 300.76L723.03 281.74M785.13 271.74L780.97 263.53M725.96 315.05A440.6 440.6 0 0 1 763.08 290.54M725.96 315.05L707.6 290.08M763.08 290.54L760.08 285.46M720.84 326.18A434.8 434.8 0 0 1 747.41 307.17M720.84 326.18L696.35 294.55M747.41 307.17L744.21 302.33M695.69 348.3A434 434 0 0 1 734.41 317.08M695.69 348.3L689.58 341.55M734.41 317.08L733.94 316.43M678.06 366.61A433 433 0 0 1 715.23 332.91M678.06 366.61L672.43 361.07M715.23 332.91L714.6 332.13M664.08 382.74A432.2 432.2 0 0 1 696.7 349.81M664.08 382.74L658.77 378.02M696.7 349.81L696.16 349.22M634.67 421.41A431.2 431.2 0 0 1 680.65 366.54M634.67 421.41L624.38 414.14M680.65 366.54L679.94 365.84M597.27 487.14A430.5 430.5 0 0 1 657.06 393.47M597.27 487.14L591.56 484.46M657.06 393.47L656.52 393.02M952.36 1098.2A429.6 429.6 0 0 1 624.89 438.85M952.36 1098.2L952.13 1100.99M909.04 1092.47L907.66 1099.94M870.35 1083.46L868.8 1088.94M840.1 1073.7L837.63 1080.47M804.63 1058.97L800.22 1068.39M742.68 1023.36L737.34 1031.1M712.1 1000.13L705.32 1008.28M694.21 984.37L685.28 993.96M666.42 955.98L660.16 961.58M646.16 931.5L639.33 936.73M633.67 914.37L624.79 920.51M624.88 901.13L586.27 925.77M616.57 887.58L602.81 895.66M606.29 869.04L571.38 887.3M592.62 840.35L583.44 844.32M572.5 782.89L562.17 785.7M561.59 729.89L554.66 730.86M558.2 643.83L552.61 643.49M561.31 612.19L556.85 611.59M567.8 576.02L559.71 574.21M624.89 438.85L624.13 438.37M1410.06 734.87A428 428 0 0 1 603.67 860.38M1410.06 734.87L1416.18 735.81M1393.71 803.3L1405.12 807.04M1310.43 950.32L1315.94 955.1M1282.19 979.91L1291.44 989.61M1262.19 997.81L1267.78 1004.47M1178.95 1052.54L1184.73 1064.07M1148.92 1066.19L1152.4 1074.71M1110.36 1079.84L1113.05 1088.74M1086.16 1086.36L1089.84 1101.82M1040.08 1094.7L1041.07 1102.63M603.67 860.38L602.24 861.09M1413.44 677.35A426.5 426.5 0 0 1 1052.6 1091.43M1413.44 677.35L1414.64 677.37M1052.6 1091.43L1052.83 1092.91M1400.1 642.69A414 414 0 0 1 1299.12 941.99M1400.1 642.69L1433.82 640.46M1299.12 941.99L1308.54 950.2M1205.88 743.85L1379.28 802.35"/>
<path stroke="#d4d4d4" d="M1204.62 265.3A459.5 459.5 0 0 1 1214.53 270.79M1204.62 265.3L1220.39 235.97M1214.53 270.79L1231.82 240.47M1229.42 268.05A469.4 469.4 0 0 1 1239.27 274.15M1229.42 268.05L1243.58 244.58M1239.27 274.15L1254.04 250.96M1248.56 281.07A468.7 468.7 0 0 1 1258.08 287.64M1248.56 281.07L1264.75 257.01M1258.08 287.64L1275.48 263.09M1292.36 281.43A494.2 494.2 0 0 1 1301.85 289.08M1292.36 281.43L1297.61 274.74M1301.85 289.08L1306.95 282.91M1266.29 295.97A466.8 466.8 0 0 1 1279.93 306.55M1266.29 295.97L1286.51 268.88M1279.93 306.55L1297.13 285.22M1297.97 312.13A474.1 474.1 0 0 1 1306.7 319.91M1297.97 312.13L1317.91 289.18M1306.7 319.91L1328.95 295.54M1326.77 332.93A478.6 478.6 0 0 1 1334.98 341.42M1326.77 332.93L1349.2 310.68M1334.98 341.42L1359.92 317.87M1313.3 329.92A471.3 471.3 0 0 1 1325.66 342.23M1313.3 329.92L1335.8 306.47M1325.66 342.23L1330.9 337.15M1297.43 321.52A466.7 466.7 0 0 1 1316.29 339.28M1297.43 321.52L1302.36 315.99M1316.29 339.28L1319.53 336.02M1351.07 358.72A479 479 0 0 1 1358.63 367.79M1351.07 358.72L1374.17 338.96M1358.63 367.79L1383.15 347.86M1338.44 354.18A472.5 472.5 0 0 1 1349.89 367.39M1338.44 354.18L1364.92 330.38M1349.89 367.39L1354.88 363.23M1364.87 377.91A477.6 477.6 0 0 1 1371.96 387.32M1364.87 377.91L1388.76 359.44M1371.96 387.32L1397.43 368.61M1416.72 400.95A507 507 0 0 1 1423.23 411.63M1416.72 400.95L1421.38 398.03M1423.23 411.63L1427.79 408.93M1430.34 421.98A508 508 0 0 1 1436.32 432.99M1430.34 421.98L1434.44 419.69M1436.32 432.99L1439.24 431.45M1414.03 409.91A500 500 0 0 1 1426.34 431.29M1414.03 409.91L1420.01 406.27M1426.34 431.29L1433.37 427.47M1393.77 401.13A487.6 487.6 0 0 1 1409.57 426.71M1393.77 401.13L1415.96 386.46M1409.57 426.71L1420.32 420.53M1379.47 396.44A478.4 478.4 0 0 1 1394.04 418.63M1379.47 396.44L1403.75 379.51M1394.04 418.63L1401.87 413.8M1363.25 386.5A471.1 471.1 0 0 1 1380.81 411.44M1363.25 386.5L1368.44 382.59M1380.81 411.44L1386.91 407.44M1339.76 364.59A466.6 466.6 0 0 1 1368.55 401.42M1339.76 364.59L1344.23 360.73M1368.55 401.42L1372.23 398.83M1449.28 454.6A510 510 0 0 1 1454.45 466.07M1449.28 454.6L1451.45 453.58M1454.45 466.07L1455.83 465.47M1413.64 458.24A476.3 476.3 0 0 1 1421.18 474.17M1413.64 458.24L1444.09 443.13M1421.18 474.17L1451.9 460.32M1454.71 479.54A505 505 0 0 1 1459.26 491.14M1454.71 479.54L1456.93 478.64M1459.26 491.14L1460.39 490.71M1410.52 469.47A468.6 468.6 0 0 1 1423.14 498.64M1410.52 469.47L1417.48 466.17M1423.14 498.64L1457.02 485.33M1475.12 512.18A513 513 0 0 1 1478.87 524.27M1475.12 512.18L1479.78 510.68M1478.87 524.27L1482.8 523.11M1437.77 511.88A477.7 477.7 0 0 1 1443.31 528.66M1437.77 511.88L1473.25 499.43M1443.31 528.66L1477.03 518.22M1471.37 552.14A498.5 498.5 0 0 1 1474.13 564.12M1471.37 552.14L1479.04 550.27M1474.13 564.12L1480.77 562.67M1447.55 545.82A477 477 0 0 1 1451.83 562.94M1447.55 545.82L1478.93 537.36M1451.83 562.94L1472.78 558.12M1477.87 575.92A499.8 499.8 0 0 1 1480.04 588.06M1477.87 575.92L1482.58 575.02M1480.04 588.06L1485.46 587.16M1470.37 613.99A486.6 486.6 0 0 1 1471.6 625.93M1470.37 613.99L1494.6 611.18M1471.6 625.93L1496.4 623.68M1460.92 603.2A478.6 478.6 0 0 1 1463.06 620.78M1460.92 603.2L1490.62 599.02M1463.06 620.78L1471.02 619.96M1452.12 586.79A472.5 472.5 0 0 1 1456.02 612.72M1452.12 586.79L1478.99 581.98M1456.02 612.72L1462.07 611.98M1442.01 556.3A469 469 0 0 1 1450.78 600.25M1442.01 556.3L1449.77 554.36M1450.78 600.25L1454.25 599.73M1431.41 523.28A468 468 0 0 1 1445.94 578.37M1431.41 523.28L1440.62 520.24M1445.94 578.37L1446.92 578.17M1415.61 484.58A467 467 0 0 1 1438.55 550.86M1415.61 484.58L1417.08 483.95M1438.55 550.86L1439.51 550.6M1354.15 383.02A466 466 0 0 1 1427.38 517.62M1354.15 383.02L1354.62 382.65M1427.38 517.62L1428.33 517.29M1302.05 335.51A459.5 459.5 0 0 1 1390.62 450.39M1302.05 335.51L1306.98 330.27M1390.62 450.39L1396.33 447.29M1267.76 308.15A458 458 0 0 1 1349.71 390.35M1267.76 308.15L1273.16 301.2M1349.71 390.35L1350.9 389.43M1246.12 294.78A456 456 0 0 1 1309.94 348.05M1246.12 294.78L1253.34 284.33M1309.94 348.05L1311.35 346.64M1226.25 284.15A454 454 0 0 1 1277.96 321.49M1226.25 284.15L1234.36 271.07M1277.96 321.49L1279.25 319.96M1205.96 274.58A452 452 0 0 1 1251.59 303.54M1205.96 274.58L1209.59 268.01M1251.59 303.54L1252.76 301.92M1189.55 269.96A448.4 448.4 0 0 1 1227.28 291.41M1189.55 269.96L1207.62 234.27M1227.28 291.41L1229.21 288.37M1176.02 272.67A440 440 0 0 1 1204.52 287.53M1176.02 272.67L1190.97 241.24M1204.52 287.53L1208.68 280.23M1093.79 465.17L1190.41 279.84"/>
<path stroke="#ffcccc" d="M1012.32 328.54A342.4 342.4 0 0 1 1020.73 329.27M1012.32 328.54L1014.47 299.52M1020.73 329.27L1023.49 301.4M1003.35 338.8A331.6 331.6 0 0 1 1015.59 339.64M1003.35 338.8L1005.07 304.05M1015.59 339.64L1016.53 328.88M995.04 344A326.1 326.1 0 0 1 1009.11 344.65M995.04 344L995.88 310.01M1009.11 344.65L1009.48 339.16M987 350.3A319.7 319.7 0 0 1 1001.78 350.64M987 350.3L987 313.6M1001.78 350.64L1002.08 344.25M1059.68 306.5A370.7 370.7 0 0 1 1068.63 308.4M1059.68 306.5L1065.8 275.9M1068.63 308.4L1075.96 275.92M1077.08 312.27A368.9 368.9 0 0 1 1085.88 314.6M1077.08 312.27L1085.29 279.68M1085.88 314.6L1094.51 283.58M1062.81 313.78A364.2 364.2 0 0 1 1080.28 317.95M1062.81 313.78L1064.16 307.42M1080.28 317.95L1081.49 313.41M1094.91 316.19A369.9 369.9 0 0 1 1103.6 318.96M1094.91 316.19L1104.39 285.1M1103.6 318.96L1114 287.64M1131.24 323.74A375.1 375.1 0 0 1 1139.73 327.4M1131.24 323.74L1145.5 289.49M1139.73 327.4L1153.37 296.81M1120.95 324.67A370.4 370.4 0 0 1 1133.64 329.86M1120.95 324.67L1135.67 286.72M1133.64 329.86L1135.5 325.55M1110.7 326.18A365.4 365.4 0 0 1 1125.42 331.83M1110.7 326.18L1122.08 294.56M1125.42 331.83L1127.32 327.21M1097.26 323.84A363.3 363.3 0 0 1 1117.34 330.89M1097.26 323.84L1099.26 317.55M1117.34 330.89L1118.09 328.93M1070.6 319.84A360 360 0 0 1 1106.26 330.33M1070.6 319.84L1071.57 315.76M1106.26 330.33L1107.35 327.21M1047.89 320.87A354.4 354.4 0 0 1 1086.98 330M1047.89 320.87L1055.18 279.1M1086.98 330L1088.56 324.62M1037.83 329.07A344.7 344.7 0 0 1 1065.36 334.33M1037.83 329.07L1043.57 290.59M1065.36 334.33L1067.57 324.88M1020.5 399.77A272.3 272.3 0 0 1 1038.07 402.53M1020.5 399.77L1030.16 321.87M1038.07 402.53L1051.65 331.42M992.31 440.56A229.5 229.5 0 0 1 1022.66 443.29M992.31 440.56L994.39 350.39M1022.66 443.29L1029.31 401.01M997.29 555.46L1007.53 441.42"/>
<path stroke="#000" stroke-width="2.4" d="M987 670L1056.05 578.04M997.62 555.49A115 115 0 0 1 1094.07 628.04M1094.07 628.04L1202.07 585.71M1094.02 465.29A231 231 0 0 1 1204.34 748.25"/>
</g>
<g font-family='"Liberation Sans", Arial, Helvetica, sans-serif' font-size="23.1" fill="#000" text-anchor="end">
<text transform="translate(975.5 32.5) rotate(-20.8)">Site</text>
<text transform="translate(975.5 55) rotate(-20.8)">Clonal group</text>
<text transform="translate(976 79) rotate(-20.8)">Species</text>
</g>
<text x="315.5" y="16.3" font-family='"Liberation Sans", Arial, Helvetica, sans-serif' font-size="28" font-weight="bold">a</text>
<text x="4.5" y="1371.6" font-family='"Liberation Sans", Arial, Helvetica, sans-serif' font-size="28" font-weight="bold">b</text>
<g id="legenda" font-family='"Liberation Sans", Arial, Helvetica, sans-serif' font-size="20.8">
<rect x="713.4" y="359.4" width="37.6" height="37.6" fill="#b3b3ff"/>
<text x="755.6" y="385.4" font-style="italic">K. pneumoniae</text>
<rect x="713.4" y="416" width="37.6" height="37.6" fill="#d9d9d9"/>
<text x="755.6" y="442" font-style="italic">K. variicola</text>
<rect x="713.4" y="472.2" width="37.6" height="37.6" fill="#ffd9d9"/>
<text x="755.6" y="498.2" font-style="italic">K. quasipneumoniae</text>
<rect x="713.4" y="555.2" width="37.6" height="37.6" fill="#acd580"/>
<text x="755.6" y="581.2">MDR CG</text>
<rect x="713.4" y="611.8" width="37.6" height="37.6" fill="#e6008c"/>
<text x="755.6" y="637.8">Hv CG</text>
<rect x="713.4" y="696.8" width="37.6" height="37.6" fill="#946420"/>
<text x="755.6" y="722.8">Control</text>
<rect x="713.4" y="753.4" width="37.6" height="37.6" fill="#ff0000"/>
<text x="755.6" y="779.4">Blood</text>
<rect x="713.4" y="809.5" width="37.6" height="37.6" fill="#0000ff"/>
<text x="755.6" y="835.5">Respiratory</text>
<rect x="713.4" y="865.7" width="37.6" height="37.6" fill="#ffff00"/>
<text x="755.6" y="891.7">Urine</text>
<rect x="713.4" y="921.8" width="37.6" height="37.6" fill="#4d004d"/>
<text x="755.6" y="947.8">Other</text>
</g>
<path d="M851.7 685.6H1120.8M852.6 682.5V688.7M1120 682.5V688.7" stroke="#000" stroke-width="3" fill="none"/>
<text x="998" y="713.3" text-anchor="middle" font-family='"Liberation Sans", Arial, Helvetica, sans-serif' font-size="28.8">Tree scale: 0.01</text>
<g id="heat">
<rect x="231.6" y="1343.6" width="35.05" height="992.25" fill="#4838f5"/>
<rect x="231.6" y="1343.6" width="35.05" height="72.9" fill="#737373"/>
<rect x="231.6" y="1416.5" width="35.05" height="174.15" fill="#fb6b73"/>
<rect x="266.25" y="1343.6" width="35.05" height="992.25" fill="#cc99ff"/>
<rect x="266.25" y="1351.7" width="35.05" height="8.1" fill="#006400"/>
<rect x="266.25" y="1367.9" width="35.05" height="4.05" fill="#006400"/>
<rect x="266.25" y="1416.5" width="35.05" height="8.1" fill="#006400"/>
<rect x="266.25" y="1440.8" width="35.05" height="4.05" fill="#006400"/>
<rect x="266.25" y="1448.9" width="35.05" height="8.1" fill="#006400"/>
<rect x="266.25" y="1505.6" width="35.05" height="4.05" fill="#006400"/>
<rect x="266.25" y="1513.7" width="35.05" height="4.05" fill="#006400"/>
<rect x="266.25" y="1538" width="35.05" height="4.05" fill="#006400"/>
<rect x="266.25" y="1550.15" width="35.05" height="4.05" fill="#006400"/>
<rect x="266.25" y="1558.25" width="35.05" height="4.05" fill="#006400"/>
<rect x="266.25" y="1566.35" width="35.05" height="4.05" fill="#006400"/>
<rect x="266.25" y="1578.5" width="35.05" height="4.05" fill="#006400"/>
<rect x="266.25" y="1590.65" width="35.05" height="16.2" fill="#006400"/>
<rect x="266.25" y="1610.9" width="35.05" height="4.05" fill="#006400"/>
<rect x="266.25" y="1619" width="35.05" height="4.05" fill="#006400"/>
<rect x="266.25" y="1627.1" width="35.05" height="4.05" fill="#006400"/>
<rect x="266.25" y="1643.3" width="35.05" height="8.1" fill="#006400"/>
<rect x="266.25" y="1659.5" width="35.05" height="8.1" fill="#006400"/>
<rect x="266.25" y="1687.85" width="35.05" height="8.1" fill="#006400"/>
<rect x="266.25" y="1748.6" width="35.05" height="8.1" fill="#006400"/>
<rect x="266.25" y="1768.85" width="35.05" height="12.15" fill="#006400"/>
<rect x="266.25" y="1789.1" width="35.05" height="4.05" fill="#006400"/>
<rect x="266.25" y="1797.2" width="35.05" height="4.05" fill="#006400"/>
<rect x="266.25" y="1809.35" width="35.05" height="4.05" fill="#006400"/>
<rect x="266.25" y="1817.45" width="35.05" height="16.2" fill="#006400"/>
<rect x="266.25" y="1853.9" width="35.05" height="4.05" fill="#006400"/>
<rect x="266.25" y="1866.05" width="35.05" height="4.05" fill="#006400"/>
<rect x="266.25" y="1874.15" width="35.05" height="4.05" fill="#006400"/>
<rect x="266.25" y="1886.3" width="35.05" height="4.05" fill="#006400"/>
<rect x="266.25" y="1898.45" width="35.05" height="4.05" fill="#006400"/>
<rect x="266.25" y="1938.95" width="35.05" height="12.15" fill="#006400"/>
<rect x="266.25" y="1963.25" width="35.05" height="4.05" fill="#006400"/>
<rect x="266.25" y="1979.45" width="35.05" height="4.05" fill="#006400"/>
<rect x="266.25" y="1991.6" width="35.05" height="4.05" fill="#006400"/>
<rect x="266.25" y="2011.85" width="35.05" height="4.05" fill="#006400"/>
<rect x="266.25" y="2024" width="35.05" height="4.05" fill="#006400"/>
<rect x="266.25" y="2040.2" width="35.05" height="8.1" fill="#006400"/>
<rect x="266.25" y="2060.45" width="35.05" height="4.05" fill="#006400"/>
<rect x="266.25" y="2076.65" width="35.05" height="8.1" fill="#006400"/>
<rect x="266.25" y="2088.8" width="35.05" height="20.25" fill="#006400"/>
<rect x="266.25" y="2113.1" width="35.05" height="8.1" fill="#006400"/>
<rect x="266.25" y="2125.25" width="35.05" height="8.1" fill="#006400"/>
<rect x="266.25" y="2141.45" width="35.05" height="4.05" fill="#006400"/>
<rect x="266.25" y="2149.55" width="35.05" height="12.15" fill="#006400"/>
<rect x="266.25" y="2181.95" width="35.05" height="4.05" fill="#006400"/>
<rect x="266.25" y="2234.6" width="35.05" height="8.1" fill="#006400"/>
<rect x="266.25" y="2250.8" width="35.05" height="8.1" fill="#006400"/>
<rect x="266.25" y="2262.95" width="35.05" height="16.2" fill="#006400"/>
<rect x="266.25" y="2287.25" width="35.05" height="4.05" fill="#006400"/>
<rect x="266.25" y="2295.35" width="35.05" height="8.1" fill="#006400"/>
<rect x="266.25" y="2315.6" width="35.05" height="8.1" fill="#006400"/>
<rect x="300.9" y="1343.6" width="34.65" height="992.25" fill="#663300"/>
<rect x="300.9" y="1351.7" width="34.65" height="4.05" fill="#ffcc00"/>
<rect x="300.9" y="1355.75" width="34.65" height="4.05" fill="#ff0000"/>
<rect x="300.9" y="1367.9" width="34.65" height="4.05" fill="#0000ff"/>
<rect x="300.9" y="1416.5" width="34.65" height="8.1" fill="#ff0000"/>
<rect x="300.9" y="1440.8" width="34.65" height="4.05" fill="#ff0000"/>
<rect x="300.9" y="1448.9" width="34.65" height="4.05" fill="#ff0000"/>
<rect x="300.9" y="1452.95" width="34.65" height="4.05" fill="#660099"/>
<rect x="300.9" y="1505.6" width="34.65" height="4.05" fill="#ff0000"/>
<rect x="300.9" y="1513.7" width="34.65" height="4.05" fill="#ffcc00"/>
<rect x="300.9" y="1538" width="34.65" height="4.05" fill="#0000ff"/>
<rect x="300.9" y="1550.15" width="34.65" height="4.05" fill="#ff0000"/>
<rect x="300.9" y="1558.25" width="34.65" height="4.05" fill="#ffcc00"/>
<rect x="300.9" y="1566.35" width="34.65" height="4.05" fill="#ffcc00"/>
<rect x="300.9" y="1578.5" width="34.65" height="4.05" fill="#0000ff"/>
<rect x="300.9" y="1590.65" width="34.65" height="4.05" fill="#ff0000"/>
<rect x="300.9" y="1594.7" width="34.65" height="4.05" fill="#ffcc00"/>
<rect x="300.9" y="1598.75" width="34.65" height="8.1" fill="#ff0000"/>
<rect x="300.9" y="1610.9" width="34.65" height="4.05" fill="#0000ff"/>
<rect x="300.9" y="1619" width="34.65" height="4.05" fill="#0000ff"/>
<rect x="300.9" y="1627.1" width="34.65" height="4.05" fill="#ffcc00"/>
<rect x="300.9" y="1643.3" width="34.65" height="4.05" fill="#ff0000"/>
<rect x="300.9" y="1647.35" width="34.65" height="4.05" fill="#0000ff"/>
<rect x="300.9" y="1659.5" width="34.65" height="4.05" fill="#ff0000"/>
<rect x="300.9" y="1663.55" width="34.65" height="4.05" fill="#660099"/>
<rect x="300.9" y="1687.85" width="34.65" height="8.1" fill="#ffcc00"/>
<rect x="300.9" y="1748.6" width="34.65" height="8.1" fill="#ff0000"/>
<rect x="300.9" y="1768.85" width="34.65" height="4.05" fill="#0000ff"/>
<rect x="300.9" y="1772.9" width="34.65" height="4.05" fill="#ffcc00"/>
<rect x="300.9" y="1776.95" width="34.65" height="4.05" fill="#ff0000"/>
<rect x="300.9" y="1789.1" width="34.65" height="4.05" fill="#ff0000"/>
<rect x="300.9" y="1797.2" width="34.65" height="4.05" fill="#ffcc00"/>
<rect x="300.9" y="1809.35" width="34.65" height="4.05" fill="#ffcc00"/>
<rect x="300.9" y="1817.45" width="34.65" height="8.1" fill="#ff0000"/>
<rect x="300.9" y="1825.55" width="34.65" height="4.05" fill="#0000ff"/>
<rect x="300.9" y="1829.6" width="34.65" height="4.05" fill="#ff0000"/>
<rect x="300.9" y="1853.9" width="34.65" height="4.05" fill="#ffcc00"/>
<rect x="300.9" y="1866.05" width="34.65" height="4.05" fill="#ffcc00"/>
<rect x="300.9" y="1874.15" width="34.65" height="4.05" fill="#ffcc00"/>
<rect x="300.9" y="1886.3" width="34.65" height="4.05" fill="#ff0000"/>
<rect x="300.9" y="1898.45" width="34.65" height="4.05" fill="#ff0000"/>
<rect x="300.9" y="1938.95" width="34.65" height="4.05" fill="#0000ff"/>
<rect x="300.9" y="1943" width="34.65" height="4.05" fill="#ffcc00"/>
<rect x="300.9" y="1947.05" width="34.65" height="4.05" fill="#0000ff"/>
<rect x="300.9" y="1963.25" width="34.65" height="4.05" fill="#ffcc00"/>
<rect x="300.9" y="1979.45" width="34.65" height="4.05" fill="#ff0000"/>
<rect x="300.9" y="1991.6" width="34.65" height="4.05" fill="#0000ff"/>
<rect x="300.9" y="2011.85" width="34.65" height="4.05" fill="#ffcc00"/>
<rect x="300.9" y="2024" width="34.65" height="4.05" fill="#0000ff"/>
<rect x="300.9" y="2040.2" width="34.65" height="4.05" fill="#ff0000"/>
<rect x="300.9" y="2044.25" width="34.65" height="4.05" fill="#0000ff"/>
<rect x="300.9" y="2060.45" width="34.65" height="4.05" fill="#ff0000"/>
<rect x="300.9" y="2076.65" width="34.65" height="4.05" fill="#0000ff"/>
<rect x="300.9" y="2080.7" width="34.65" height="4.05" fill="#ffcc00"/>
<rect x="300.9" y="2088.8" width="34.65" height="4.05" fill="#0000ff"/>
<rect x="300.9" y="2092.85" width="34.65" height="4.05" fill="#ff0000"/>
<rect x="300.9" y="2096.9" width="34.65" height="4.05" fill="#0000ff"/>
<rect x="300.9" y="2100.95" width="34.65" height="8.1" fill="#ff0000"/>
<rect x="300.9" y="2113.1" width="34.65" height="8.1" fill="#ff0000"/>
<rect x="300.9" y="2125.25" width="34.65" height="4.05" fill="#ff0000"/>
<rect x="300.9" y="2129.3" width="34.65" height="4.05" fill="#ffcc00"/>
<rect x="300.9" y="2141.45" width="34.65" height="4.05" fill="#ff0000"/>
<rect x="300.9" y="2149.55" width="34.65" height="4.05" fill="#ffcc00"/>
<rect x="300.9" y="2153.6" width="34.65" height="4.05" fill="#ff0000"/>
<rect x="300.9" y="2157.65" width="34.65" height="4.05" fill="#660099"/>
<rect x="300.9" y="2181.95" width="34.65" height="4.05" fill="#ffcc00"/>
<rect x="300.9" y="2234.6" width="34.65" height="4.05" fill="#ff0000"/>
<rect x="300.9" y="2238.65" width="34.65" height="4.05" fill="#660099"/>
<rect x="300.9" y="2250.8" width="34.65" height="4.05" fill="#ffcc00"/>
<rect x="300.9" y="2254.85" width="34.65" height="4.05" fill="#ff0000"/>
<rect x="300.9" y="2262.95" width="34.65" height="4.05" fill="#ff0000"/>
<rect x="300.9" y="2267" width="34.65" height="4.05" fill="#0000ff"/>
<rect x="300.9" y="2271.05" width="34.65" height="4.05" fill="#ff0000"/>
<rect x="300.9" y="2275.1" width="34.65" height="4.05" fill="#ffcc00"/>
<rect x="300.9" y="2287.25" width="34.65" height="4.05" fill="#ff0000"/>
<rect x="300.9" y="2295.35" width="34.65" height="4.05" fill="#ff0000"/>
<rect x="300.9" y="2299.4" width="34.65" height="4.05" fill="#0000ff"/>
<rect x="300.9" y="2315.6" width="34.65" height="4.05" fill="#ffcc00"/>
<rect x="300.9" y="2319.65" width="34.65" height="4.05" fill="#0000ff"/>
<path fill="#000" d="M716.7 1343.6h34.65v4.05h-34.65zM786 1343.6h103.95v4.05h-103.95zM1236.45 1343.6h69.3v4.05h-69.3zM1375.05 1343.6h34.65v4.05h-34.65zM1271.1 1347.65h34.65v4.05h-34.65zM751.35 1355.75h34.65v4.05h-34.65zM924.6 1355.75h34.65v4.05h-34.65zM993.9 1355.75h34.65v4.05h-34.65zM1063.2 1355.75h207.9v4.05h-207.9zM1305.75 1355.75h69.3v4.05h-69.3zM1444.35 1355.75h34.65v4.05h-34.65zM1513.65 1355.75h69.3v4.05h-69.3zM682.05 1359.8h138.6v4.05h-138.6zM1028.55 1359.8h34.65v4.05h-34.65zM1132.5 1359.8h34.65v4.05h-34.65zM1409.7 1359.8h34.65v4.05h-34.65zM1479 1359.8h103.95v4.05h-103.95zM1409.7 1363.85h34.65v4.05h-34.65zM1479 1363.85h103.95v4.05h-103.95zM1548.3 1376h34.65v4.05h-34.65zM1236.45 1380.05h34.65v4.05h-34.65zM1236.45 1384.1h34.65v4.05h-34.65zM1132.5 1396.25h34.65v4.05h-34.65zM1305.75 1396.25h103.95v4.05h-103.95zM1444.35 1396.25h34.65v4.05h-34.65zM1132.5 1412.45h34.65v4.05h-34.65zM1305.75 1412.45h69.3v4.05h-69.3zM1444.35 1412.45h34.65v4.05h-34.65zM751.35 1416.5h69.3v4.05h-69.3zM993.9 1416.5h34.65v4.05h-34.65zM1063.2 1416.5h34.65v4.05h-34.65zM1167.15 1416.5h138.6v4.05h-138.6zM716.7 1420.55h34.65v4.05h-34.65zM786 1420.55h103.95v4.05h-103.95zM1375.05 1420.55h34.65v4.05h-34.65zM1305.75 1424.6h69.3v4.05h-69.3zM1409.7 1424.6h173.25v4.05h-173.25zM1375.05 1428.65h34.65v4.05h-34.65zM1444.35 1428.65h34.65v4.05h-34.65zM1063.2 1432.7h34.65v4.05h-34.65zM1236.45 1432.7h34.65v4.05h-34.65zM1582.95 1440.8h34.65v4.05h-34.65zM1582.95 1444.85h34.65v4.05h-34.65zM1375.05 1448.9h34.65v4.05h-34.65zM1375.05 1452.95h34.65v4.05h-34.65zM1097.85 1457h34.65v4.05h-34.65zM1375.05 1457h34.65v4.05h-34.65zM1409.7 1461.05h34.65v4.05h-34.65zM1479 1461.05h103.95v4.05h-103.95zM751.35 1465.1h34.65v4.05h-34.65zM1271.1 1465.1h34.65v4.05h-34.65zM1409.7 1465.1h34.65v4.05h-34.65zM1479 1465.1h103.95v4.05h-103.95zM1375.05 1469.15h34.65v4.05h-34.65zM1132.5 1473.2h34.65v4.05h-34.65zM1271.1 1473.2h34.65v4.05h-34.65zM1132.5 1477.25h34.65v4.05h-34.65zM1582.95 1481.3h34.65v4.05h-34.65zM1097.85 1485.35h34.65v4.05h-34.65zM1409.7 1485.35h34.65v4.05h-34.65zM1513.65 1485.35h103.95v4.05h-103.95zM1409.7 1489.4h34.65v4.05h-34.65zM1513.65 1489.4h69.3v4.05h-69.3zM1271.1 1493.45h34.65v4.05h-34.65zM1236.45 1497.5h34.65v4.05h-34.65zM1097.85 1505.6h34.65v4.05h-34.65zM1409.7 1505.6h34.65v4.05h-34.65zM1513.65 1505.6h69.3v4.05h-69.3zM543.45 1513.7h34.65v4.05h-34.65zM1028.55 1513.7h34.65v4.05h-34.65zM1132.5 1513.7h34.65v4.05h-34.65zM1271.1 1513.7h103.95v4.05h-103.95zM1444.35 1513.7h34.65v4.05h-34.65zM1271.1 1517.75h34.65v4.05h-34.65zM1582.95 1517.75h34.65v4.05h-34.65zM1271.1 1521.8h34.65v4.05h-34.65zM1582.95 1521.8h34.65v4.05h-34.65zM786 1529.9h34.65v4.05h-34.65zM1409.7 1538h69.3v4.05h-69.3zM1513.65 1538h69.3v4.05h-69.3zM1548.3 1542.05h34.65v4.05h-34.65zM1444.35 1550.15h34.65v4.05h-34.65zM1271.1 1554.2h34.65v4.05h-34.65zM1582.95 1558.25h34.65v4.05h-34.65zM1271.1 1574.45h34.65v4.05h-34.65zM751.35 1578.5h69.3v4.05h-69.3zM993.9 1578.5h69.3v4.05h-69.3zM1132.5 1578.5h34.65v4.05h-34.65zM1201.8 1578.5h34.65v4.05h-34.65zM1271.1 1578.5h34.65v4.05h-34.65zM1409.7 1578.5h34.65v4.05h-34.65zM1479 1578.5h103.95v4.05h-103.95zM1271.1 1582.55h34.65v4.05h-34.65zM1271.1 1586.6h34.65v4.05h-34.65zM335.55 1594.7h658.35v4.05h-658.35zM1028.55 1594.7h138.6v4.05h-138.6zM1236.45 1594.7h34.65v4.05h-34.65zM1305.75 1594.7h277.2v4.05h-277.2zM335.55 1598.75h138.6v4.05h-138.6zM508.8 1598.75h34.65v4.05h-34.65zM578.1 1598.75h311.85v4.05h-311.85zM924.6 1598.75h69.3v4.05h-69.3zM1028.55 1598.75h138.6v4.05h-138.6zM1236.45 1598.75h34.65v4.05h-34.65zM1305.75 1598.75h277.2v4.05h-277.2zM335.55 1602.8h658.35v4.05h-658.35zM1028.55 1602.8h138.6v4.05h-138.6zM1236.45 1602.8h34.65v4.05h-34.65zM1305.75 1602.8h277.2v4.05h-277.2zM404.85 1610.9h34.65v4.05h-34.65zM474.15 1610.9h34.65v4.05h-34.65zM682.05 1610.9h138.6v4.05h-138.6zM924.6 1610.9h450.45v4.05h-450.45zM1409.7 1610.9h173.25v4.05h-173.25zM1271.1 1614.95h34.65v4.05h-34.65zM578.1 1619h103.95v4.05h-103.95zM924.6 1623.05h69.3v4.05h-69.3zM1028.55 1623.05h138.6v4.05h-138.6zM1236.45 1623.05h346.5v4.05h-346.5zM889.95 1627.1h34.65v4.05h-34.65zM1236.45 1627.1h69.3v4.05h-69.3zM1375.05 1627.1h34.65v4.05h-34.65zM1097.85 1631.15h34.65v4.05h-34.65zM1271.1 1631.15h34.65v4.05h-34.65zM1340.4 1631.15h34.65v4.05h-34.65zM1444.35 1631.15h34.65v4.05h-34.65zM1513.65 1631.15h69.3v4.05h-69.3zM924.6 1635.2h69.3v4.05h-69.3zM1271.1 1635.2h34.65v4.05h-34.65zM1548.3 1635.2h34.65v4.05h-34.65zM889.95 1639.25h34.65v4.05h-34.65zM1271.1 1639.25h34.65v4.05h-34.65zM1375.05 1639.25h34.65v4.05h-34.65zM1548.3 1639.25h34.65v4.05h-34.65zM1236.45 1643.3h69.3v4.05h-69.3zM1548.3 1643.3h34.65v4.05h-34.65zM1236.45 1647.35h69.3v4.05h-69.3zM1548.3 1647.35h34.65v4.05h-34.65zM1513.65 1651.4h69.3v4.05h-69.3zM1444.35 1655.45h34.65v4.05h-34.65zM1513.65 1655.45h69.3v4.05h-69.3zM1271.1 1659.5h34.65v4.05h-34.65zM1444.35 1659.5h34.65v4.05h-34.65zM1513.65 1659.5h69.3v4.05h-69.3zM1271.1 1663.55h34.65v4.05h-34.65zM1444.35 1663.55h34.65v4.05h-34.65zM1513.65 1663.55h69.3v4.05h-69.3zM1375.05 1667.6h34.65v4.05h-34.65zM1444.35 1667.6h34.65v4.05h-34.65zM1513.65 1667.6h69.3v4.05h-69.3zM1340.4 1671.65h34.65v4.05h-34.65zM1444.35 1671.65h34.65v4.05h-34.65zM1513.65 1671.65h69.3v4.05h-69.3zM1271.1 1675.7h34.65v4.05h-34.65zM1444.35 1675.7h34.65v4.05h-34.65zM1513.65 1675.7h69.3v4.05h-69.3zM1513.65 1679.75h69.3v4.05h-69.3zM1340.4 1683.8h69.3v4.05h-69.3zM1444.35 1683.8h34.65v4.05h-34.65zM1513.65 1683.8h69.3v4.05h-69.3zM1444.35 1687.85h34.65v4.05h-34.65zM1513.65 1687.85h69.3v4.05h-69.3zM1513.65 1691.9h69.3v4.05h-69.3zM1444.35 1695.95h34.65v4.05h-34.65zM1513.65 1695.95h69.3v4.05h-69.3zM1340.4 1700h34.65v4.05h-34.65zM1444.35 1700h34.65v4.05h-34.65zM1513.65 1700h69.3v4.05h-69.3zM1444.35 1704.05h34.65v4.05h-34.65zM1513.65 1704.05h69.3v4.05h-69.3zM1444.35 1708.1h34.65v4.05h-34.65zM1513.65 1708.1h69.3v4.05h-69.3zM1271.1 1712.15h34.65v4.05h-34.65zM1375.05 1716.2h34.65v4.05h-34.65zM1582.95 1716.2h34.65v4.05h-34.65zM751.35 1720.25h69.3v4.05h-69.3zM993.9 1720.25h34.65v4.05h-34.65zM1167.15 1720.25h103.95v4.05h-103.95zM1409.7 1720.25h34.65v4.05h-34.65zM1479 1720.25h138.6v4.05h-138.6zM1582.95 1724.3h34.65v4.05h-34.65zM1305.75 1728.35h34.65v4.05h-34.65zM1409.7 1728.35h34.65v4.05h-34.65zM1479 1728.35h138.6v4.05h-138.6zM1028.55 1732.4h34.65v4.05h-34.65zM1132.5 1732.4h34.65v4.05h-34.65zM1375.05 1732.4h207.9v4.05h-207.9zM889.95 1736.45h34.65v4.05h-34.65zM1271.1 1740.5h34.65v4.05h-34.65zM578.1 1744.55h173.25v4.05h-173.25zM786 1744.55h34.65v4.05h-34.65zM1582.95 1744.55h34.65v4.05h-34.65zM578.1 1748.6h103.95v4.05h-103.95zM1271.1 1748.6h34.65v4.05h-34.65zM1409.7 1748.6h34.65v4.05h-34.65zM1479 1748.6h103.95v4.05h-103.95zM578.1 1752.65h103.95v4.05h-103.95zM1271.1 1752.65h34.65v4.05h-34.65zM1340.4 1752.65h69.3v4.05h-69.3zM1444.35 1752.65h34.65v4.05h-34.65zM1513.65 1752.65h69.3v4.05h-69.3zM578.1 1756.7h103.95v4.05h-103.95zM1271.1 1756.7h34.65v4.05h-34.65zM578.1 1760.75h103.95v4.05h-103.95zM1271.1 1760.75h34.65v4.05h-34.65zM578.1 1764.8h103.95v4.05h-103.95zM1028.55 1764.8h34.65v4.05h-34.65zM1132.5 1764.8h34.65v4.05h-34.65zM1271.1 1764.8h34.65v4.05h-34.65zM1375.05 1764.8h69.3v4.05h-69.3zM1479 1764.8h103.95v4.05h-103.95zM578.1 1768.85h103.95v4.05h-103.95zM889.95 1768.85h103.95v4.05h-103.95zM1028.55 1768.85h138.6v4.05h-138.6zM1236.45 1768.85h69.3v4.05h-69.3zM1375.05 1768.85h69.3v4.05h-69.3zM1479 1768.85h103.95v4.05h-103.95zM578.1 1772.9h103.95v4.05h-103.95zM924.6 1772.9h69.3v4.05h-69.3zM1028.55 1772.9h138.6v4.05h-138.6zM1236.45 1772.9h69.3v4.05h-69.3zM1375.05 1772.9h69.3v4.05h-69.3zM1479 1772.9h103.95v4.05h-103.95zM578.1 1776.95h103.95v4.05h-103.95zM1028.55 1776.95h34.65v4.05h-34.65zM1132.5 1776.95h34.65v4.05h-34.65zM1271.1 1776.95h34.65v4.05h-34.65zM1375.05 1776.95h69.3v4.05h-69.3zM1479 1776.95h103.95v4.05h-103.95zM404.85 1781h138.6v4.05h-138.6zM751.35 1781h34.65v4.05h-34.65zM993.9 1781h34.65v4.05h-34.65zM1167.15 1781h69.3v4.05h-69.3zM1444.35 1781h34.65v4.05h-34.65zM1548.3 1781h69.3v4.05h-69.3zM1582.95 1785.05h34.65v4.05h-34.65zM1236.45 1789.1h69.3v4.05h-69.3zM1028.55 1793.15h69.3v4.05h-69.3zM1132.5 1793.15h34.65v4.05h-34.65zM1236.45 1793.15h34.65v4.05h-34.65zM1271.1 1797.2h34.65v4.05h-34.65zM1548.3 1797.2h34.65v4.05h-34.65zM1548.3 1801.25h34.65v4.05h-34.65zM578.1 1809.35h103.95v4.05h-103.95zM1271.1 1809.35h34.65v4.05h-34.65zM1375.05 1809.35h34.65v4.05h-34.65zM1409.7 1813.4h34.65v4.05h-34.65zM1479 1813.4h138.6v4.05h-138.6zM924.6 1817.45h34.65v4.05h-34.65zM1097.85 1817.45h34.65v4.05h-34.65zM1271.1 1817.45h34.65v4.05h-34.65zM1513.65 1817.45h69.3v4.05h-69.3zM335.55 1821.5h34.65v4.05h-34.65zM682.05 1821.5h138.6v4.05h-138.6zM889.95 1821.5h34.65v4.05h-34.65zM959.25 1821.5h346.5v4.05h-346.5zM1409.7 1821.5h34.65v4.05h-34.65zM1479 1821.5h103.95v4.05h-103.95zM404.85 1825.55h138.6v4.05h-138.6zM682.05 1825.55h138.6v4.05h-138.6zM889.95 1825.55h138.6v4.05h-138.6zM1167.15 1825.55h69.3v4.05h-69.3zM1340.4 1825.55h242.55v4.05h-242.55zM335.55 1829.6h207.9v4.05h-207.9zM716.7 1829.6h103.95v4.05h-103.95zM889.95 1829.6h34.65v4.05h-34.65zM993.9 1829.6h34.65v4.05h-34.65zM1167.15 1829.6h69.3v4.05h-69.3zM1375.05 1829.6h69.3v4.05h-69.3zM1479 1829.6h103.95v4.05h-103.95zM543.45 1833.65h34.65v4.05h-34.65zM1028.55 1833.65h138.6v4.05h-138.6zM1236.45 1833.65h34.65v4.05h-34.65zM1305.75 1833.65h138.6v4.05h-138.6zM1479 1833.65h138.6v4.05h-138.6zM1582.95 1837.7h34.65v4.05h-34.65zM543.45 1841.75h34.65v4.05h-34.65zM1028.55 1841.75h34.65v4.05h-34.65zM1132.5 1841.75h34.65v4.05h-34.65zM1305.75 1841.75h69.3v4.05h-69.3zM1409.7 1841.75h207.9v4.05h-207.9zM1409.7 1845.8h69.3v4.05h-69.3zM1513.65 1845.8h69.3v4.05h-69.3zM578.1 1853.9h103.95v4.05h-103.95zM924.6 1853.9h69.3v4.05h-69.3zM1028.55 1853.9h138.6v4.05h-138.6zM1236.45 1853.9h381.15v4.05h-381.15zM751.35 1857.95h34.65v4.05h-34.65zM820.65 1857.95h69.3v4.05h-69.3zM1132.5 1857.95h103.95v4.05h-103.95zM1271.1 1857.95h34.65v4.05h-34.65zM1409.7 1857.95h34.65v4.05h-34.65zM1479 1857.95h138.6v4.05h-138.6zM1271.1 1862h34.65v4.05h-34.65zM1340.4 1862h34.65v4.05h-34.65zM1444.35 1862h34.65v4.05h-34.65zM1548.3 1862h69.3v4.05h-69.3zM1271.1 1866.05h34.65v4.05h-34.65zM1444.35 1866.05h34.65v4.05h-34.65zM1513.65 1866.05h69.3v4.05h-69.3zM1375.05 1870.1h34.65v4.05h-34.65zM1444.35 1870.1h34.65v4.05h-34.65zM1513.65 1870.1h69.3v4.05h-69.3zM1305.75 1878.2h69.3v4.05h-69.3zM1444.35 1878.2h34.65v4.05h-34.65zM1028.55 1882.25h34.65v4.05h-34.65zM1132.5 1882.25h34.65v4.05h-34.65zM1409.7 1882.25h173.25v4.05h-173.25zM335.55 1886.3h242.55v4.05h-242.55zM682.05 1886.3h207.9v4.05h-207.9zM924.6 1886.3h69.3v4.05h-69.3zM1028.55 1886.3h138.6v4.05h-138.6zM1236.45 1886.3h34.65v4.05h-34.65zM1305.75 1886.3h277.2v4.05h-277.2zM1375.05 1890.35h34.65v4.05h-34.65zM1444.35 1890.35h34.65v4.05h-34.65zM1513.65 1890.35h103.95v4.05h-103.95zM1375.05 1894.4h34.65v4.05h-34.65zM1444.35 1894.4h34.65v4.05h-34.65zM1513.65 1894.4h103.95v4.05h-103.95zM682.05 1898.45h69.3v4.05h-69.3zM1028.55 1898.45h34.65v4.05h-34.65zM1132.5 1898.45h34.65v4.05h-34.65zM1305.75 1898.45h277.2v4.05h-277.2zM751.35 1902.5h69.3v4.05h-69.3zM924.6 1902.5h346.5v4.05h-346.5zM1375.05 1902.5h69.3v4.05h-69.3zM1479 1902.5h103.95v4.05h-103.95zM1271.1 1906.55h34.65v4.05h-34.65zM1271.1 1910.6h34.65v4.05h-34.65zM924.6 1914.65h69.3v4.05h-69.3zM1028.55 1914.65h138.6v4.05h-138.6zM1236.45 1914.65h34.65v4.05h-34.65zM1375.05 1914.65h69.3v4.05h-69.3zM1479 1914.65h103.95v4.05h-103.95zM1097.85 1918.7h34.65v4.05h-34.65zM1548.3 1922.75h34.65v4.05h-34.65zM924.6 1926.8h69.3v4.05h-69.3zM1028.55 1926.8h138.6v4.05h-138.6zM1236.45 1926.8h34.65v4.05h-34.65zM1305.75 1926.8h277.2v4.05h-277.2zM1028.55 1930.85h34.65v4.05h-34.65zM1132.5 1930.85h34.65v4.05h-34.65zM1444.35 1930.85h34.65v4.05h-34.65zM1513.65 1930.85h69.3v4.05h-69.3zM543.45 1938.95h34.65v4.05h-34.65zM1028.55 1938.95h34.65v4.05h-34.65zM1132.5 1938.95h34.65v4.05h-34.65zM1271.1 1938.95h103.95v4.05h-103.95zM1409.7 1938.95h173.25v4.05h-173.25zM543.45 1943h34.65v4.05h-34.65zM924.6 1943h69.3v4.05h-69.3zM1028.55 1943h138.6v4.05h-138.6zM1236.45 1943h34.65v4.05h-34.65zM1305.75 1943h69.3v4.05h-69.3zM1409.7 1943h173.25v4.05h-173.25zM889.95 1947.05h103.95v4.05h-103.95zM1028.55 1947.05h138.6v4.05h-138.6zM1236.45 1947.05h34.65v4.05h-34.65zM1444.35 1947.05h34.65v4.05h-34.65zM889.95 1951.1h34.65v4.05h-34.65zM1028.55 1955.15h34.65v4.05h-34.65zM1132.5 1955.15h34.65v4.05h-34.65zM1305.75 1955.15h69.3v4.05h-69.3zM1409.7 1955.15h207.9v4.05h-207.9zM1305.75 1959.2h138.6v4.05h-138.6zM1479 1959.2h138.6v4.05h-138.6zM543.45 1963.25h34.65v4.05h-34.65zM1028.55 1963.25h34.65v4.05h-34.65zM1132.5 1963.25h34.65v4.05h-34.65zM1305.75 1963.25h69.3v4.05h-69.3zM1409.7 1963.25h173.25v4.05h-173.25zM1271.1 1967.3h34.65v4.05h-34.65zM1548.3 1967.3h34.65v4.05h-34.65zM1271.1 1971.35h34.65v4.05h-34.65zM1548.3 1975.4h34.65v4.05h-34.65zM543.45 1979.45h34.65v4.05h-34.65zM889.95 1979.45h103.95v4.05h-103.95zM1028.55 1979.45h138.6v4.05h-138.6zM1236.45 1979.45h346.5v4.05h-346.5zM889.95 1983.5h34.65v4.05h-34.65zM1271.1 1983.5h34.65v4.05h-34.65zM1444.35 1983.5h34.65v4.05h-34.65zM1582.95 1983.5h34.65v4.05h-34.65zM1271.1 1987.55h34.65v4.05h-34.65zM1582.95 1987.55h34.65v4.05h-34.65zM1271.1 1991.6h34.65v4.05h-34.65zM1375.05 1991.6h34.65v4.05h-34.65zM1582.95 1991.6h34.65v4.05h-34.65zM1271.1 1995.65h34.65v4.05h-34.65zM1375.05 1995.65h34.65v4.05h-34.65zM1582.95 1995.65h34.65v4.05h-34.65zM543.45 1999.7h34.65v4.05h-34.65zM924.6 1999.7h69.3v4.05h-69.3zM1028.55 1999.7h138.6v4.05h-138.6zM1236.45 1999.7h34.65v4.05h-34.65zM1305.75 1999.7h138.6v4.05h-138.6zM1479 1999.7h103.95v4.05h-103.95zM1305.75 2003.75h69.3v4.05h-69.3zM1444.35 2003.75h34.65v4.05h-34.65zM1582.95 2003.75h34.65v4.05h-34.65zM1271.1 2007.8h34.65v4.05h-34.65zM1444.35 2011.85h34.65v4.05h-34.65zM543.45 2015.9h34.65v4.05h-34.65zM924.6 2015.9h69.3v4.05h-69.3zM1028.55 2015.9h138.6v4.05h-138.6zM1236.45 2015.9h34.65v4.05h-34.65zM1305.75 2015.9h138.6v4.05h-138.6zM1479 2015.9h103.95v4.05h-103.95zM924.6 2019.95h69.3v4.05h-69.3zM1028.55 2019.95h138.6v4.05h-138.6zM1236.45 2019.95h69.3v4.05h-69.3zM1375.05 2019.95h34.65v4.05h-34.65zM1444.35 2019.95h34.65v4.05h-34.65zM1582.95 2019.95h34.65v4.05h-34.65zM543.45 2024h34.65v4.05h-34.65zM924.6 2024h69.3v4.05h-69.3zM1028.55 2024h103.95v4.05h-103.95zM1236.45 2024h34.65v4.05h-34.65zM1305.75 2024h311.85v4.05h-311.85zM1444.35 2028.05h34.65v4.05h-34.65zM543.45 2044.25h34.65v4.05h-34.65zM1305.75 2044.25h138.6v4.05h-138.6zM1479 2044.25h103.95v4.05h-103.95zM924.6 2048.3h69.3v4.05h-69.3zM1028.55 2048.3h138.6v4.05h-138.6zM1236.45 2048.3h34.65v4.05h-34.65zM1305.75 2048.3h277.2v4.05h-277.2zM1548.3 2056.4h34.65v4.05h-34.65zM1409.7 2060.45h34.65v4.05h-34.65zM1479 2060.45h103.95v4.05h-103.95zM1305.75 2068.55h34.65v4.05h-34.65zM1409.7 2068.55h34.65v4.05h-34.65zM1479 2068.55h138.6v4.05h-138.6zM1271.1 2072.6h69.3v4.05h-69.3zM1444.35 2072.6h34.65v4.05h-34.65zM1513.65 2072.6h69.3v4.05h-69.3zM1271.1 2076.65h34.65v4.05h-34.65zM1375.05 2076.65h34.65v4.05h-34.65zM1444.35 2076.65h34.65v4.05h-34.65zM1513.65 2076.65h69.3v4.05h-69.3zM1271.1 2080.7h34.65v4.05h-34.65zM1375.05 2080.7h34.65v4.05h-34.65zM1444.35 2080.7h34.65v4.05h-34.65zM1513.65 2080.7h69.3v4.05h-69.3zM1513.65 2084.75h69.3v4.05h-69.3zM751.35 2088.8h34.65v4.05h-34.65zM1167.15 2088.8h69.3v4.05h-69.3zM1271.1 2088.8h34.65v4.05h-34.65zM1548.3 2088.8h34.65v4.05h-34.65zM1028.55 2092.85h138.6v4.05h-138.6zM1236.45 2092.85h34.65v4.05h-34.65zM1340.4 2092.85h242.55v4.05h-242.55zM335.55 2096.9h207.9v4.05h-207.9zM716.7 2096.9h103.95v4.05h-103.95zM889.95 2096.9h693v4.05h-693zM335.55 2100.95h138.6v4.05h-138.6zM508.8 2100.95h34.65v4.05h-34.65zM682.05 2100.95h138.6v4.05h-138.6zM924.6 2100.95h658.35v4.05h-658.35zM335.55 2105h207.9v4.05h-207.9zM682.05 2105h138.6v4.05h-138.6zM993.9 2105h69.3v4.05h-69.3zM1132.5 2105h103.95v4.05h-103.95zM1271.1 2105h103.95v4.05h-103.95zM1409.7 2105h173.25v4.05h-173.25zM924.6 2109.05h69.3v4.05h-69.3zM1028.55 2109.05h138.6v4.05h-138.6zM1236.45 2109.05h381.15v4.05h-381.15zM924.6 2113.1h69.3v4.05h-69.3zM1028.55 2113.1h138.6v4.05h-138.6zM1236.45 2113.1h69.3v4.05h-69.3zM1375.05 2113.1h207.9v4.05h-207.9zM1028.55 2117.15h34.65v4.05h-34.65zM1132.5 2117.15h34.65v4.05h-34.65zM1271.1 2117.15h311.85v4.05h-311.85zM751.35 2121.2h34.65v4.05h-34.65zM820.65 2121.2h69.3v4.05h-69.3zM993.9 2121.2h34.65v4.05h-34.65zM1167.15 2121.2h69.3v4.05h-69.3zM1271.1 2121.2h103.95v4.05h-103.95zM1444.35 2121.2h34.65v4.05h-34.65zM1548.3 2121.2h34.65v4.05h-34.65zM543.45 2125.25h34.65v4.05h-34.65zM1236.45 2125.25h34.65v4.05h-34.65zM1305.75 2125.25h277.2v4.05h-277.2zM439.5 2129.3h34.65v4.05h-34.65zM543.45 2129.3h34.65v4.05h-34.65zM682.05 2129.3h207.9v4.05h-207.9zM1132.5 2129.3h34.65v4.05h-34.65zM1305.75 2129.3h277.2v4.05h-277.2zM889.95 2133.35h34.65v4.05h-34.65zM335.55 2137.4h242.55v4.05h-242.55zM682.05 2137.4h207.9v4.05h-207.9zM924.6 2137.4h69.3v4.05h-69.3zM1028.55 2137.4h138.6v4.05h-138.6zM1236.45 2137.4h34.65v4.05h-34.65zM1305.75 2137.4h277.2v4.05h-277.2zM335.55 2141.45h34.65v4.05h-34.65zM751.35 2141.45h34.65v4.05h-34.65zM820.65 2141.45h69.3v4.05h-69.3zM993.9 2141.45h34.65v4.05h-34.65zM1167.15 2141.45h69.3v4.05h-69.3zM1271.1 2141.45h34.65v4.05h-34.65zM1340.4 2141.45h69.3v4.05h-69.3zM1444.35 2141.45h34.65v4.05h-34.65zM1513.65 2141.45h69.3v4.05h-69.3zM1236.45 2145.5h69.3v4.05h-69.3zM335.55 2149.55h207.9v4.05h-207.9zM682.05 2149.55h207.9v4.05h-207.9zM1236.45 2149.55h69.3v4.05h-69.3zM1409.7 2149.55h173.25v4.05h-173.25zM889.95 2153.6h103.95v4.05h-103.95zM1028.55 2153.6h138.6v4.05h-138.6zM1236.45 2153.6h34.65v4.05h-34.65zM1305.75 2153.6h277.2v4.05h-277.2zM1375.05 2165.75h34.65v4.05h-34.65zM1028.55 2169.8h34.65v4.05h-34.65zM1132.5 2169.8h34.65v4.05h-34.65zM1444.35 2169.8h34.65v4.05h-34.65zM1513.65 2169.8h69.3v4.05h-69.3zM924.6 2173.85h34.65v4.05h-34.65zM1582.95 2173.85h34.65v4.05h-34.65zM1236.45 2186h34.65v4.05h-34.65zM1582.95 2190.05h34.65v4.05h-34.65zM1582.95 2194.1h34.65v4.05h-34.65zM1582.95 2198.15h34.65v4.05h-34.65zM1582.95 2202.2h34.65v4.05h-34.65zM1582.95 2206.25h34.65v4.05h-34.65zM1582.95 2210.3h34.65v4.05h-34.65zM751.35 2214.35h34.65v4.05h-34.65zM1271.1 2214.35h69.3v4.05h-69.3zM1340.4 2218.4h34.65v4.05h-34.65zM1444.35 2218.4h34.65v4.05h-34.65zM1513.65 2218.4h69.3v4.05h-69.3zM1375.05 2222.45h34.65v4.05h-34.65zM1513.65 2222.45h69.3v4.05h-69.3zM1340.4 2226.5h242.55v4.05h-242.55zM1409.7 2230.55h34.65v4.05h-34.65zM1479 2230.55h103.95v4.05h-103.95zM1548.3 2238.65h69.3v4.05h-69.3zM1548.3 2242.7h34.65v4.05h-34.65zM335.55 2250.8h242.55v4.05h-242.55zM682.05 2250.8h207.9v4.05h-207.9zM1028.55 2250.8h34.65v4.05h-34.65zM1132.5 2250.8h34.65v4.05h-34.65zM1271.1 2250.8h103.95v4.05h-103.95zM1409.7 2250.8h173.25v4.05h-173.25zM335.55 2254.85h242.55v4.05h-242.55zM682.05 2254.85h242.55v4.05h-242.55zM1028.55 2254.85h34.65v4.05h-34.65zM1132.5 2254.85h34.65v4.05h-34.65zM1305.75 2254.85h69.3v4.05h-69.3zM1409.7 2254.85h173.25v4.05h-173.25zM1375.05 2258.9h34.65v4.05h-34.65zM1548.3 2258.9h34.65v4.05h-34.65zM751.35 2262.95h34.65v4.05h-34.65zM993.9 2262.95h34.65v4.05h-34.65zM1167.15 2262.95h69.3v4.05h-69.3zM1271.1 2262.95h34.65v4.05h-34.65zM1548.3 2262.95h34.65v4.05h-34.65zM1271.1 2267h34.65v4.05h-34.65zM1271.1 2271.05h34.65v4.05h-34.65zM1375.05 2271.05h34.65v4.05h-34.65zM1548.3 2271.05h34.65v4.05h-34.65zM682.05 2279.15h69.3v4.05h-69.3zM1063.2 2279.15h34.65v4.05h-34.65zM1236.45 2279.15h34.65v4.05h-34.65zM1305.75 2279.15h277.2v4.05h-277.2zM1028.55 2283.2h34.65v4.05h-34.65zM1132.5 2283.2h34.65v4.05h-34.65zM1271.1 2283.2h34.65v4.05h-34.65zM1375.05 2283.2h69.3v4.05h-69.3zM1479 2283.2h103.95v4.05h-103.95zM335.55 2287.25h242.55v4.05h-242.55zM682.05 2287.25h207.9v4.05h-207.9zM924.6 2287.25h69.3v4.05h-69.3zM1028.55 2287.25h138.6v4.05h-138.6zM1236.45 2287.25h346.5v4.05h-346.5zM682.05 2291.3h69.3v4.05h-69.3zM924.6 2291.3h69.3v4.05h-69.3zM1028.55 2291.3h138.6v4.05h-138.6zM1236.45 2291.3h69.3v4.05h-69.3zM1340.4 2291.3h242.55v4.05h-242.55zM335.55 2295.35h69.3v4.05h-69.3zM1305.75 2295.35h277.2v4.05h-277.2zM889.95 2299.4h34.65v4.05h-34.65zM889.95 2303.45h34.65v4.05h-34.65zM1097.85 2303.45h34.65v4.05h-34.65zM1409.7 2303.45h34.65v4.05h-34.65zM1479 2303.45h103.95v4.05h-103.95zM1236.45 2307.5h34.65v4.05h-34.65zM1513.65 2315.6h69.3v4.05h-69.3zM1132.5 2319.65h34.65v4.05h-34.65zM1375.05 2319.65h69.3v4.05h-69.3zM1513.65 2319.65h69.3v4.05h-69.3zM1375.05 2323.7h207.9v4.05h-207.9zM1409.7 2327.75h34.65v4.05h-34.65zM1479 2327.75h103.95v4.05h-103.95zM1375.05 2331.8h69.3v4.05h-69.3zM1479 2331.8h103.95v4.05h-103.95zM335.55 1594.7h34.65v12.15h-34.65zM335.55 2096.9h34.65v12.15h-34.65zM335.55 2137.4h34.65v8.1h-34.65zM335.55 2250.8h34.65v8.1h-34.65zM370.2 1594.7h34.65v12.15h-34.65zM370.2 2096.9h34.65v12.15h-34.65zM370.2 2250.8h34.65v8.1h-34.65zM404.85 1594.7h34.65v12.15h-34.65zM404.85 1825.55h34.65v8.1h-34.65zM404.85 2096.9h34.65v12.15h-34.65zM404.85 2250.8h34.65v8.1h-34.65zM439.5 1594.7h34.65v12.15h-34.65zM439.5 1825.55h34.65v8.1h-34.65zM439.5 2096.9h34.65v12.15h-34.65zM439.5 2250.8h34.65v8.1h-34.65zM474.15 1825.55h34.65v8.1h-34.65zM474.15 2250.8h34.65v8.1h-34.65zM508.8 1594.7h34.65v12.15h-34.65zM508.8 1825.55h34.65v8.1h-34.65zM508.8 2096.9h34.65v12.15h-34.65zM508.8 2250.8h34.65v8.1h-34.65zM543.45 1938.95h34.65v8.1h-34.65zM543.45 2125.25h34.65v8.1h-34.65zM543.45 2250.8h34.65v8.1h-34.65zM578.1 1594.7h34.65v12.15h-34.65zM578.1 1744.55h34.65v36.45h-34.65zM612.75 1594.7h34.65v12.15h-34.65zM612.75 1744.55h34.65v36.45h-34.65zM647.4 1594.7h34.65v12.15h-34.65zM647.4 1744.55h34.65v36.45h-34.65zM682.05 1594.7h34.65v12.15h-34.65zM682.05 1821.5h34.65v8.1h-34.65zM682.05 2100.95h34.65v8.1h-34.65zM682.05 2250.8h34.65v8.1h-34.65zM682.05 2287.25h34.65v8.1h-34.65zM716.7 1594.7h34.65v12.15h-34.65zM716.7 1821.5h34.65v12.15h-34.65zM716.7 2096.9h34.65v12.15h-34.65zM716.7 2250.8h34.65v8.1h-34.65zM716.7 2287.25h34.65v8.1h-34.65zM751.35 1355.75h34.65v8.1h-34.65zM751.35 1594.7h34.65v12.15h-34.65zM751.35 1821.5h34.65v12.15h-34.65zM751.35 2096.9h34.65v12.15h-34.65zM751.35 2137.4h34.65v8.1h-34.65zM751.35 2250.8h34.65v8.1h-34.65zM786 1416.5h34.65v8.1h-34.65zM786 1594.7h34.65v12.15h-34.65zM786 1821.5h34.65v12.15h-34.65zM786 2096.9h34.65v12.15h-34.65zM786 2250.8h34.65v8.1h-34.65zM820.65 1594.7h34.65v12.15h-34.65zM820.65 2137.4h34.65v8.1h-34.65zM820.65 2250.8h34.65v8.1h-34.65zM855.3 1594.7h34.65v12.15h-34.65zM855.3 2137.4h34.65v8.1h-34.65zM855.3 2250.8h34.65v8.1h-34.65zM889.95 1821.5h34.65v12.15h-34.65zM889.95 1947.05h34.65v8.1h-34.65zM889.95 1979.45h34.65v8.1h-34.65zM889.95 2299.4h34.65v8.1h-34.65zM924.6 1594.7h34.65v12.15h-34.65zM924.6 1768.85h34.65v8.1h-34.65zM924.6 1943h34.65v8.1h-34.65zM924.6 2015.9h34.65v12.15h-34.65zM924.6 2096.9h34.65v8.1h-34.65zM924.6 2109.05h34.65v8.1h-34.65zM924.6 2287.25h34.65v8.1h-34.65zM959.25 1594.7h34.65v12.15h-34.65zM959.25 1768.85h34.65v8.1h-34.65zM959.25 1821.5h34.65v8.1h-34.65zM959.25 1943h34.65v8.1h-34.65zM959.25 2015.9h34.65v12.15h-34.65zM959.25 2096.9h34.65v8.1h-34.65zM959.25 2109.05h34.65v8.1h-34.65zM959.25 2287.25h34.65v8.1h-34.65zM993.9 1821.5h34.65v12.15h-34.65zM993.9 2096.9h34.65v12.15h-34.65zM1028.55 1594.7h34.65v12.15h-34.65zM1028.55 1764.8h34.65v16.2h-34.65zM1028.55 1882.25h34.65v8.1h-34.65zM1028.55 1898.45h34.65v8.1h-34.65zM1028.55 1926.8h34.65v8.1h-34.65zM1028.55 1938.95h34.65v12.15h-34.65zM1028.55 2015.9h34.65v12.15h-34.65zM1028.55 2092.85h34.65v28.35h-34.65zM1028.55 2250.8h34.65v8.1h-34.65zM1028.55 2283.2h34.65v12.15h-34.65zM1063.2 1594.7h34.65v12.15h-34.65zM1063.2 1768.85h34.65v8.1h-34.65zM1063.2 1943h34.65v8.1h-34.65zM1063.2 2015.9h34.65v12.15h-34.65zM1063.2 2092.85h34.65v12.15h-34.65zM1063.2 2109.05h34.65v8.1h-34.65zM1063.2 2287.25h34.65v8.1h-34.65zM1097.85 1594.7h34.65v12.15h-34.65zM1097.85 1768.85h34.65v8.1h-34.65zM1097.85 1817.45h34.65v8.1h-34.65zM1097.85 1914.65h34.65v8.1h-34.65zM1097.85 1943h34.65v8.1h-34.65zM1097.85 2015.9h34.65v12.15h-34.65zM1097.85 2092.85h34.65v12.15h-34.65zM1097.85 2109.05h34.65v8.1h-34.65zM1097.85 2287.25h34.65v8.1h-34.65zM1132.5 1355.75h34.65v8.1h-34.65zM1132.5 1473.2h34.65v8.1h-34.65zM1132.5 1594.7h34.65v12.15h-34.65zM1132.5 1764.8h34.65v16.2h-34.65zM1132.5 1853.9h34.65v8.1h-34.65zM1132.5 1882.25h34.65v8.1h-34.65zM1132.5 1898.45h34.65v8.1h-34.65zM1132.5 1926.8h34.65v8.1h-34.65zM1132.5 1938.95h34.65v12.15h-34.65zM1132.5 2015.9h34.65v8.1h-34.65zM1132.5 2092.85h34.65v28.35h-34.65zM1132.5 2250.8h34.65v8.1h-34.65zM1132.5 2283.2h34.65v12.15h-34.65zM1167.15 1821.5h34.65v12.15h-34.65zM1167.15 2096.9h34.65v12.15h-34.65zM1201.8 1821.5h34.65v12.15h-34.65zM1201.8 2096.9h34.65v12.15h-34.65zM1236.45 1380.05h34.65v8.1h-34.65zM1236.45 1594.7h34.65v12.15h-34.65zM1236.45 1623.05h34.65v8.1h-34.65zM1236.45 1643.3h34.65v8.1h-34.65zM1236.45 1768.85h34.65v8.1h-34.65zM1236.45 1789.1h34.65v8.1h-34.65zM1236.45 1943h34.65v8.1h-34.65zM1236.45 2015.9h34.65v12.15h-34.65zM1236.45 2092.85h34.65v12.15h-34.65zM1236.45 2109.05h34.65v8.1h-34.65zM1236.45 2145.5h34.65v12.15h-34.65zM1236.45 2287.25h34.65v8.1h-34.65zM1271.1 1343.6h34.65v8.1h-34.65zM1271.1 1513.7h34.65v12.15h-34.65zM1271.1 1574.45h34.65v16.2h-34.65zM1271.1 1610.9h34.65v8.1h-34.65zM1271.1 1623.05h34.65v28.35h-34.65zM1271.1 1659.5h34.65v8.1h-34.65zM1271.1 1748.6h34.65v32.4h-34.65zM1271.1 1817.45h34.65v8.1h-34.65zM1271.1 1853.9h34.65v16.2h-34.65zM1271.1 1906.55h34.65v8.1h-34.65zM1271.1 1967.3h34.65v8.1h-34.65zM1271.1 1979.45h34.65v20.25h-34.65zM1271.1 2072.6h34.65v12.15h-34.65zM1271.1 2096.9h34.65v28.35h-34.65zM1271.1 2141.45h34.65v12.15h-34.65zM1271.1 2262.95h34.65v12.15h-34.65zM1271.1 2283.2h34.65v12.15h-34.65zM1305.75 1594.7h34.65v12.15h-34.65zM1305.75 1938.95h34.65v8.1h-34.65zM1305.75 1955.15h34.65v12.15h-34.65zM1305.75 1999.7h34.65v8.1h-34.65zM1305.75 2044.25h34.65v8.1h-34.65zM1305.75 2068.55h34.65v8.1h-34.65zM1305.75 2096.9h34.65v16.2h-34.65zM1305.75 2117.15h34.65v16.2h-34.65zM1305.75 2250.8h34.65v8.1h-34.65zM1340.4 1594.7h34.65v12.15h-34.65zM1340.4 1938.95h34.65v8.1h-34.65zM1340.4 1955.15h34.65v12.15h-34.65zM1340.4 1999.7h34.65v8.1h-34.65zM1340.4 2044.25h34.65v8.1h-34.65zM1340.4 2092.85h34.65v20.25h-34.65zM1340.4 2117.15h34.65v16.2h-34.65zM1340.4 2137.4h34.65v8.1h-34.65zM1340.4 2250.8h34.65v8.1h-34.65zM1340.4 2287.25h34.65v12.15h-34.65zM1375.05 1448.9h34.65v12.15h-34.65zM1375.05 1594.7h34.65v12.15h-34.65zM1375.05 1623.05h34.65v8.1h-34.65zM1375.05 1764.8h34.65v16.2h-34.65zM1375.05 1825.55h34.65v12.15h-34.65zM1375.05 1886.3h34.65v20.25h-34.65zM1375.05 1991.6h34.65v12.15h-34.65zM1375.05 2015.9h34.65v12.15h-34.65zM1375.05 2044.25h34.65v8.1h-34.65zM1375.05 2076.65h34.65v8.1h-34.65zM1375.05 2092.85h34.65v12.15h-34.65zM1375.05 2109.05h34.65v12.15h-34.65zM1375.05 2125.25h34.65v8.1h-34.65zM1375.05 2137.4h34.65v8.1h-34.65zM1375.05 2222.45h34.65v8.1h-34.65zM1375.05 2279.15h34.65v20.25h-34.65zM1375.05 2319.65h34.65v8.1h-34.65zM1409.7 1359.8h34.65v8.1h-34.65zM1409.7 1461.05h34.65v8.1h-34.65zM1409.7 1485.35h34.65v8.1h-34.65zM1409.7 1594.7h34.65v12.15h-34.65zM1409.7 1728.35h34.65v8.1h-34.65zM1409.7 1764.8h34.65v16.2h-34.65zM1409.7 1821.5h34.65v16.2h-34.65zM1409.7 1841.75h34.65v8.1h-34.65zM1409.7 1853.9h34.65v8.1h-34.65zM1409.7 1882.25h34.65v8.1h-34.65zM1409.7 1898.45h34.65v8.1h-34.65zM1409.7 1938.95h34.65v8.1h-34.65zM1409.7 1955.15h34.65v12.15h-34.65zM1409.7 2044.25h34.65v8.1h-34.65zM1409.7 2092.85h34.65v28.35h-34.65zM1409.7 2125.25h34.65v8.1h-34.65zM1409.7 2149.55h34.65v8.1h-34.65zM1409.7 2226.5h34.65v8.1h-34.65zM1409.7 2250.8h34.65v8.1h-34.65zM1409.7 2279.15h34.65v20.25h-34.65zM1409.7 2319.65h34.65v16.2h-34.65zM1444.35 1424.6h34.65v8.1h-34.65zM1444.35 1594.7h34.65v12.15h-34.65zM1444.35 1655.45h34.65v24.3h-34.65zM1444.35 1683.8h34.65v8.1h-34.65zM1444.35 1695.95h34.65v16.2h-34.65zM1444.35 1841.75h34.65v8.1h-34.65zM1444.35 1862h34.65v12.15h-34.65zM1444.35 1878.2h34.65v24.3h-34.65zM1444.35 1926.8h34.65v8.1h-34.65zM1444.35 1938.95h34.65v12.15h-34.65zM1444.35 1979.45h34.65v8.1h-34.65zM1444.35 2019.95h34.65v12.15h-34.65zM1444.35 2072.6h34.65v12.15h-34.65zM1444.35 2092.85h34.65v40.5h-34.65zM1444.35 2137.4h34.65v8.1h-34.65zM1444.35 2149.55h34.65v8.1h-34.65zM1444.35 2250.8h34.65v8.1h-34.65zM1444.35 2287.25h34.65v12.15h-34.65zM1479 1359.8h34.65v8.1h-34.65zM1479 1461.05h34.65v8.1h-34.65zM1479 1594.7h34.65v12.15h-34.65zM1479 1728.35h34.65v8.1h-34.65zM1479 1764.8h34.65v16.2h-34.65zM1479 1821.5h34.65v16.2h-34.65zM1479 1853.9h34.65v8.1h-34.65zM1479 1882.25h34.65v8.1h-34.65zM1479 1898.45h34.65v8.1h-34.65zM1479 1938.95h34.65v8.1h-34.65zM1479 1955.15h34.65v12.15h-34.65zM1479 2044.25h34.65v8.1h-34.65zM1479 2092.85h34.65v28.35h-34.65zM1479 2125.25h34.65v8.1h-34.65zM1479 2149.55h34.65v8.1h-34.65zM1479 2226.5h34.65v8.1h-34.65zM1479 2250.8h34.65v8.1h-34.65zM1479 2279.15h34.65v20.25h-34.65zM1479 2323.7h34.65v12.15h-34.65zM1513.65 1355.75h34.65v12.15h-34.65zM1513.65 1461.05h34.65v8.1h-34.65zM1513.65 1485.35h34.65v8.1h-34.65zM1513.65 1594.7h34.65v12.15h-34.65zM1513.65 1651.4h34.65v60.75h-34.65zM1513.65 1728.35h34.65v8.1h-34.65zM1513.65 1748.6h34.65v8.1h-34.65zM1513.65 1764.8h34.65v16.2h-34.65zM1513.65 1813.4h34.65v24.3h-34.65zM1513.65 1841.75h34.65v8.1h-34.65zM1513.65 1853.9h34.65v8.1h-34.65zM1513.65 1866.05h34.65v8.1h-34.65zM1513.65 1882.25h34.65v24.3h-34.65zM1513.65 1926.8h34.65v8.1h-34.65zM1513.65 1938.95h34.65v8.1h-34.65zM1513.65 1955.15h34.65v12.15h-34.65zM1513.65 2044.25h34.65v8.1h-34.65zM1513.65 2068.55h34.65v20.25h-34.65zM1513.65 2092.85h34.65v28.35h-34.65zM1513.65 2125.25h34.65v8.1h-34.65zM1513.65 2137.4h34.65v8.1h-34.65zM1513.65 2149.55h34.65v8.1h-34.65zM1513.65 2218.4h34.65v16.2h-34.65zM1513.65 2250.8h34.65v8.1h-34.65zM1513.65 2279.15h34.65v20.25h-34.65zM1513.65 2315.6h34.65v20.25h-34.65zM1548.3 1355.75h34.65v12.15h-34.65zM1548.3 1461.05h34.65v8.1h-34.65zM1548.3 1485.35h34.65v8.1h-34.65zM1548.3 1538h34.65v8.1h-34.65zM1548.3 1594.7h34.65v12.15h-34.65zM1548.3 1631.15h34.65v81h-34.65zM1548.3 1728.35h34.65v8.1h-34.65zM1548.3 1748.6h34.65v8.1h-34.65zM1548.3 1764.8h34.65v20.25h-34.65zM1548.3 1797.2h34.65v8.1h-34.65zM1548.3 1813.4h34.65v24.3h-34.65zM1548.3 1841.75h34.65v8.1h-34.65zM1548.3 1853.9h34.65v20.25h-34.65zM1548.3 1882.25h34.65v24.3h-34.65zM1548.3 1922.75h34.65v12.15h-34.65zM1548.3 1938.95h34.65v8.1h-34.65zM1548.3 1955.15h34.65v16.2h-34.65zM1548.3 1975.4h34.65v8.1h-34.65zM1548.3 2044.25h34.65v8.1h-34.65zM1548.3 2056.4h34.65v8.1h-34.65zM1548.3 2068.55h34.65v64.8h-34.65zM1548.3 2137.4h34.65v8.1h-34.65zM1548.3 2149.55h34.65v8.1h-34.65zM1548.3 2218.4h34.65v16.2h-34.65zM1548.3 2238.65h34.65v8.1h-34.65zM1548.3 2250.8h34.65v16.2h-34.65zM1548.3 2279.15h34.65v20.25h-34.65zM1548.3 2315.6h34.65v20.25h-34.65zM1582.95 1440.8h34.65v8.1h-34.65zM1582.95 1481.3h34.65v8.1h-34.65zM1582.95 1517.75h34.65v8.1h-34.65zM1582.95 1716.2h34.65v16.2h-34.65zM1582.95 1781h34.65v8.1h-34.65zM1582.95 1833.65h34.65v12.15h-34.65zM1582.95 1853.9h34.65v12.15h-34.65zM1582.95 1890.35h34.65v8.1h-34.65zM1582.95 1955.15h34.65v8.1h-34.65zM1582.95 1983.5h34.65v16.2h-34.65zM1582.95 2019.95h34.65v8.1h-34.65zM1582.95 2190.05h34.65v24.3h-34.65z"/>
</g>
<rect x="231.8" y="1343.1" width="1385.8" height="992.7" fill="none" stroke="#000" stroke-width="3.2"/>
<g id="collabels" font-family='"Liberation Sans", Arial, Helvetica, sans-serif' font-size="20.2" fill="#000" text-anchor="end">
<text transform="translate(254.42 2364.5) rotate(-45)">Species</text>
<text transform="translate(289.07 2364.5) rotate(-45)">Case status</text>
<text transform="translate(323.73 2364.5) rotate(-45)">Infection site</text>
<text transform="translate(358.38 2364.5) rotate(-45)" font-style="italic">aac(6')-Ib-cr5</text>
<text transform="translate(393.02 2364.5) rotate(-45)" font-style="italic">bla<tspan font-size="14" dy="4" letter-spacing="0.6">OXA-1</tspan></text>
<text transform="translate(427.67 2364.5) rotate(-45)" font-style="italic">bla<tspan font-size="14" dy="4" letter-spacing="0.6">CTX-M-15</tspan></text>
<text transform="translate(462.32 2364.5) rotate(-45)" font-style="italic">group_13461</text>
<text transform="translate(496.98 2364.5) rotate(-45)" font-style="italic">group_13458</text>
<text transform="translate(531.62 2364.5) rotate(-45)" font-style="italic">group_13460</text>
<text transform="translate(566.27 2364.5) rotate(-45)" font-style="italic">group_13437</text>
<text transform="translate(600.92 2364.5) rotate(-45)" font-style="italic">group_5875</text>
<text transform="translate(635.57 2364.5) rotate(-45)" font-style="italic">tehA_2</text>
<text transform="translate(670.23 2364.5) rotate(-45)" font-style="italic">group_10494</text>
<text transform="translate(704.88 2364.5) rotate(-45)" font-style="italic">tnpR</text>
<text transform="translate(739.52 2364.5) rotate(-45)" font-style="italic">bla<tspan font-size="14" dy="4" letter-spacing="0.6">TEM-1</tspan></text>
<text transform="translate(774.17 2364.5) rotate(-45)" font-style="italic">group_9575</text>
<text transform="translate(808.83 2364.5) rotate(-45)" font-style="italic">group_13467</text>
<text transform="translate(843.48 2364.5) rotate(-45)" font-style="italic">group_5455</text>
<text transform="translate(878.12 2364.5) rotate(-45)" font-style="italic">sul2</text>
<text transform="translate(912.77 2364.5) rotate(-45)" font-style="italic">group_13965</text>
<text transform="translate(947.42 2364.5) rotate(-45)" font-style="italic">group_9537</text>
<text transform="translate(982.08 2364.5) rotate(-45)" font-style="italic">group_13443</text>
<text transform="translate(1016.73 2364.5) rotate(-45)" font-style="italic">group_7606</text>
<text transform="translate(1051.38 2364.5) rotate(-45)" font-style="italic">dgcE</text>
<text transform="translate(1086.02 2364.5) rotate(-45)" font-style="italic">aqpZ_2</text>
<text transform="translate(1120.67 2364.5) rotate(-45)" font-style="italic">group_2409</text>
<text transform="translate(1155.32 2364.5) rotate(-45)" font-style="italic">pdeC_2</text>
<text transform="translate(1189.97 2364.5) rotate(-45)" font-style="italic">sul1</text>
<text transform="translate(1224.62 2364.5) rotate(-45)" font-style="italic">qacEΔ1</text>
<text transform="translate(1259.27 2364.5) rotate(-45)" font-style="italic">arsD_1</text>
<text transform="translate(1293.92 2364.5) rotate(-45)" font-style="italic">group_774</text>
<text transform="translate(1328.57 2364.5) rotate(-45)" font-style="italic">group_7231</text>
<text transform="translate(1363.22 2364.5) rotate(-45)" font-style="italic">group_9530</text>
<text transform="translate(1397.87 2364.5) rotate(-45)" font-style="italic">ltrA</text>
<text transform="translate(1432.52 2364.5) rotate(-45)" font-style="italic">group_9528</text>
<text transform="translate(1467.17 2364.5) rotate(-45)" font-style="italic">group_622</text>
<text transform="translate(1501.82 2364.5) rotate(-45)" font-style="italic">group_4187</text>
<text transform="translate(1536.47 2364.5) rotate(-45)" font-style="italic">umuD_2</text>
<text transform="translate(1571.12 2364.5) rotate(-45)" font-style="italic">umuC_2</text>
<text transform="translate(1605.77 2364.5) rotate(-45)" font-style="italic">group_2513</text>
</g>
<g id="cbar" font-family='"Liberation Sans", Arial, Helvetica, sans-serif' font-size="28.8">
<rect x="1641.3" y="1341.2" width="29.6" height="57.5" fill="#4838f5"/>
<path d="M1641.3 1369.8h6.5M1670.9 1369.8h-6.5" stroke="#000" stroke-width="2.2"/>
<text x="1697.6" y="1380.3" font-style="italic">K. pneumoniae</text>
<rect x="1641.3" y="1398.4" width="29.6" height="57.5" fill="#fb6b73"/>
<path d="M1641.3 1427h6.5M1670.9 1427h-6.5" stroke="#000" stroke-width="2.2"/>
<text x="1697.6" y="1437.5" font-style="italic">K. variicola</text>
<rect x="1641.3" y="1455.6" width="29.6" height="57.5" fill="#737373"/>
<path d="M1641.3 1484.2h6.5M1670.9 1484.2h-6.5" stroke="#000" stroke-width="2.2"/>
<text x="1697.6" y="1494.7" font-style="italic">K. quasipneumoniae</text>
<rect x="1641.3" y="1512.8" width="29.6" height="57.5" fill="#006400"/>
<path d="M1641.3 1541.4h6.5M1670.9 1541.4h-6.5" stroke="#000" stroke-width="2.2"/>
<text x="1697.6" y="1551.9">Case</text>
<rect x="1641.3" y="1570" width="29.6" height="57.5" fill="#cc99ff"/>
<path d="M1641.3 1598.6h6.5M1670.9 1598.6h-6.5" stroke="#000" stroke-width="2.2"/>
<text x="1697.6" y="1609.1">Control</text>
<rect x="1641.3" y="1627.2" width="29.6" height="57.5" fill="#663300"/>
<path d="M1641.3 1655.8h6.5M1670.9 1655.8h-6.5" stroke="#000" stroke-width="2.2"/>
<text x="1697.6" y="1666.3">Rectal</text>
<rect x="1641.3" y="1684.4" width="29.6" height="57.5" fill="#ff0000"/>
<path d="M1641.3 1713h6.5M1670.9 1713h-6.5" stroke="#000" stroke-width="2.2"/>
<text x="1697.6" y="1723.5">Blood</text>
<rect x="1641.3" y="1741.6" width="29.6" height="57.5" fill="#0000ff"/>
<path d="M1641.3 1770.2h6.5M1670.9 1770.2h-6.5" stroke="#000" stroke-width="2.2"/>
<text x="1697.6" y="1780.7">Respiratory</text>
<rect x="1641.3" y="1798.8" width="29.6" height="57.5" fill="#ffcc00"/>
<path d="M1641.3 1827.4h6.5M1670.9 1827.4h-6.5" stroke="#000" stroke-width="2.2"/>
<text x="1697.6" y="1837.9">Urine</text>
<rect x="1641.3" y="1856" width="29.6" height="57.5" fill="#660099"/>
<path d="M1641.3 1884.6h6.5M1670.9 1884.6h-6.5" stroke="#000" stroke-width="2.2"/>
<text x="1697.6" y="1895.1">Other</text>
<rect x="1641.3" y="1913.2" width="29.6" height="57.5" fill="#000000"/>
<path d="M1641.3 1941.8h6.5M1670.9 1941.8h-6.5" stroke="#000" stroke-width="2.2"/>
<text x="1697.6" y="1952.3">Gene Present</text>
<rect x="1641.3" y="1970.4" width="29.6" height="57.5" fill="#ffffff"/>
<path d="M1641.3 1999h6.5M1670.9 1999h-6.5" stroke="#000" stroke-width="2.2"/>
<text x="1697.6" y="2009.5">Gene Absent</text>
<rect x="1641.3" y="1341.2" width="29.6" height="686.4" fill="none" stroke="#000" stroke-width="2.8"/>
</g>
<path d="M75.1 2317.6H134M75.9 2314.6V2320.6M133.2 2314.6V2320.6M104.5 2316V2319.4" stroke="#000" stroke-width="2.6" fill="none"/>
<text x="1" y="2348.6" font-family='"Liberation Sans", Arial, Helvetica, sans-serif' font-size="28.6">Tree scale: 0.01</text>
<g id="treeb" fill="none">
<path stroke="#222" stroke-width="1.25" d="M192.42 1357.17V1362.42M192.42 1357.77H198.7M192.42 1361.82H198.47M190.09 1353.12V1360.4M190.09 1353.72H197.6M190.09 1359.8H192.42M188.9 1349.08V1357.36M188.9 1349.67H196.24M188.9 1356.76H190.09M187.52 1345.03V1353.82M187.52 1345.62H195.44M187.52 1353.22H188.9M198.53 1377.42V1382.67M198.53 1378.02H205.27M198.53 1382.07H205.72M198.14 1385.53V1390.77M198.14 1386.12H205.4M198.14 1390.17H205.1M197.13 1379.45V1388.75M197.13 1380.05H198.53M197.13 1388.15H198.14M198.36 1393.62V1398.87M198.36 1394.22H205.38M198.36 1398.27H205.49M199.48 1409.83V1415.07M199.48 1410.42H207.5M199.48 1414.47H206.72M198.47 1405.78V1413.05M198.47 1406.38H207.26M198.47 1412.45H199.48M197.39 1401.72V1410.01M197.39 1402.32H204.64M197.39 1409.41H198.47M196.93 1395.65V1406.47M196.93 1396.25H198.36M196.93 1405.87H197.39M196.22 1383.5V1401.66M196.22 1384.1H197.13M196.22 1401.06H196.93M195.01 1373.38V1393.18M195.01 1373.97H204.17M195.01 1392.58H196.22M192.92 1369.33V1383.88M192.92 1369.92H201.32M192.92 1383.28H195.01M177.28 1365.28V1377.2M177.28 1365.88H194.23M177.28 1376.6H192.92M168.03 1348.82V1371.84M168.03 1349.42H187.52M168.03 1371.24H177.28M217.71 1426.03V1431.27M217.71 1426.62H224.9M217.71 1430.67H225.25M219.85 1434.12V1439.37M219.85 1434.72H225.77M219.85 1438.77H225.79M219.7 1442.22V1447.47M219.7 1442.82H225.96M219.7 1446.88H226.2M225.21 1454.38V1459.62M225.21 1454.97H227.04M225.21 1459.02H226.94M219.29 1450.33V1457.6M219.29 1450.92H226.59M219.29 1457H225.21M220.87 1462.47V1467.72M220.87 1463.07H227.43M220.87 1467.12H227.99M221.84 1474.62V1479.87M221.84 1475.22H228.66M221.84 1479.27H229.25M220.26 1470.58V1477.85M220.26 1471.17H227.28M220.26 1477.25H221.84M219.27 1464.5V1474.81M219.27 1465.1H220.87M219.27 1474.21H220.26M221.92 1486.78V1492.02M221.92 1487.38H228.49M221.92 1491.42H228.75M220.52 1482.72V1490M220.52 1483.32H228.21M220.52 1489.4H221.92M221.62 1494.88V1500.12M221.62 1495.47H228.14M221.62 1499.52H228.45M227.97 1511.08V1516.32M227.97 1511.67H229.16M227.97 1515.72H229.12M228.19 1519.17V1524.42M228.19 1519.77H229.2M228.19 1523.82H228.9M226.46 1513.1V1522.4M226.46 1513.7H227.97M226.46 1521.8H228.19M223.78 1507.03V1518.35M223.78 1507.62H229.53M223.78 1517.75H226.46M221.79 1502.97V1513.29M221.79 1503.57H228.19M221.79 1512.69H223.78M220.22 1496.9V1508.73M220.22 1497.5H221.62M220.22 1508.13H221.79M219.25 1485.76V1503.42M219.25 1486.36H220.52M219.25 1502.82H220.22M228.62 1531.33V1536.57M228.62 1531.92H229.14M228.62 1535.97H228.94M221.34 1527.28V1534.55M221.34 1527.88H228.68M221.34 1533.95H228.62M227.54 1539.42V1544.67M227.54 1540.02H228.06M227.54 1544.07H227.8M219.68 1530.31V1542.65M219.68 1530.91H221.34M219.68 1542.05H227.54M229.27 1551.58V1556.82M229.27 1552.17H230.33M229.27 1556.22H230.15M221.64 1547.53V1554.8M221.64 1548.12H229.76M221.64 1554.2H229.27M226.14 1563.72V1568.97M226.14 1564.32H227.84M226.14 1568.38H227.6M221.49 1559.67V1566.95M221.49 1560.27H228.51M221.49 1566.35H226.14M226.42 1571.83V1577.07M226.42 1572.42H227.45M226.42 1576.47H227.6M223.57 1583.97V1589.22M223.57 1584.57H228.84M223.57 1588.62H228.94M221.84 1579.92V1587.2M221.84 1580.52H228.32M221.84 1586.6H223.57M220.52 1573.85V1584.16M220.52 1574.45H226.42M220.52 1583.56H221.84M219.76 1562.71V1579.61M219.76 1563.31H221.49M219.76 1579.01H220.52M219.55 1550.56V1571.76M219.55 1551.16H221.64M219.55 1571.16H219.76M219.33 1535.88V1561.76M219.33 1536.48H219.68M219.33 1561.16H219.55M219.12 1493.99V1549.42M219.12 1494.59H219.25M219.12 1548.82H219.33M217.71 1469.06V1522.31M217.71 1469.66H219.27M217.71 1521.71H219.12M217.39 1453.36V1496.28M217.39 1453.96H219.29M217.39 1495.68H217.71M216.96 1444.25V1475.42M216.96 1444.85H219.7M216.96 1474.82H217.39M216.52 1436.15V1460.44M216.52 1436.75H219.85M216.52 1459.84H216.96M216.09 1428.05V1448.89M216.09 1428.65H217.71M216.09 1448.29H216.52M215.31 1421.97V1439.07M215.31 1422.57H223.95M215.31 1438.47H216.09M213.5 1417.92V1431.12M213.5 1418.52H221.02M213.5 1430.52H215.31M218.14 1600.17V1605.42M218.14 1600.77H218.49M218.14 1604.82H218.49M212.12 1596.12V1603.4M212.12 1596.72H219.18M212.12 1602.8H218.14M217.39 1608.28V1617.57M217.39 1608.88H217.65M217.39 1612.92H217.88M217.39 1616.97H217.82M210.84 1599.16V1613.52M210.84 1599.76H212.12M210.84 1612.92H217.39M219.12 1632.58V1637.82M219.12 1633.17H219.4M219.12 1637.22H219.61M218.86 1628.53V1635.8M218.86 1629.12H220.09M218.86 1635.2H219.12M217.91 1624.47V1632.76M217.91 1625.07H219.48M217.91 1632.16H218.86M219.12 1640.67V1645.92M219.12 1641.27H220.3M219.12 1645.32H220.54M217.39 1628.02V1643.9M217.39 1628.62H217.91M217.39 1643.3H219.12M212.25 1620.42V1636.56M212.25 1621.02H219.18M212.25 1635.96H217.39M219.12 1660.92V1666.17M219.12 1661.52H220.48M219.12 1665.57H220M218.08 1656.88V1664.15M218.08 1657.47H220.39M218.08 1663.55H219.12M220.13 1673.08V1678.32M220.13 1673.67H222.23M220.13 1677.72H223.22M217.76 1669.03V1676.3M217.76 1669.62H221.56M217.76 1675.7H220.13M220.84 1705.47V1710.72M220.84 1706.07H221.15M220.63 1701.42V1708.7M220.63 1702.02H221.08M220.63 1708.1H220.84M220.3 1697.38V1705.66M220.3 1697.97H221.23M220.3 1705.06H220.63M220.13 1693.33V1702.12M220.13 1693.92H221.15M220.13 1701.52H220.3M219.63 1689.28V1698.32M219.63 1689.88H220.95M219.63 1697.72H220.13M219.22 1685.22V1694.4M219.22 1685.82H221.06M219.22 1693.8H219.63M218.66 1681.17V1690.41M218.66 1681.77H221M218.66 1689.81H219.22M217.17 1672.06V1686.39M217.17 1672.66H217.76M217.17 1685.79H218.66M216.91 1659.91V1679.83M216.91 1660.51H218.08M216.91 1679.23H217.17M215.51 1652.83V1670.47M215.51 1653.42H220.52M215.51 1669.87H216.91M213.5 1648.78V1662.25M213.5 1649.38H220.2M213.5 1661.65H215.51M214.15 1713.58V1718.82M214.15 1714.17H219.27M214.15 1718.22H219.7M218.36 1725.72V1730.97M218.36 1726.32H219.09M218.36 1730.38H219.22M217.39 1721.67V1728.95M217.39 1722.27H219.42M217.39 1728.35H218.36M212.48 1715.6V1725.91M212.48 1716.2H214.15M212.48 1725.31H217.39M213.8 1733.83V1739.07M213.8 1734.42H220.2M213.8 1738.47H220.17M221.92 1758.12V1763.37M221.92 1758.72H222.2M221.92 1762.77H222.38M221.51 1774.33V1779.57M221.51 1774.92H221.69M221.51 1778.97H221.73M221.47 1770.28V1777.55M221.47 1770.88H221.64M221.47 1776.95H221.51M221.41 1766.22V1774.51M221.41 1766.82H221.64M221.41 1773.91H221.47M221.34 1760.15V1770.97M221.34 1760.75H221.92M221.34 1770.37H221.41M219.12 1754.08V1766.16M219.12 1754.67H219.85M219.12 1765.56H221.34M218.1 1750.03V1760.72M218.1 1750.62H220.93M218.1 1760.12H219.12M215.68 1745.97V1755.97M215.68 1746.57H220.2M215.68 1755.37H218.1M212.79 1741.93V1751.57M212.79 1742.53H219.31M212.79 1750.97H215.68M213.69 1782.42V1787.67M213.69 1783.02H220.13M213.69 1787.07H219.89M215.01 1790.53V1795.77M215.01 1791.12H220M215.01 1795.17H220.39M219.12 1802.67V1807.92M219.12 1803.27H219.87M219.12 1807.32H219.59M217.82 1798.62V1805.9M217.82 1799.22H219.98M217.82 1805.3H219.12M212.9 1792.55V1802.86M212.9 1793.15H215.01M212.9 1802.26H217.82M212.92 1810.78V1816.02M212.92 1811.38H220.07M212.92 1815.42H219.61M219.72 1826.97V1832.22M219.72 1827.57H220.22M219.72 1831.62H220.24M218.71 1822.92V1830.2M218.71 1823.52H221.54M218.71 1829.6H219.72M214.34 1818.88V1827.16M214.34 1819.47H221.28M214.34 1826.56H218.71M219.66 1847.22V1852.47M219.66 1847.82H220.24M219.66 1851.88H220.2M218.01 1843.17V1850.45M218.01 1843.77H221.23M218.01 1849.85H219.66M220.52 1859.38V1864.62M220.52 1859.97H221.08M220.52 1864.02H220.95M218.23 1855.32V1862.6M218.23 1855.92H222.49M218.23 1862H220.52M216.98 1846.21V1859.56M216.98 1846.81H218.01M216.98 1858.96H218.23M216.11 1839.12V1853.49M216.11 1839.72H219.87M216.11 1852.89H216.98M212.64 1835.08V1846.91M212.64 1835.67H219.61M212.64 1846.31H216.11M219.12 1867.47V1872.72M219.12 1868.07H219.5M219.12 1872.12H219.63M216.03 1879.62V1884.87M216.03 1880.22H220.09M216.03 1884.27H220.11M212.59 1875.57V1882.85M212.59 1876.17H219.53M212.59 1882.25H216.03M211.86 1869.5V1879.81M211.86 1870.1H219.12M211.86 1879.21H212.59M219.22 1891.78V1897.02M219.22 1892.38H219.68M219.22 1896.42H219.7M212.9 1887.72V1895M212.9 1888.32H219.44M212.9 1894.4H219.22M216.01 1899.88V1905.12M216.01 1900.47H219.12M216.01 1904.52H219.27M218.79 1907.97V1913.22M218.79 1908.57H219.81M218.79 1912.62H219.81M212.48 1901.9V1911.2M212.48 1902.5H216.01M212.48 1910.6H218.79M212.81 1916.07V1921.32M212.81 1916.67H219.92M212.81 1920.72H220.78M219.44 1924.17V1929.42M219.44 1924.77H220.24M219.44 1928.82H220.78M218.9 1932.28V1937.52M218.9 1932.88H221.64M218.9 1936.92H221.47M220.91 1944.42V1953.72M220.91 1945.02H221.64M220.91 1949.07H221.86M220.91 1953.12H221.69M216.63 1940.38V1949.67M216.63 1940.97H222.46M216.63 1949.07H220.91M215.03 1934.3V1945.62M215.03 1934.9H218.9M215.03 1945.02H216.63M213.5 1926.2V1940.56M213.5 1926.8H219.44M213.5 1939.96H215.03M214.95 1964.67V1969.92M214.95 1965.27H221.54M214.95 1969.32H221.69M214 1960.62V1967.9M214 1961.22H221.21M214 1967.3H214.95M213.28 1956.57V1964.86M213.28 1957.17H220.35M213.28 1964.26H214M213.54 1972.78V1978.02M213.54 1973.38H219.63M213.54 1977.42H219.42M218.36 1984.92V1990.17M218.36 1985.52H218.86M218.36 1989.57H218.9M214.08 1980.88V1988.15M214.08 1981.47H219.96M214.08 1987.55H218.36M217.13 1993.03V1998.27M217.13 1993.62H220.56M217.13 1997.67H220.54M219.66 2001.12V2006.37M219.66 2001.72H220.17M219.66 2005.77H220.17M213.07 1995.05V2004.35M213.07 1995.65H217.13M213.07 2003.75H219.66M213.11 2009.22V2014.47M213.11 2009.82H219.74M213.11 2013.88H220.39M213.59 2017.32V2022.57M213.59 2017.92H220.67M213.59 2021.97H220.09M214.7 2029.47V2034.72M214.7 2030.07H220.33M214.7 2034.12H221M219.76 2037.57V2042.82M219.76 2038.17H220.48M219.76 2042.22H220.35M219.12 2049.72V2067.12M219.12 2050.32H220.13M219.12 2054.38H220.28M219.12 2058.42H220.28M219.12 2062.47H219.61M219.12 2066.52H220.17M213.41 2045.67V2059.02M213.41 2046.27H221.08M213.41 2058.42H219.12M219.55 2074.03V2087.37M219.55 2074.62H219.87M219.55 2078.67H220.84M219.55 2082.72H220.54M219.55 2086.77H222.31M213.56 2069.97V2081.3M213.56 2070.57H220.13M213.56 2080.7H219.55M219.98 2098.32V2107.62M219.98 2098.92H220.41M219.98 2102.97H220.61M219.98 2107.02H220.61M220.63 2118.57V2123.82M220.63 2119.17H221.49M220.63 2123.22H221.06M220.09 2114.53V2121.8M220.09 2115.12H221.06M220.09 2121.2H220.63M219.55 2110.47V2118.76M219.55 2111.07H220M219.55 2118.16H220.09M218.01 2102.38V2115.22M218.01 2102.97H219.98M218.01 2114.62H219.55M213.98 2094.28V2109.4M213.98 2094.88H221M213.98 2108.8H218.01M212.77 2090.22V2102.44M212.77 2090.82H220.22M212.77 2101.84H213.98M212.46 2126.67V2131.92M212.46 2127.27H219.07M212.46 2131.32H219.25M214.19 2134.78V2140.03M214.19 2135.38H220.15M214.19 2139.43H220.2M218.58 2142.88V2148.12M218.58 2143.47H218.92M218.58 2147.52H219.09M212.23 2136.8V2146.1M212.23 2137.4H214.19M212.23 2145.5H218.58M219.12 2167.18V2172.42M219.12 2167.78H219.55M219.12 2171.82H219.81M218.68 2163.12V2170.4M218.68 2163.72H221.1M218.68 2169.8H219.12M218.25 2159.07V2167.36M218.25 2159.67H221.64M218.25 2166.76H218.68M217.28 2155.03V2163.82M217.28 2155.62H219.87M217.28 2163.22H218.25M213.05 2150.97V2160.02M213.05 2151.57H219.12M213.05 2159.42H217.28M219.09 2183.38V2188.62M219.09 2183.97H221M219.09 2188.02H221.28M215.03 2179.32V2186.6M215.03 2179.92H220.46M215.03 2186H219.09M213.98 2175.28V2183.56M213.98 2175.88H219.7M213.98 2182.96H215.03M219.22 2191.47V2196.72M219.22 2192.07H219.87M219.22 2196.12H220.33M218.79 2193.5V2212.92M218.79 2194.1H219.22M218.79 2200.17H219.53M218.79 2204.22H219.33M218.79 2208.27H219.42M218.79 2212.32H219.83M212.81 2178.82V2203.81M212.81 2179.42H213.98M212.81 2203.21H218.79M218.53 2227.92V2233.17M218.53 2228.52H220.22M218.53 2232.57H221.12M217.3 2223.88V2231.15M217.3 2224.47H221.3M217.3 2230.55H218.53M216.16 2219.82V2228.11M216.16 2220.42H221.45M216.16 2227.51H217.3M214.32 2215.78V2224.57M214.32 2216.38H219.66M214.32 2223.97H216.16M213.35 2236.03V2241.27M213.35 2236.62H221.34M213.35 2240.67H220.11M213.69 2244.12V2249.37M213.69 2244.72H220.02M213.69 2248.77H221.04M218.84 2260.32V2265.57M218.84 2260.92H222.46M218.84 2264.97H220.93M217.97 2256.28V2263.55M217.97 2256.88H220M217.97 2262.95H218.84M214.17 2252.22V2260.51M214.17 2252.82H220.24M214.17 2259.91H217.97M219.87 2276.53V2281.78M219.87 2277.12H220.39M219.87 2281.18H220.3M219.83 2284.62V2293.92M219.83 2285.22H220.3M219.83 2289.27H220.43M219.83 2293.32H220.28M221.17 2300.83V2306.07M221.17 2301.43H221.49M221.17 2305.47H222.36M219.12 2296.78V2304.05M219.12 2297.38H221.79M219.12 2303.45H221.17M219.98 2308.92V2334.42M219.98 2309.52H220.33M219.98 2313.57H220.24M219.98 2317.62H220.46M219.98 2321.67H220.39M219.98 2325.72H220.54M219.98 2329.78H220.37M219.98 2333.82H220.67M218.58 2299.81V2322.27M218.58 2300.41H219.12M218.58 2321.67H219.98M216.89 2288.67V2311.64M216.89 2289.27H219.83M216.89 2311.04H218.58M214.9 2278.55V2300.76M214.9 2279.15H219.87M214.9 2300.16H216.89M213.63 2272.47V2290.25M213.63 2273.07H220.33M213.63 2289.65H214.9M212.38 2268.42V2281.96M212.38 2269.02H221.02M212.38 2281.36H213.63M212.2 2255.77V2275.79M212.2 2256.37H214.17M212.2 2275.19H212.38M211.99 2246.15V2266.38M211.99 2246.75H213.69M211.99 2265.78H212.2M211.82 2238.05V2256.87M211.82 2238.65H213.35M211.82 2256.27H211.99M211.6 2219.57V2248.06M211.6 2220.17H214.32M211.6 2247.46H211.82M211.45 2190.72V2234.41M211.45 2191.32H212.81M211.45 2233.81H211.6M211.25 1874.06V2213.17M211.25 1874.66H211.86M211.25 1891.36H212.9M211.25 1906.55H212.48M211.25 1918.7H212.81M211.25 1933.38H213.5M211.25 1960.72H213.28M211.25 1975.4H213.54M211.25 1984.51H214.08M211.25 1999.7H213.07M211.25 2011.85H213.11M211.25 2019.95H213.59M211.25 2026.02H221.15M211.25 2032.1H214.7M211.25 2040.2H219.76M211.25 2052.35H213.41M211.25 2075.64H213.56M211.25 2096.33H212.77M211.25 2129.3H212.46M211.25 2141.45H212.23M211.25 2155.5H213.05M211.25 2212.57H211.45M210.91 1627.89V2044.21M210.91 1628.49H212.25M210.91 1655.51H213.5M210.91 1720.76H212.48M210.91 1736.45H213.8M210.91 1746.75H212.79M210.91 1785.05H213.69M210.91 1797.71H212.9M210.91 1813.4H212.92M210.91 1823.02H214.34M210.91 1840.99H212.64M210.91 2043.61H211.25M210.58 1605.74V1836.65M210.58 1606.34H210.84M210.58 1836.05H210.91M207.88 1592.08V1721.8M207.88 1592.67H215.18M207.88 1721.2H210.58M168.36 1423.92V1657.54M168.36 1424.52H213.5M168.36 1656.94H207.88M143.3 1359.73V1541.33M143.3 1360.33H168.03M143.3 1540.73H168.36M118.46 1450.53H143.3M118.96 1450.53H143.3"/>
<path stroke="#8a8a8a" stroke-width="1.1" d="M224 1345.62H227.8M215 1345.62H218.8M206 1345.62H209.8M197 1345.62H200.8M224 1349.67H227.8M215 1349.67H218.8M206 1349.67H209.8M197 1349.67H200.8M224 1353.72H227.8M215 1353.72H218.8M206 1353.72H209.8M197.6 1353.72H200.8M224 1357.77H227.8M215 1357.77H218.8M206 1357.77H209.8M198.7 1357.77H200.8M224 1361.82H227.8M215 1361.82H218.8M206 1361.82H209.8M198.47 1361.82H200.8M224 1365.88H227.8M215 1365.88H218.8M206 1365.88H209.8M197 1365.88H200.8M224 1369.92H227.8M215 1369.92H218.8M206 1369.92H209.8M224 1373.97H227.8M215 1373.97H218.8M206 1373.97H209.8M224 1378.02H227.8M215 1378.02H218.8M206 1378.02H209.8M224 1382.07H227.8M215 1382.07H218.8M206 1382.07H209.8M224 1386.12H227.8M215 1386.12H218.8M206 1386.12H209.8M224 1390.17H227.8M215 1390.17H218.8M206 1390.17H209.8M224 1394.22H227.8M215 1394.22H218.8M206 1394.22H209.8M224 1398.27H227.8M215 1398.27H218.8M206 1398.27H209.8M224 1402.32H227.8M215 1402.32H218.8M206 1402.32H209.8M224 1406.38H227.8M215 1406.38H218.8M207.26 1406.38H209.8M224 1410.42H227.8M215 1410.42H218.8M207.5 1410.42H209.8M224 1414.47H227.8M215 1414.47H218.8M206.72 1414.47H209.8M224 1418.52H227.8M224 1422.57H227.8M224.9 1426.62H227.8M225.25 1430.67H227.8M225.77 1434.72H227.8M225.79 1438.77H227.8M225.96 1442.82H227.8M226.2 1446.88H227.8M226.59 1450.92H227.8M227.04 1454.97H227.8M226.94 1459.02H227.8M227.28 1471.17H227.8M224 1592.67H227.8M215.18 1592.67H218.8M224 1596.72H227.8M224 1600.77H227.8M224 1604.82H227.8M224 1608.88H227.8M217.65 1608.88H218.8M224 1612.92H227.8M217.88 1612.92H218.8M224 1616.97H227.8M217.82 1616.97H218.8M224 1621.02H227.8M224 1625.07H227.8M224 1629.12H227.8M224 1633.17H227.8M224 1637.22H227.8M224 1641.27H227.8M224 1645.32H227.8M224 1649.38H227.8M224 1653.42H227.8M224 1657.47H227.8M224 1661.52H227.8M224 1665.57H227.8M224 1669.62H227.8M224 1673.67H227.8M224 1677.72H227.8M224 1681.77H227.8M224 1685.82H227.8M224 1689.88H227.8M224 1693.92H227.8M224 1697.97H227.8M224 1702.02H227.8M224 1706.07H227.8M224 1710.12H227.8M224 1714.17H227.8M224 1718.22H227.8M224 1722.27H227.8M224 1726.32H227.8M224 1730.38H227.8M224 1734.42H227.8M224 1738.47H227.8M224 1742.53H227.8M224 1746.57H227.8M224 1750.62H227.8M224 1754.67H227.8M224 1758.72H227.8M224 1762.77H227.8M224 1766.82H227.8M224 1770.88H227.8M224 1774.92H227.8M224 1778.97H227.8M224 1783.02H227.8M224 1787.07H227.8M224 1791.12H227.8M224 1795.17H227.8M224 1799.22H227.8M224 1803.27H227.8M224 1807.32H227.8M224 1811.38H227.8M224 1815.42H227.8M224 1819.47H227.8M224 1823.52H227.8M224 1827.57H227.8M224 1831.62H227.8M224 1835.67H227.8M224 1839.72H227.8M224 1843.77H227.8M224 1847.82H227.8M224 1851.88H227.8M224 1855.92H227.8M224 1859.97H227.8M224 1864.02H227.8M224 1868.07H227.8M224 1872.12H227.8M224 1876.17H227.8M224 1880.22H227.8M224 1884.27H227.8M224 1888.32H227.8M224 1892.38H227.8M224 1896.42H227.8M224 1900.47H227.8M224 1904.52H227.8M224 1908.57H227.8M224 1912.62H227.8M224 1916.67H227.8M224 1920.72H227.8M224 1924.77H227.8M224 1928.82H227.8M224 1932.88H227.8M224 1936.92H227.8M224 1940.97H227.8M224 1945.02H227.8M224 1949.07H227.8M224 1953.12H227.8M224 1957.17H227.8M224 1961.22H227.8M224 1965.27H227.8M224 1969.32H227.8M224 1973.38H227.8M224 1977.42H227.8M224 1981.47H227.8M224 1985.52H227.8M224 1989.57H227.8M224 1993.62H227.8M224 1997.67H227.8M224 2001.72H227.8M224 2005.77H227.8M224 2009.82H227.8M224 2013.88H227.8M224 2017.92H227.8M224 2021.97H227.8M224 2026.02H227.8M224 2030.07H227.8M224 2034.12H227.8M224 2038.17H227.8M224 2042.22H227.8M224 2046.27H227.8M224 2050.32H227.8M224 2054.38H227.8M224 2058.42H227.8M224 2062.47H227.8M224 2066.52H227.8M224 2070.57H227.8M224 2074.62H227.8M224 2078.67H227.8M224 2082.72H227.8M224 2086.77H227.8M224 2090.82H227.8M224 2094.88H227.8M224 2098.92H227.8M224 2102.97H227.8M224 2107.02H227.8M224 2111.07H227.8M224 2115.12H227.8M224 2119.17H227.8M224 2123.22H227.8M224 2127.27H227.8M224 2131.32H227.8M224 2135.38H227.8M224 2139.43H227.8M224 2143.47H227.8M224 2147.52H227.8M224 2151.57H227.8M224 2155.62H227.8M224 2159.67H227.8M224 2163.72H227.8M224 2167.78H227.8M224 2171.82H227.8M224 2175.88H227.8M224 2179.92H227.8M224 2183.97H227.8M224 2188.02H227.8M224 2192.07H227.8M224 2196.12H227.8M224 2200.17H227.8M224 2204.22H227.8M224 2208.27H227.8M224 2212.32H227.8M224 2216.38H227.8M224 2220.42H227.8M224 2224.47H227.8M224 2228.52H227.8M224 2232.57H227.8M224 2236.62H227.8M224 2240.67H227.8M224 2244.72H227.8M224 2248.77H227.8M224 2252.82H227.8M224 2256.88H227.8M224 2260.92H227.8M224 2264.97H227.8M224 2269.02H227.8M224 2273.07H227.8M224 2277.12H227.8M224 2281.18H227.8M224 2285.22H227.8M224 2289.27H227.8M224 2293.32H227.8M224 2297.38H227.8M224 2301.43H227.8M224 2305.47H227.8M224 2309.52H227.8M224 2313.57H227.8M224 2317.62H227.8M224 2321.67H227.8M224 2325.72H227.8M224 2329.78H227.8M224 2333.82H227.8"/>
</g>
</svg>
</body></html>
